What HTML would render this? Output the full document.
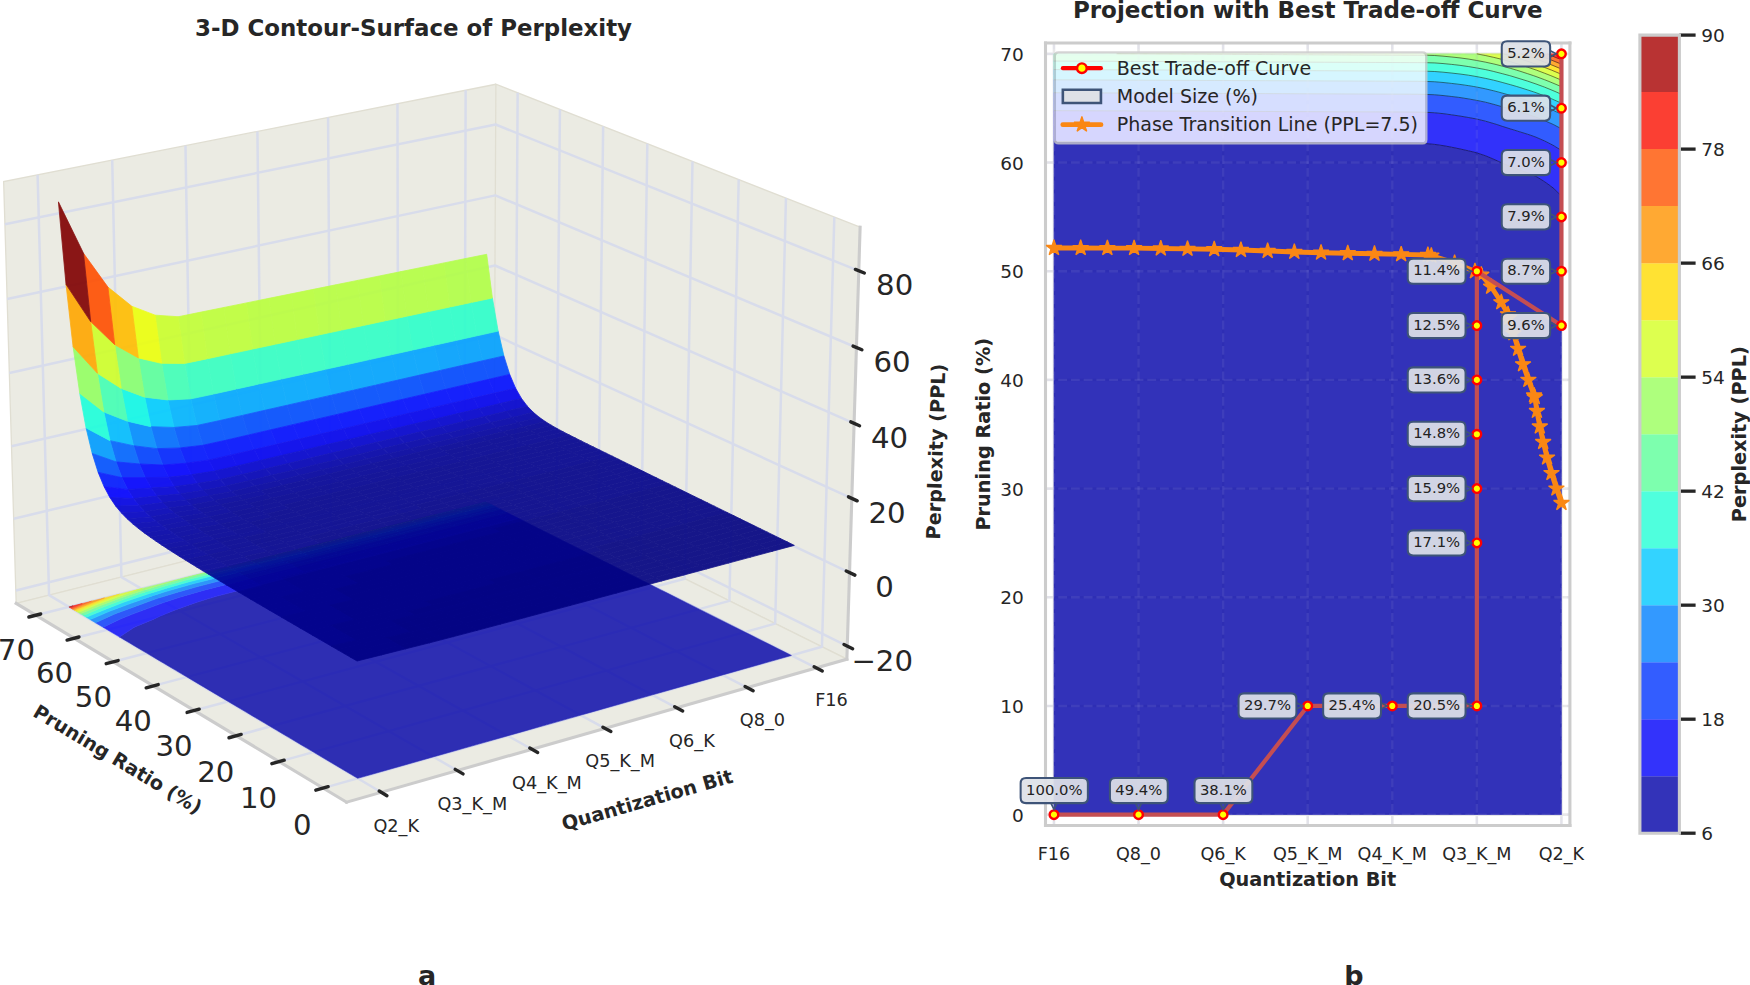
<!DOCTYPE html>
<html lang="en"><head><meta charset="utf-8"><title>Perplexity surface and projection</title>
<style>html,body{margin:0;padding:0;background:#fff}body{width:1750px;height:985px;overflow:hidden}svg{display:block}svg text{font-family:"DejaVu Sans","Liberation Sans",sans-serif}</style></head>
<body>
<svg width="1750" height="985" viewBox="0 0 1750 985"><defs><style type="text/css">*{stroke-linejoin: round; stroke-linecap: butt}</style></defs><g id="figure_1"><g id="patch_1"><path d="M 0 985 L 1750 985 L 1750 0 L 0 0 z" style="fill: #ffffff"/></g><g id="patch_2"><path d="M -1 903.9 L 883.63 903.9 L 883.63 -1" style="fill: none; opacity: 0"/></g><g id="pane3d_1"><g id="patch_3"><path d="M 493.91 484 L 16.17 603.38 L 3.64 181.6 L 495.87 84.26" style="fill: #ebebe3; stroke: #e0ded2; stroke-width: 1.3; stroke-linejoin: miter"/></g></g><g id="pane3d_2"><g id="patch_4"><path d="M 846.88 659.16 L 493.91 484 L 495.87 84.26 L 860.12 227.2" style="fill: #ebebe3; stroke: #e0ded2; stroke-width: 1.3; stroke-linejoin: miter"/></g></g><g id="pane3d_3"><g id="patch_5"><path d="M 846.88 659.16 L 493.91 484 L 16.17 603.38 L 346.59 802.19" style="fill: #ebebe3; stroke: #e0ded2; stroke-width: 1.3; stroke-linejoin: miter"/></g></g><g id="grid3d_1"><g id="Line3DCollection_1"><path d="M 323.13 788.08 L 821.95 646.79 L 834.33 217.09" style="fill: none; stroke: #d8dceb; stroke-width: 2.5"/><path d="M 279.16 761.62 L 775.17 623.58 L 785.96 198.1" style="fill: none; stroke: #d8dceb; stroke-width: 2.5"/><path d="M 236.22 735.78 L 729.43 600.88 L 738.7 179.56" style="fill: none; stroke: #d8dceb; stroke-width: 2.5"/><path d="M 194.29 710.55 L 684.68 578.67 L 692.5 161.43" style="fill: none; stroke: #d8dceb; stroke-width: 2.5"/><path d="M 153.32 685.9 L 640.9 556.95 L 647.33 143.7" style="fill: none; stroke: #d8dceb; stroke-width: 2.5"/><path d="M 113.28 661.81 L 598.06 535.69 L 603.15 126.36" style="fill: none; stroke: #d8dceb; stroke-width: 2.5"/><path d="M 74.14 638.26 L 556.13 514.88 L 559.93 109.41" style="fill: none; stroke: #d8dceb; stroke-width: 2.5"/><path d="M 35.88 615.23 L 515.07 494.51 L 517.65 92.81" style="fill: none; stroke: #d8dceb; stroke-width: 2.5"/></g></g><g id="grid3d_2"><g id="Line3DCollection_2"><path d="M 465.64 90.24 L 464.53 491.35 L 816.27 667.91" style="fill: none; stroke: #d8dceb; stroke-width: 2.5"/><path d="M 397.46 103.72 L 398.27 507.9 L 747.18 687.66" style="fill: none; stroke: #d8dceb; stroke-width: 2.5"/><path d="M 328.07 117.45 L 330.86 524.75 L 676.77 707.79" style="fill: none; stroke: #d8dceb; stroke-width: 2.5"/><path d="M 257.41 131.42 L 262.26 541.88 L 605.01 728.31" style="fill: none; stroke: #d8dceb; stroke-width: 2.5"/><path d="M 185.48 145.64 L 192.46 559.33 L 531.87 749.22" style="fill: none; stroke: #d8dceb; stroke-width: 2.5"/><path d="M 112.21 160.13 L 121.4 577.08 L 457.29 770.55" style="fill: none; stroke: #d8dceb; stroke-width: 2.5"/><path d="M 37.59 174.88 L 49.07 595.15 L 381.23 792.29" style="fill: none; stroke: #d8dceb; stroke-width: 2.5"/></g></g><g id="grid3d_3"><g id="Line3DCollection_3"><path d="M 847.28 646.02 L 493.97 471.82 L 15.79 590.54" style="fill: none; stroke: #d8dceb; stroke-width: 2.5"/><path d="M 849.53 572.59 L 494.3 403.72 L 13.66 518.78" style="fill: none; stroke: #d8dceb; stroke-width: 2.5"/><path d="M 851.81 498.36 L 494.64 334.95 L 11.5 446.28" style="fill: none; stroke: #d8dceb; stroke-width: 2.5"/><path d="M 854.11 423.33 L 494.98 265.5 L 9.33 373.02" style="fill: none; stroke: #d8dceb; stroke-width: 2.5"/><path d="M 856.43 347.49 L 495.32 195.37 L 7.13 298.98" style="fill: none; stroke: #d8dceb; stroke-width: 2.5"/><path d="M 858.78 270.82 L 495.67 124.53 L 4.9 224.15" style="fill: none; stroke: #d8dceb; stroke-width: 2.5"/></g></g><g id="axis3d_1"><g id="line2d_1"><path d="M 16.17 603.38 L 346.59 802.19" style="fill: none; stroke: #cccccc; stroke-width: 3.1; stroke-linecap: square"/></g><g id="xtick_1"><g id="line2d_2"><path d="M 328.16 786.65 L 315.8 790.15" style="fill: none; stroke: #262626; stroke-width: 3.4; stroke-linecap: round"/></g><g id="text_1"><text dx="2.4" dy="-1.5" style="font-size: 29.2px; font-family: 'DejaVu Sans', 'Liberation Sans', sans-serif; text-anchor: middle; fill: #262626" x="299.87" y="836.25" transform="rotate(-0 299.87 836.25)">0</text></g></g><g id="xtick_2"><g id="line2d_3"><path d="M 284.15 760.23 L 271.87 763.65" style="fill: none; stroke: #262626; stroke-width: 3.4; stroke-linecap: round"/></g><g id="text_2"><text dx="2.4" dy="-1.5" style="font-size: 29.2px; font-family: 'DejaVu Sans', 'Liberation Sans', sans-serif; text-anchor: middle; fill: #262626" x="256.11" y="809.44" transform="rotate(-0 256.11 809.44)">10</text></g></g><g id="xtick_3"><g id="line2d_4"><path d="M 241.19 734.42 L 228.98 737.76" style="fill: none; stroke: #262626; stroke-width: 3.4; stroke-linecap: round"/></g><g id="text_3"><text dx="2.4" dy="-1.5" style="font-size: 29.2px; font-family: 'DejaVu Sans', 'Liberation Sans', sans-serif; text-anchor: middle; fill: #262626" x="213.38" y="783.26" transform="rotate(-0 213.38 783.26)">20</text></g></g><g id="xtick_4"><g id="line2d_5"><path d="M 199.22 709.22 L 187.09 712.48" style="fill: none; stroke: #262626; stroke-width: 3.4; stroke-linecap: round"/></g><g id="text_4"><text dx="2.4" dy="-1.5" style="font-size: 29.2px; font-family: 'DejaVu Sans', 'Liberation Sans', sans-serif; text-anchor: middle; fill: #262626" x="171.64" y="757.69" transform="rotate(-0 171.64 757.69)">30</text></g></g><g id="xtick_5"><g id="line2d_6"><path d="M 158.21 684.6 L 146.17 687.79" style="fill: none; stroke: #262626; stroke-width: 3.4; stroke-linecap: round"/></g><g id="text_5"><text dx="2.4" dy="-1.5" style="font-size: 29.2px; font-family: 'DejaVu Sans', 'Liberation Sans', sans-serif; text-anchor: middle; fill: #262626" x="130.87" y="732.72" transform="rotate(-0 130.87 732.72)">40</text></g></g><g id="xtick_6"><g id="line2d_7"><path d="M 118.15 660.54 L 106.17 663.65" style="fill: none; stroke: #262626; stroke-width: 3.4; stroke-linecap: round"/></g><g id="text_6"><text dx="2.4" dy="-1.5" style="font-size: 29.2px; font-family: 'DejaVu Sans', 'Liberation Sans', sans-serif; text-anchor: middle; fill: #262626" x="91.03" y="708.31" transform="rotate(-0 91.03 708.31)">50</text></g></g><g id="xtick_7"><g id="line2d_8"><path d="M 78.98 637.02 L 67.08 640.06" style="fill: none; stroke: #262626; stroke-width: 3.4; stroke-linecap: round"/></g><g id="text_7"><text dx="2.4" dy="-1.5" style="font-size: 29.2px; font-family: 'DejaVu Sans', 'Liberation Sans', sans-serif; text-anchor: middle; fill: #262626" x="52.09" y="684.45" transform="rotate(-0 52.09 684.45)">60</text></g></g><g id="xtick_8"><g id="line2d_9"><path d="M 40.68 614.02 L 28.86 617" style="fill: none; stroke: #262626; stroke-width: 3.4; stroke-linecap: round"/></g><g id="text_8"><text dx="2.4" dy="-1.5" style="font-size: 29.2px; font-family: 'DejaVu Sans', 'Liberation Sans', sans-serif; text-anchor: middle; fill: #262626" x="14.01" y="661.13" transform="rotate(-0 14.01 661.13)">70</text></g></g><g id="text_9"><text style="font-weight: 700; font-size: 19.3px; font-family: 'DejaVu Sans', 'Liberation Sans', sans-serif; text-anchor: middle; fill: #262626" x="114.22" y="765.07" transform="rotate(-328.96 114.22 765.07)">Pruning Ratio (%)</text></g></g><g id="axis3d_2"><g id="line2d_10"><path d="M 846.88 659.16 L 346.59 802.19" style="fill: none; stroke: #cccccc; stroke-width: 3.1; stroke-linecap: square"/></g><g id="xtick_9"><g id="line2d_11"><path d="M 814.12 666.83 L 822.27 670.92" style="fill: none; stroke: #262626; stroke-width: 3.4; stroke-linecap: round"/></g><g id="text_10"><text style="font-size: 17.7px; font-family: 'DejaVu Sans', 'Liberation Sans', sans-serif; text-anchor: middle; fill: #262626" x="831.5" y="706.44" transform="rotate(-0 831.5 706.44)">F16</text></g></g><g id="xtick_10"><g id="line2d_12"><path d="M 745.05 686.56 L 753.14 690.73" style="fill: none; stroke: #262626; stroke-width: 3.4; stroke-linecap: round"/></g><g id="text_11"><text style="font-size: 17.7px; font-family: 'DejaVu Sans', 'Liberation Sans', sans-serif; text-anchor: middle; fill: #262626" x="762.37" y="726.17" transform="rotate(-0 762.37 726.17)">Q8_0</text></g></g><g id="xtick_11"><g id="line2d_13"><path d="M 674.66 706.67 L 682.68 710.92" style="fill: none; stroke: #262626; stroke-width: 3.4; stroke-linecap: round"/></g><g id="text_12"><text style="font-size: 17.7px; font-family: 'DejaVu Sans', 'Liberation Sans', sans-serif; text-anchor: middle; fill: #262626" x="691.93" y="746.59" transform="rotate(-0 691.93 746.59)">Q6_K</text></g></g><g id="xtick_12"><g id="line2d_14"><path d="M 602.91 727.17 L 610.88 731.5" style="fill: none; stroke: #262626; stroke-width: 3.4; stroke-linecap: round"/></g><g id="text_13"><text style="font-size: 17.7px; font-family: 'DejaVu Sans', 'Liberation Sans', sans-serif; text-anchor: middle; fill: #262626" x="620.13" y="767.41" transform="rotate(-0 620.13 767.41)">Q5_K_M</text></g></g><g id="xtick_13"><g id="line2d_15"><path d="M 529.78 748.06 L 537.67 752.47" style="fill: none; stroke: #262626; stroke-width: 3.4; stroke-linecap: round"/></g><g id="text_14"><text style="font-size: 17.7px; font-family: 'DejaVu Sans', 'Liberation Sans', sans-serif; text-anchor: middle; fill: #262626" x="546.94" y="788.63" transform="rotate(-0 546.94 788.63)">Q4_K_M</text></g></g><g id="xtick_14"><g id="line2d_16"><path d="M 455.22 769.36 L 463.04 773.86" style="fill: none; stroke: #262626; stroke-width: 3.4; stroke-linecap: round"/></g><g id="text_15"><text style="font-size: 17.7px; font-family: 'DejaVu Sans', 'Liberation Sans', sans-serif; text-anchor: middle; fill: #262626" x="472.31" y="810.27" transform="rotate(-0 472.31 810.27)">Q3_K_M</text></g></g><g id="xtick_15"><g id="line2d_17"><path d="M 379.19 791.08 L 386.93 795.67" style="fill: none; stroke: #262626; stroke-width: 3.4; stroke-linecap: round"/></g><g id="text_16"><text style="font-size: 17.7px; font-family: 'DejaVu Sans', 'Liberation Sans', sans-serif; text-anchor: middle; fill: #262626" x="396.21" y="832.33" transform="rotate(-0 396.21 832.33)">Q2_K</text></g></g><g id="text_17"><text style="font-weight: 700; font-size: 19.3px; font-family: 'DejaVu Sans', 'Liberation Sans', sans-serif; text-anchor: middle; fill: #262626" x="649.01" y="806.47" transform="rotate(-15.96 649.01 806.47)">Quantization Bit</text></g></g><g id="axis3d_3"><g id="line2d_18"><path d="M 846.88 659.16 L 860.12 227.2" style="fill: none; stroke: #cccccc; stroke-width: 3.1; stroke-linecap: square"/></g><g id="xtick_16"><g id="line2d_19"><path d="M 843.98 644.4 L 852.62 648.66" style="fill: none; stroke: #262626; stroke-width: 3.4; stroke-linecap: round"/></g><g id="text_18"><text style="font-size: 29.2px; font-family: 'DejaVu Sans', 'Liberation Sans', sans-serif; text-anchor: middle; fill: #262626" x="882.19" y="670.54" transform="rotate(-0 882.19 670.54)">−20</text></g></g><g id="xtick_17"><g id="line2d_20"><path d="M 846.21 571.01 L 854.91 575.14" style="fill: none; stroke: #262626; stroke-width: 3.4; stroke-linecap: round"/></g><g id="text_19"><text style="font-size: 29.2px; font-family: 'DejaVu Sans', 'Liberation Sans', sans-serif; text-anchor: middle; fill: #262626" x="884.63" y="597.03" transform="rotate(-0 884.63 597.03)">0</text></g></g><g id="xtick_18"><g id="line2d_21"><path d="M 848.47 496.83 L 857.21 500.83" style="fill: none; stroke: #262626; stroke-width: 3.4; stroke-linecap: round"/></g><g id="text_20"><text style="font-size: 29.2px; font-family: 'DejaVu Sans', 'Liberation Sans', sans-serif; text-anchor: middle; fill: #262626" x="887.09" y="522.73" transform="rotate(-0 887.09 522.73)">20</text></g></g><g id="xtick_19"><g id="line2d_22"><path d="M 850.75 421.86 L 859.55 425.72" style="fill: none; stroke: #262626; stroke-width: 3.4; stroke-linecap: round"/></g><g id="text_21"><text style="font-size: 29.2px; font-family: 'DejaVu Sans', 'Liberation Sans', sans-serif; text-anchor: middle; fill: #262626" x="889.59" y="447.63" transform="rotate(-0 889.59 447.63)">40</text></g></g><g id="xtick_20"><g id="line2d_23"><path d="M 853.05 346.07 L 861.9 349.79" style="fill: none; stroke: #262626; stroke-width: 3.4; stroke-linecap: round"/></g><g id="text_22"><text style="font-size: 29.2px; font-family: 'DejaVu Sans', 'Liberation Sans', sans-serif; text-anchor: middle; fill: #262626" x="892.11" y="371.71" transform="rotate(-0 892.11 371.71)">60</text></g></g><g id="xtick_21"><g id="line2d_24"><path d="M 855.38 269.45 L 864.29 273.04" style="fill: none; stroke: #262626; stroke-width: 3.4; stroke-linecap: round"/></g><g id="text_23"><text style="font-size: 29.2px; font-family: 'DejaVu Sans', 'Liberation Sans', sans-serif; text-anchor: middle; fill: #262626" x="894.65" y="294.97" transform="rotate(-0 894.65 294.97)">80</text></g></g><g id="text_24"><text style="font-weight: 700; font-size: 19.3px; font-family: 'DejaVu Sans', 'Liberation Sans', sans-serif; text-anchor: middle; fill: #262626" x="942.72" y="451.76" transform="rotate(-88.24 942.72 451.76)">Perplexity (PPL)</text></g></g><g id="axes_1"><g id="QuadContourSet3D_1" opacity="0.8" stroke-width="0.6"><path d="M 769.8 661.56 L 748.05 667.72 L 726.17 673.92 L 704.16 680.15 L 682.02 686.42 L 659.75 692.73 L 637.35 699.08 L 614.81 705.46 L 592.13 711.88 L 569.32 718.35 L 546.37 724.85 L 523.29 731.38 L 500.06 737.96 L 476.69 744.58 L 453.17 751.24 L 429.51 757.95 L 405.71 764.69 L 381.76 771.47 L 357.66 778.3 L 351.28 774.51 L 344.92 770.74 L 338.59 766.98 L 332.28 763.23 L 325.98 759.5 L 319.71 755.78 L 313.47 752.07 L 307.24 748.37 L 301.03 744.69 L 294.85 741.02 L 288.68 737.36 L 282.54 733.71 L 276.41 730.08 L 270.31 726.46 L 264.23 722.85 L 258.17 719.25 L 252.12 715.66 L 246.1 712.09 L 240.1 708.53 L 234.12 704.98 L 228.16 701.44 L 222.21 697.91 L 216.29 694.4 L 210.39 690.9 L 204.51 687.4 L 198.64 683.92 L 192.8 680.45 L 186.97 677 L 181.16 673.55 L 175.38 670.11 L 169.61 666.69 L 163.86 663.28 L 158.12 659.88 L 152.41 656.49 L 146.72 653.11 L 141.04 649.74 L 135.38 646.38 L 129.74 643.03 L 124.12 639.7 L 119.52 636.97 L 121.36 635.64 L 133.55 627.77 L 135.45 626.68 L 154.9 618.64 L 159.78 616.34 L 173.84 610.45 L 194.07 603.15 L 197.7 601.97 L 215.36 596.59 L 237.66 590.71 L 260.02 584.97 L 282.26 579.27 L 304.37 573.6 L 326.35 567.95 L 348.2 562.34 L 369.93 556.76 L 391.55 551.21 L 413.05 545.69 L 434.43 540.21 L 455.69 534.76 L 476.84 529.33 L 497.87 523.94 L 518.78 518.58 L 520.62 519.5 L 526.51 522.46 L 532.43 525.43 L 538.36 528.41 L 544.31 531.39 L 550.28 534.39 L 556.27 537.39 L 562.27 540.41 L 568.3 543.43 L 574.34 546.47 L 580.4 549.51 L 586.48 552.56 L 592.58 555.62 L 598.69 558.69 L 604.83 561.77 L 610.98 564.86 L 617.16 567.96 L 623.35 571.07 L 629.56 574.19 L 635.79 577.32 L 642.05 580.45 L 648.32 583.6 L 654.61 586.76 L 660.92 589.93 L 667.25 593.1 L 673.6 596.29 L 679.97 599.49 L 686.36 602.7 L 692.77 605.92 L 699.2 609.14 L 705.65 612.38 L 712.12 615.63 L 718.62 618.89 L 725.13 622.16 L 731.66 625.44 L 738.22 628.73 L 744.8 632.03 L 751.39 635.34 L 758.01 638.66 L 764.65 642 L 771.31 645.34 L 777.99 648.69 L 784.7 652.06 L 791.42 655.44 z" fill="#0000a8" stroke="#0000a8"/><path d="M 119.52 636.97 L 118.52 636.37 L 112.93 633.06 L 107.37 629.75 L 103.21 627.28 L 107.81 624.93 L 121.51 618.49 L 133.79 613.62 L 141.43 610.79 L 161.46 603.31 L 178.9 597.5 L 182.31 596.43 L 204.02 590.17 L 226.38 584.38 L 248.71 578.68 L 270.91 573.01 L 292.98 567.38 L 314.93 561.77 L 336.76 556.2 L 358.46 550.65 L 380.04 545.14 L 401.51 539.66 L 422.85 534.21 L 444.08 528.78 L 465.19 523.39 L 486.19 518.03 L 507.07 512.7 L 508.88 513.61 L 514.74 516.55 L 518.78 518.58 L 497.87 523.94 L 476.84 529.33 L 455.69 534.76 L 434.43 540.21 L 413.05 545.69 L 391.55 551.21 L 369.93 556.76 L 348.2 562.34 L 326.35 567.95 L 304.37 573.6 L 282.26 579.27 L 260.02 584.97 L 237.66 590.71 L 215.36 596.59 L 197.7 601.97 L 194.07 603.15 L 173.84 610.45 L 159.78 616.34 L 154.9 618.64 L 135.45 626.68 L 133.55 627.77 L 121.36 635.64 z" fill="#0000fa" stroke="#0000fa"/><path d="M 103.21 627.28 L 101.82 626.46 L 96.28 623.18 L 95.44 622.67 L 114.19 614.18 L 115.94 613.5 L 134.45 606.73 L 154.57 599.33 L 158.38 598.1 L 175.83 592.73 L 197.6 586.53 L 219.97 580.79 L 242.27 575.1 L 264.45 569.45 L 286.5 563.84 L 308.43 558.25 L 330.23 552.69 L 351.91 547.17 L 373.47 541.67 L 394.91 536.21 L 416.24 530.77 L 437.44 525.37 L 458.53 520 L 479.51 514.65 L 500.37 509.33 L 503.04 510.67 L 507.07 512.7 L 486.19 518.03 L 465.19 523.39 L 444.08 528.78 L 422.85 534.21 L 401.51 539.66 L 380.04 545.14 L 358.46 550.65 L 336.76 556.2 L 314.93 561.77 L 292.98 567.38 L 270.91 573.01 L 248.71 578.68 L 226.38 584.38 L 204.02 590.17 L 182.31 596.43 L 178.9 597.5 L 161.46 603.31 L 141.43 610.79 L 133.79 613.62 L 121.51 618.49 L 107.81 624.93 z" fill="#0034ff" stroke="#0034ff"/><path d="M 114.19 614.18 L 95.44 622.67 L 90.77 619.9 L 90.24 619.59 L 109.38 611.35 L 115.6 608.95 L 129.53 603.86 L 149.9 596.64 L 164.92 591.85 L 171.03 589.99 L 192.89 583.86 L 215.26 578.15 L 237.55 572.48 L 259.71 566.84 L 281.75 561.24 L 303.66 555.67 L 325.45 550.13 L 347.12 544.62 L 368.67 539.14 L 390.1 533.69 L 411.41 528.27 L 432.6 522.88 L 453.68 517.52 L 474.64 512.19 L 495.49 506.88 L 497.21 507.75 L 500.37 509.33 L 479.51 514.65 L 458.53 520 L 437.44 525.37 L 416.24 530.77 L 394.91 536.21 L 373.47 541.67 L 351.91 547.17 L 330.23 552.69 L 308.43 558.25 L 286.5 563.84 L 264.45 569.45 L 242.27 575.1 L 219.97 580.79 L 197.6 586.53 L 175.83 592.73 L 158.38 598.1 L 154.57 599.33 L 134.45 606.73 L 115.94 613.5 z" fill="#0080ff" stroke="#0080ff"/><path d="M 109.38 611.35 L 90.24 619.59 L 86.39 617.3 L 91.46 615.07 L 105.7 609.19 L 123.43 602.34 L 125.57 601.56 L 146.24 594.53 L 167.43 587.93 L 189.16 581.75 L 211.53 576.05 L 233.79 570.39 L 255.93 564.76 L 277.95 559.16 L 299.84 553.6 L 321.61 548.06 L 343.25 542.56 L 364.78 537.09 L 386.19 531.64 L 407.48 526.23 L 428.65 520.85 L 449.71 515.49 L 470.65 510.17 L 491.47 504.87 L 495.49 506.88 L 474.64 512.19 L 453.68 517.52 L 432.6 522.88 L 411.41 528.27 L 390.1 533.69 L 368.67 539.14 L 347.12 544.62 L 325.45 550.13 L 303.66 555.67 L 281.75 561.24 L 259.71 566.84 L 237.55 572.48 L 215.26 578.15 L 192.89 583.86 L 171.03 589.99 L 164.92 591.85 L 149.9 596.64 L 129.53 603.86 L 115.6 608.95 z" fill="#00c8ff" stroke="#00c8ff"/><path d="M 86.39 617.3 L 85.27 616.64 L 83.29 615.46 L 100.06 608.26 L 102.46 607.28 L 122.6 599.83 L 140.95 593.33 L 142.97 592.65 L 164.35 586.17 L 186.2 580.08 L 208.58 574.39 L 230.84 568.74 L 252.97 563.13 L 274.98 557.54 L 296.87 551.99 L 318.63 546.47 L 340.28 540.98 L 361.8 535.51 L 383.21 530.08 L 404.49 524.68 L 425.66 519.31 L 446.71 513.96 L 467.65 508.65 L 488.47 503.36 L 491.4 504.84 L 491.47 504.87 L 470.65 510.17 L 449.71 515.49 L 428.65 520.85 L 407.48 526.23 L 386.19 531.64 L 364.78 537.09 L 343.25 542.56 L 321.61 548.06 L 299.84 553.6 L 277.95 559.16 L 255.93 564.76 L 233.79 570.39 L 211.53 576.05 L 189.16 581.75 L 167.43 587.93 L 146.24 594.53 L 125.57 601.56 L 123.43 602.34 L 105.7 609.19 L 91.46 615.07 z" fill="#23ffd4" stroke="#23ffd4"/><path d="M 83.29 615.46 L 80.5 613.81 L 83.9 612.35 L 99.96 605.82 L 115.89 599.65 L 119.81 598.2 L 140.49 591.21 L 161.68 584.64 L 183.43 578.51 L 205.8 572.84 L 228.05 567.19 L 250.17 561.58 L 272.16 556 L 294.03 550.45 L 315.78 544.94 L 337.41 539.45 L 358.92 533.99 L 380.3 528.56 L 401.57 523.17 L 422.73 517.8 L 436.53 514.29 L 443.78 512.47 L 464.75 507.18 L 485.61 501.93 L 488.47 503.36 L 467.65 508.65 L 446.71 513.96 L 425.66 519.31 L 404.49 524.68 L 383.21 530.08 L 361.8 535.51 L 340.28 540.98 L 318.63 546.47 L 296.87 551.99 L 274.98 557.54 L 252.97 563.13 L 230.84 568.74 L 208.58 574.39 L 186.2 580.08 L 164.35 586.17 L 142.97 592.65 L 140.95 593.33 L 122.6 599.83 L 102.46 607.28 L 100.06 608.26 z" fill="#5dff9a" stroke="#5dff9a"/><path d="M 80.5 613.81 L 79.79 613.39 L 78.26 612.48 L 97.47 604.35 L 97.81 604.22 L 117.58 596.91 L 138 589.78 L 142.43 588.39 L 160.34 583.88 L 182.88 578.2 L 205.29 572.55 L 227.58 566.93 L 249.75 561.35 L 271.79 555.8 L 293.7 550.28 L 315.5 544.79 L 337.18 539.32 L 358.73 533.89 L 380.17 528.49 L 401.49 523.12 L 422.69 517.78 L 436.53 514.29 L 422.73 517.8 L 401.57 523.17 L 380.3 528.56 L 358.92 533.99 L 337.41 539.45 L 315.78 544.94 L 294.03 550.45 L 272.16 556 L 250.17 561.58 L 228.05 567.19 L 205.8 572.84 L 183.43 578.51 L 161.68 584.64 L 140.49 591.21 L 119.81 598.2 L 115.89 599.65 L 99.96 605.82 L 83.9 612.35 z" fill="#9aff5d" stroke="#9aff5d"/><path d="M 97.47 604.35 L 78.26 612.48 L 76.21 611.26 L 85.5 607.33 L 95.59 603.25 L 115.36 595.61 L 119.47 594.17 L 137.67 589.59 L 142.43 588.39 L 138 589.78 L 117.58 596.91 L 97.81 604.22 z" fill="#d4ff23" stroke="#d4ff23"/><path d="M 76.21 611.26 L 74.33 610.15 L 74.2 610.07 L 93.72 602.15 L 104.55 597.93 L 114.87 595.33 L 119.47 594.17 L 115.36 595.61 L 95.59 603.25 L 85.5 607.33 z" fill="#ffdb00" stroke="#ffdb00"/><path d="M 93.72 602.15 L 74.2 610.07 L 72.66 609.15 L 91.5 601.22 L 91.95 601.11 L 104.55 597.93 z" fill="#ff9400" stroke="#ff9400"/><path d="M 72.66 609.15 L 71.12 608.24 L 82.29 603.54 L 91.5 601.22 z" fill="#ff5200" stroke="#ff5200"/><path d="M 71.12 608.24 L 69.58 607.33 L 73.05 605.87 L 82.29 603.54 z" fill="#fa0f00" stroke="#fa0f00"/><path d="M 69.58 607.33 L 68.89 606.92 L 73.05 605.87 z" fill="#a80000" stroke="#a80000"/></g><g id="Poly3DCollection_1" opacity="0.9" stroke-width="0.8"><path d="M 503.9 355.93 L 482.76 360.74 L 476.96 335.78 L 498.12 331.1 z" fill="#00a0ff" stroke="#00a0ff"/><path d="M 509.71 374.41 L 488.58 379.32 L 482.76 360.74 L 503.9 355.93 z" fill="#0048ff" stroke="#0048ff"/><path d="M 498.12 331.1 L 476.96 335.78 L 471.2 302.48 L 492.38 297.97 z" fill="#2cffca" stroke="#2cffca"/><path d="M 515.56 388.14 L 494.43 393.12 L 488.58 379.32 L 509.71 374.41 z" fill="#000cff" stroke="#000cff"/><path d="M 492.38 297.97 L 471.2 302.48 L 465.45 258.59 L 486.68 254.31 z" fill="#b1ff46" stroke="#b1ff46"/><path d="M 521.44 398.41 L 500.31 403.44 L 494.43 393.12 L 515.56 388.14 z" fill="#0000ed" stroke="#0000ed"/><path d="M 527.36 406.23 L 506.21 411.3 L 500.31 403.44 L 521.44 398.41 z" fill="#0000cd" stroke="#0000cd"/><path d="M 482.76 360.74 L 461.5 365.58 L 455.69 340.49 L 476.96 335.78 z" fill="#00a0ff" stroke="#00a0ff"/><path d="M 488.58 379.32 L 467.33 384.25 L 461.5 365.58 L 482.76 360.74 z" fill="#0048ff" stroke="#0048ff"/><path d="M 476.96 335.78 L 455.69 340.49 L 449.89 307.02 L 471.2 302.48 z" fill="#2cffca" stroke="#2cffca"/><path d="M 494.43 393.12 L 473.19 398.12 L 467.33 384.25 L 488.58 379.32 z" fill="#000cff" stroke="#000cff"/><path d="M 533.3 412.34 L 512.14 417.44 L 506.21 411.3 L 527.36 406.23 z" fill="#0000b6" stroke="#0000b6"/><path d="M 471.2 302.48 L 449.89 307.02 L 444.1 262.91 L 465.45 258.59 z" fill="#b1ff46" stroke="#b1ff46"/><path d="M 500.31 403.44 L 479.06 408.5 L 473.19 398.12 L 494.43 393.12 z" fill="#0000ed" stroke="#0000ed"/><path d="M 539.26 417.31 L 518.1 422.43 L 512.14 417.44 L 533.3 412.34 z" fill="#0000a8" stroke="#0000a8"/><path d="M 506.21 411.3 L 484.95 416.39 L 479.06 408.5 L 500.31 403.44 z" fill="#0000cd" stroke="#0000cd"/><path d="M 461.5 365.58 L 440.13 370.44 L 434.3 345.22 L 455.69 340.49 z" fill="#00a0ff" stroke="#00a0ff"/><path d="M 467.33 384.25 L 445.97 389.21 L 440.13 370.44 L 461.5 365.58 z" fill="#0048ff" stroke="#0048ff"/><path d="M 455.69 340.49 L 434.3 345.22 L 428.47 311.58 L 449.89 307.02 z" fill="#2cffca" stroke="#2cffca"/><path d="M 473.19 398.12 L 451.82 403.15 L 445.97 389.21 L 467.33 384.25 z" fill="#000cff" stroke="#000cff"/><path d="M 545.25 421.51 L 524.07 426.66 L 518.1 422.43 L 539.26 417.31 z" fill="#00009f" stroke="#00009f"/><path d="M 512.14 417.44 L 490.87 422.57 L 484.95 416.39 L 506.21 411.3 z" fill="#0000b6" stroke="#0000b6"/><path d="M 449.89 307.02 L 428.47 311.58 L 422.63 267.24 L 444.1 262.91 z" fill="#b4ff43" stroke="#b4ff43"/><path d="M 479.06 408.5 L 457.69 413.58 L 451.82 403.15 L 473.19 398.12 z" fill="#0000ed" stroke="#0000ed"/><path d="M 518.1 422.43 L 496.81 427.59 L 490.87 422.57 L 512.14 417.44 z" fill="#0000a8" stroke="#0000a8"/><path d="M 551.26 425.24 L 530.06 430.4 L 524.07 426.66 L 545.25 421.51 z" fill="#000096" stroke="#000096"/><path d="M 484.95 416.39 L 463.58 421.52 L 457.69 413.58 L 479.06 408.5 z" fill="#0000cd" stroke="#0000cd"/><path d="M 440.13 370.44 L 418.64 375.33 L 412.79 349.98 L 434.3 345.22 z" fill="#00a4ff" stroke="#00a4ff"/><path d="M 445.97 389.21 L 424.48 394.19 L 418.64 375.33 L 440.13 370.44 z" fill="#0048ff" stroke="#0048ff"/><path d="M 434.3 345.22 L 412.79 349.98 L 406.93 316.17 L 428.47 311.58 z" fill="#2cffca" stroke="#2cffca"/><path d="M 451.82 403.15 L 430.34 408.2 L 424.48 394.19 L 445.97 389.21 z" fill="#000cff" stroke="#000cff"/><path d="M 524.07 426.66 L 502.77 431.84 L 496.81 427.59 L 518.1 422.43 z" fill="#00009f" stroke="#00009f"/><path d="M 490.87 422.57 L 469.48 427.73 L 463.58 421.52 L 484.95 416.39 z" fill="#0000b6" stroke="#0000b6"/><path d="M 557.29 428.65 L 536.08 433.84 L 530.06 430.4 L 551.26 425.24 z" fill="#000092" stroke="#000092"/><path d="M 428.47 311.58 L 406.93 316.17 L 401.05 271.61 L 422.63 267.24 z" fill="#b4ff43" stroke="#b4ff43"/><path d="M 457.69 413.58 L 436.2 418.69 L 430.34 408.2 L 451.82 403.15 z" fill="#0000ed" stroke="#0000ed"/><path d="M 496.81 427.59 L 475.41 432.77 L 469.48 427.73 L 490.87 422.57 z" fill="#0000a8" stroke="#0000a8"/><path d="M 530.06 430.4 L 508.75 435.6 L 502.77 431.84 L 524.07 426.66 z" fill="#000096" stroke="#000096"/><path d="M 463.58 421.52 L 442.08 426.66 L 436.2 418.69 L 457.69 413.58 z" fill="#0000cd" stroke="#0000cd"/><path d="M 418.64 375.33 L 397.03 380.24 L 391.16 354.77 L 412.79 349.98 z" fill="#00a4ff" stroke="#00a4ff"/><path d="M 563.34 431.89 L 542.11 437.1 L 536.08 433.84 L 557.29 428.65 z" fill="#000092" stroke="#000092"/><path d="M 424.48 394.19 L 402.88 399.2 L 397.03 380.24 L 418.64 375.33 z" fill="#004cff" stroke="#004cff"/><path d="M 412.79 349.98 L 391.16 354.77 L 385.27 320.79 L 406.93 316.17 z" fill="#30ffc7" stroke="#30ffc7"/><path d="M 430.34 408.2 L 408.73 413.28 L 402.88 399.2 L 424.48 394.19 z" fill="#000cff" stroke="#000cff"/><path d="M 502.77 431.84 L 481.35 437.05 L 475.41 432.77 L 496.81 427.59 z" fill="#00009f" stroke="#00009f"/><path d="M 469.48 427.73 L 447.97 432.91 L 442.08 426.66 L 463.58 421.52 z" fill="#0000b6" stroke="#0000b6"/><path d="M 536.08 433.84 L 514.75 439.06 L 508.75 435.6 L 530.06 430.4 z" fill="#000092" stroke="#000092"/><path d="M 406.93 316.17 L 385.27 320.79 L 379.34 276 L 401.05 271.61 z" fill="#b4ff43" stroke="#b4ff43"/><path d="M 569.41 435.02 L 548.17 440.24 L 542.11 437.1 L 563.34 431.89 z" fill="#000092" stroke="#000092"/><path d="M 436.2 418.69 L 414.59 423.82 L 408.73 413.28 L 430.34 408.2 z" fill="#0000ed" stroke="#0000ed"/><path d="M 475.41 432.77 L 453.88 437.98 L 447.97 432.91 L 469.48 427.73 z" fill="#0000a8" stroke="#0000a8"/><path d="M 508.75 435.6 L 487.32 440.83 L 481.35 437.05 L 502.77 431.84 z" fill="#000096" stroke="#000096"/><path d="M 442.08 426.66 L 420.46 431.84 L 414.59 423.82 L 436.2 418.69 z" fill="#0000cd" stroke="#0000cd"/><path d="M 542.11 437.1 L 520.77 442.33 L 514.75 439.06 L 536.08 433.84 z" fill="#000092" stroke="#000092"/><path d="M 397.03 380.24 L 375.29 385.18 L 369.41 359.58 L 391.16 354.77 z" fill="#00a4ff" stroke="#00a4ff"/><path d="M 402.88 399.2 L 381.15 404.24 L 375.29 385.18 L 397.03 380.24 z" fill="#004cff" stroke="#004cff"/><path d="M 575.5 438.09 L 554.24 443.33 L 548.17 440.24 L 569.41 435.02 z" fill="#00008d" stroke="#00008d"/><path d="M 391.16 354.77 L 369.41 359.58 L 363.49 325.43 L 385.27 320.79 z" fill="#30ffc7" stroke="#30ffc7"/><path d="M 408.73 413.28 L 387.01 418.39 L 381.15 404.24 L 402.88 399.2 z" fill="#000cff" stroke="#000cff"/><path d="M 481.35 437.05 L 459.81 442.28 L 453.88 437.98 L 475.41 432.77 z" fill="#00009f" stroke="#00009f"/><path d="M 447.97 432.91 L 426.34 438.12 L 420.46 431.84 L 442.08 426.66 z" fill="#0000b6" stroke="#0000b6"/><path d="M 514.75 439.06 L 493.3 444.31 L 487.32 440.83 L 508.75 435.6 z" fill="#000092" stroke="#000092"/><path d="M 385.27 320.79 L 363.49 325.43 L 357.5 280.41 L 379.34 276 z" fill="#b7ff40" stroke="#b7ff40"/><path d="M 548.17 440.24 L 526.81 445.5 L 520.77 442.33 L 542.11 437.1 z" fill="#000092" stroke="#000092"/><path d="M 414.59 423.82 L 392.86 428.98 L 387.01 418.39 L 408.73 413.28 z" fill="#0000ed" stroke="#0000ed"/><path d="M 581.61 441.13 L 560.33 446.39 L 554.24 443.33 L 575.5 438.09 z" fill="#00008d" stroke="#00008d"/><path d="M 453.88 437.98 L 432.24 443.21 L 426.34 438.12 L 447.97 432.91 z" fill="#0000a8" stroke="#0000a8"/><path d="M 487.32 440.83 L 465.76 446.08 L 459.81 442.28 L 481.35 437.05 z" fill="#000096" stroke="#000096"/><path d="M 420.46 431.84 L 398.72 437.04 L 392.86 428.98 L 414.59 423.82 z" fill="#0000cd" stroke="#0000cd"/><path d="M 520.77 442.33 L 499.31 447.6 L 493.3 444.31 L 514.75 439.06 z" fill="#000092" stroke="#000092"/><path d="M 375.29 385.18 L 353.43 390.15 L 347.53 364.42 L 369.41 359.58 z" fill="#00a4ff" stroke="#00a4ff"/><path d="M 381.15 404.24 L 359.3 409.29 L 353.43 390.15 L 375.29 385.18 z" fill="#004cff" stroke="#004cff"/><path d="M 554.24 443.33 L 532.87 448.6 L 526.81 445.5 L 548.17 440.24 z" fill="#00008d" stroke="#00008d"/><path d="M 369.41 359.58 L 347.53 364.42 L 341.58 330.1 L 363.49 325.43 z" fill="#30ffc7" stroke="#30ffc7"/><path d="M 587.73 444.16 L 566.45 449.43 L 560.33 446.39 L 581.61 441.13 z" fill="#00008d" stroke="#00008d"/><path d="M 387.01 418.39 L 365.16 423.52 L 359.3 409.29 L 381.15 404.24 z" fill="#000cff" stroke="#000cff"/><path d="M 459.81 442.28 L 438.16 447.53 L 432.24 443.21 L 453.88 437.98 z" fill="#00009f" stroke="#00009f"/><path d="M 426.34 438.12 L 404.59 443.35 L 398.72 437.04 L 420.46 431.84 z" fill="#0000b6" stroke="#0000b6"/><path d="M 493.3 444.31 L 471.73 449.57 L 465.76 446.08 L 487.32 440.83 z" fill="#000092" stroke="#000092"/><path d="M 363.49 325.43 L 341.58 330.1 L 335.55 284.86 L 357.5 280.41 z" fill="#b7ff40" stroke="#b7ff40"/><path d="M 526.81 445.5 L 505.33 450.78 L 499.31 447.6 L 520.77 442.33 z" fill="#000092" stroke="#000092"/><path d="M 392.86 428.98 L 371 434.17 L 365.16 423.52 L 387.01 418.39 z" fill="#0000ed" stroke="#0000ed"/><path d="M 560.33 446.39 L 538.94 451.67 L 532.87 448.6 L 554.24 443.33 z" fill="#00008d" stroke="#00008d"/><path d="M 593.88 447.18 L 572.58 452.47 L 566.45 449.43 L 587.73 444.16 z" fill="#00008d" stroke="#00008d"/><path d="M 432.24 443.21 L 410.47 448.48 L 404.59 443.35 L 426.34 438.12 z" fill="#0000a8" stroke="#0000a8"/><path d="M 465.76 446.08 L 444.09 451.36 L 438.16 447.53 L 459.81 442.28 z" fill="#000096" stroke="#000096"/><path d="M 398.72 437.04 L 376.85 442.27 L 371 434.17 L 392.86 428.98 z" fill="#0000cd" stroke="#0000cd"/><path d="M 499.31 447.6 L 477.72 452.88 L 471.73 449.57 L 493.3 444.31 z" fill="#000092" stroke="#000092"/><path d="M 353.43 390.15 L 331.45 395.14 L 325.53 369.28 L 347.53 364.42 z" fill="#00a4ff" stroke="#00a4ff"/><path d="M 359.3 409.29 L 337.33 414.38 L 331.45 395.14 L 353.43 390.15 z" fill="#004cff" stroke="#004cff"/><path d="M 532.87 448.6 L 511.37 453.9 L 505.33 450.78 L 526.81 445.5 z" fill="#00008d" stroke="#00008d"/><path d="M 347.53 364.42 L 325.53 369.28 L 319.55 334.79 L 341.58 330.1 z" fill="#30ffc7" stroke="#30ffc7"/><path d="M 566.45 449.43 L 545.04 454.73 L 538.94 451.67 L 560.33 446.39 z" fill="#00008d" stroke="#00008d"/><path d="M 365.16 423.52 L 343.18 428.68 L 337.33 414.38 L 359.3 409.29 z" fill="#000cff" stroke="#000cff"/><path d="M 600.05 450.21 L 578.73 455.52 L 572.58 452.47 L 593.88 447.18 z" fill="#00008d" stroke="#00008d"/><path d="M 438.16 447.53 L 416.37 452.82 L 410.47 448.48 L 432.24 443.21 z" fill="#00009f" stroke="#00009f"/><path d="M 404.59 443.35 L 382.71 448.61 L 376.85 442.27 L 398.72 437.04 z" fill="#0000b6" stroke="#0000b6"/><path d="M 471.73 449.57 L 450.04 454.87 L 444.09 451.36 L 465.76 446.08 z" fill="#000092" stroke="#000092"/><path d="M 341.58 330.1 L 319.55 334.79 L 313.46 289.33 L 335.55 284.86 z" fill="#b7ff40" stroke="#b7ff40"/><path d="M 505.33 450.78 L 483.73 456.08 L 477.72 452.88 L 499.31 447.6 z" fill="#000092" stroke="#000092"/><path d="M 371 434.17 L 349.03 439.38 L 343.18 428.68 L 365.16 423.52 z" fill="#0000ed" stroke="#0000ed"/><path d="M 538.94 451.67 L 517.43 456.99 L 511.37 453.9 L 532.87 448.6 z" fill="#00008d" stroke="#00008d"/><path d="M 572.58 452.47 L 551.15 457.79 L 545.04 454.73 L 566.45 449.43 z" fill="#00008d" stroke="#00008d"/><path d="M 606.23 453.24 L 584.9 458.57 L 578.73 455.52 L 600.05 450.21 z" fill="#00008d" stroke="#00008d"/><path d="M 410.47 448.48 L 388.58 453.76 L 382.71 448.61 L 404.59 443.35 z" fill="#0000a8" stroke="#0000a8"/><path d="M 444.09 451.36 L 422.29 456.67 L 416.37 452.82 L 438.16 447.53 z" fill="#000096" stroke="#000096"/><path d="M 376.85 442.27 L 354.87 447.52 L 349.03 439.38 L 371 434.17 z" fill="#0000cd" stroke="#0000cd"/><path d="M 477.72 452.88 L 456.01 458.2 L 450.04 454.87 L 471.73 449.57 z" fill="#000092" stroke="#000092"/><path d="M 331.45 395.14 L 309.35 400.16 L 303.41 374.17 L 325.53 369.28 z" fill="#00a8ff" stroke="#00a8ff"/><path d="M 337.33 414.38 L 315.23 419.49 L 309.35 400.16 L 331.45 395.14 z" fill="#004cff" stroke="#004cff"/><path d="M 511.37 453.9 L 489.75 459.22 L 483.73 456.08 L 505.33 450.78 z" fill="#00008d" stroke="#00008d"/><path d="M 325.53 369.28 L 303.41 374.17 L 297.39 339.51 L 319.55 334.79 z" fill="#33ffc4" stroke="#33ffc4"/><path d="M 545.04 454.73 L 523.51 460.07 L 517.43 456.99 L 538.94 451.67 z" fill="#00008d" stroke="#00008d"/><path d="M 343.18 428.68 L 321.09 433.86 L 315.23 419.49 L 337.33 414.38 z" fill="#000cff" stroke="#000cff"/><path d="M 578.73 455.52 L 557.29 460.85 L 551.15 457.79 L 572.58 452.47 z" fill="#00008d" stroke="#00008d"/><path d="M 612.44 456.28 L 591.09 461.62 L 584.9 458.57 L 606.23 453.24 z" fill="#00008d" stroke="#00008d"/><path d="M 416.37 452.82 L 394.47 458.13 L 388.58 453.76 L 410.47 448.48 z" fill="#00009f" stroke="#00009f"/><path d="M 382.71 448.61 L 360.71 453.89 L 354.87 447.52 L 376.85 442.27 z" fill="#0000b6" stroke="#0000b6"/><path d="M 450.04 454.87 L 428.23 460.2 L 422.29 456.67 L 444.09 451.36 z" fill="#000096" stroke="#000096"/><path d="M 319.55 334.79 L 297.39 339.51 L 291.26 293.83 L 313.46 289.33 z" fill="#baff3c" stroke="#baff3c"/><path d="M 483.73 456.08 L 462 461.41 L 456.01 458.2 L 477.72 452.88 z" fill="#000092" stroke="#000092"/><path d="M 349.03 439.38 L 326.92 444.61 L 321.09 433.86 L 343.18 428.68 z" fill="#0000ed" stroke="#0000ed"/><path d="M 517.43 456.99 L 495.79 462.33 L 489.75 459.22 L 511.37 453.9 z" fill="#00008d" stroke="#00008d"/><path d="M 551.15 457.79 L 529.61 463.14 L 523.51 460.07 L 545.04 454.73 z" fill="#00008d" stroke="#00008d"/><path d="M 584.9 458.57 L 563.44 463.92 L 557.29 460.85 L 578.73 455.52 z" fill="#00008d" stroke="#00008d"/><path d="M 388.58 453.76 L 366.57 459.07 L 360.71 453.89 L 382.71 448.61 z" fill="#0000a8" stroke="#0000a8"/><path d="M 422.29 456.67 L 400.37 462 L 394.47 458.13 L 416.37 452.82 z" fill="#000096" stroke="#000096"/><path d="M 618.66 459.33 L 597.29 464.69 L 591.09 461.62 L 612.44 456.28 z" fill="#000089" stroke="#000089"/><path d="M 354.87 447.52 L 332.76 452.8 L 326.92 444.61 L 349.03 439.38 z" fill="#0000cd" stroke="#0000cd"/><path d="M 456.01 458.2 L 434.18 463.54 L 428.23 460.2 L 450.04 454.87 z" fill="#000092" stroke="#000092"/><path d="M 309.35 400.16 L 287.12 405.21 L 281.16 379.1 L 303.41 374.17 z" fill="#00a8ff" stroke="#00a8ff"/><path d="M 315.23 419.49 L 293.01 424.64 L 287.12 405.21 L 309.35 400.16 z" fill="#004cff" stroke="#004cff"/><path d="M 489.75 459.22 L 468.01 464.57 L 462 461.41 L 483.73 456.08 z" fill="#00008d" stroke="#00008d"/><path d="M 303.41 374.17 L 281.16 379.1 L 275.1 344.27 L 297.39 339.51 z" fill="#33ffc4" stroke="#33ffc4"/><path d="M 523.51 460.07 L 501.86 465.42 L 495.79 462.33 L 517.43 456.99 z" fill="#00008d" stroke="#00008d"/><path d="M 321.09 433.86 L 298.87 439.08 L 293.01 424.64 L 315.23 419.49 z" fill="#000cff" stroke="#000cff"/><path d="M 557.29 460.85 L 535.73 466.22 L 529.61 463.14 L 551.15 457.79 z" fill="#00008d" stroke="#00008d"/><path d="M 591.09 461.62 L 569.61 466.99 L 563.44 463.92 L 584.9 458.57 z" fill="#00008d" stroke="#00008d"/><path d="M 394.47 458.13 L 372.44 463.46 L 366.57 459.07 L 388.58 453.76 z" fill="#00009f" stroke="#00009f"/><path d="M 360.71 453.89 L 338.59 459.21 L 332.76 452.8 L 354.87 447.52 z" fill="#0000b6" stroke="#0000b6"/><path d="M 428.23 460.2 L 406.29 465.55 L 400.37 462 L 422.29 456.67 z" fill="#000096" stroke="#000096"/><path d="M 624.9 462.39 L 603.52 467.76 L 597.29 464.69 L 618.66 459.33 z" fill="#000089" stroke="#000089"/><path d="M 462 461.41 L 440.15 466.78 L 434.18 463.54 L 456.01 458.2 z" fill="#000092" stroke="#000092"/><path d="M 297.39 339.51 L 275.1 344.27 L 268.92 298.35 L 291.26 293.83 z" fill="#baff3c" stroke="#baff3c"/><path d="M 326.92 444.61 L 304.7 449.89 L 298.87 439.08 L 321.09 433.86 z" fill="#0000ed" stroke="#0000ed"/><path d="M 495.79 462.33 L 474.04 467.7 L 468.01 464.57 L 489.75 459.22 z" fill="#00008d" stroke="#00008d"/><path d="M 529.61 463.14 L 507.94 468.52 L 501.86 465.42 L 523.51 460.07 z" fill="#00008d" stroke="#00008d"/><path d="M 563.44 463.92 L 541.86 469.3 L 535.73 466.22 L 557.29 460.85 z" fill="#00008d" stroke="#00008d"/><path d="M 366.57 459.07 L 344.43 464.41 L 338.59 459.21 L 360.71 453.89 z" fill="#0000a8" stroke="#0000a8"/><path d="M 400.37 462 L 378.32 467.35 L 372.44 463.46 L 394.47 458.13 z" fill="#000096" stroke="#000096"/><path d="M 597.29 464.69 L 575.8 470.08 L 569.61 466.99 L 591.09 461.62 z" fill="#000089" stroke="#000089"/><path d="M 332.76 452.8 L 310.52 458.11 L 304.7 449.89 L 326.92 444.61 z" fill="#0000cd" stroke="#0000cd"/><path d="M 434.18 463.54 L 412.23 468.91 L 406.29 465.55 L 428.23 460.2 z" fill="#000092" stroke="#000092"/><path d="M 287.12 405.21 L 264.76 410.29 L 258.78 384.05 L 281.16 379.1 z" fill="#00a8ff" stroke="#00a8ff"/><path d="M 631.17 465.46 L 609.77 470.85 L 603.52 467.76 L 624.9 462.39 z" fill="#000089" stroke="#000089"/><path d="M 293.01 424.64 L 270.66 429.82 L 264.76 410.29 L 287.12 405.21 z" fill="#004cff" stroke="#004cff"/><path d="M 468.01 464.57 L 446.14 469.95 L 440.15 466.78 L 462 461.41 z" fill="#00008d" stroke="#00008d"/><path d="M 281.16 379.1 L 258.78 384.05 L 252.69 349.05 L 275.1 344.27 z" fill="#33ffc4" stroke="#33ffc4"/><path d="M 501.86 465.42 L 480.08 470.81 L 474.04 467.7 L 495.79 462.33 z" fill="#00008d" stroke="#00008d"/><path d="M 298.87 439.08 L 276.52 444.33 L 270.66 429.82 L 293.01 424.64 z" fill="#000cff" stroke="#000cff"/><path d="M 535.73 466.22 L 514.04 471.61 L 507.94 468.52 L 529.61 463.14 z" fill="#00008d" stroke="#00008d"/><path d="M 569.61 466.99 L 548.02 472.4 L 541.86 469.3 L 563.44 463.92 z" fill="#00008d" stroke="#00008d"/><path d="M 372.44 463.46 L 350.28 468.83 L 344.43 464.41 L 366.57 459.07 z" fill="#00009f" stroke="#00009f"/><path d="M 338.59 459.21 L 316.34 464.55 L 310.52 458.11 L 332.76 452.8 z" fill="#0000b6" stroke="#0000b6"/><path d="M 406.29 465.55 L 384.23 470.92 L 378.32 467.35 L 400.37 462 z" fill="#000096" stroke="#000096"/><path d="M 603.52 467.76 L 582.02 473.17 L 575.8 470.08 L 597.29 464.69 z" fill="#000089" stroke="#000089"/><path d="M 440.15 466.78 L 418.18 472.16 L 412.23 468.91 L 434.18 463.54 z" fill="#000092" stroke="#000092"/><path d="M 275.1 344.27 L 252.69 349.05 L 246.46 302.91 L 268.92 298.35 z" fill="#baff3c" stroke="#baff3c"/><path d="M 304.7 449.89 L 282.34 455.19 L 276.52 444.33 L 298.87 439.08 z" fill="#0000ed" stroke="#0000ed"/><path d="M 637.45 468.53 L 616.03 473.94 L 609.77 470.85 L 631.17 465.46 z" fill="#000089" stroke="#000089"/><path d="M 474.04 467.7 L 452.15 473.1 L 446.14 469.95 L 468.01 464.57 z" fill="#00008d" stroke="#00008d"/><path d="M 507.94 468.52 L 486.15 473.92 L 480.08 470.81 L 501.86 465.42 z" fill="#00008d" stroke="#00008d"/><path d="M 541.86 469.3 L 520.16 474.71 L 514.04 471.61 L 535.73 466.22 z" fill="#00008d" stroke="#00008d"/><path d="M 344.43 464.41 L 322.16 469.79 L 316.34 464.55 L 338.59 459.21 z" fill="#0000a8" stroke="#0000a8"/><path d="M 378.32 467.35 L 356.15 472.74 L 350.28 468.83 L 372.44 463.46 z" fill="#000096" stroke="#000096"/><path d="M 575.8 470.08 L 554.19 475.5 L 548.02 472.4 L 569.61 466.99 z" fill="#000089" stroke="#000089"/><path d="M 310.52 458.11 L 288.15 463.46 L 282.34 455.19 L 304.7 449.89 z" fill="#0000cd" stroke="#0000cd"/><path d="M 412.23 468.91 L 390.15 474.3 L 384.23 470.92 L 406.29 465.55 z" fill="#000092" stroke="#000092"/><path d="M 264.76 410.29 L 242.28 415.41 L 236.28 389.03 L 258.78 384.05 z" fill="#00a8ff" stroke="#00a8ff"/><path d="M 609.77 470.85 L 588.25 476.27 L 582.02 473.17 L 603.52 467.76 z" fill="#000089" stroke="#000089"/><path d="M 270.66 429.82 L 248.19 435.03 L 242.28 415.41 L 264.76 410.29 z" fill="#004cff" stroke="#004cff"/><path d="M 446.14 469.95 L 424.16 475.35 L 418.18 472.16 L 440.15 466.78 z" fill="#00008d" stroke="#00008d"/><path d="M 643.75 471.62 L 622.32 477.05 L 616.03 473.94 L 637.45 468.53 z" fill="#000089" stroke="#000089"/><path d="M 258.78 384.05 L 236.28 389.03 L 230.15 353.86 L 252.69 349.05 z" fill="#33ffc4" stroke="#33ffc4"/><path d="M 480.08 470.81 L 458.18 476.22 L 452.15 473.1 L 474.04 467.7 z" fill="#00008d" stroke="#00008d"/><path d="M 276.52 444.33 L 254.04 449.62 L 248.19 435.03 L 270.66 429.82 z" fill="#0010ff" stroke="#0010ff"/><path d="M 514.04 471.61 L 492.23 477.03 L 486.15 473.92 L 507.94 468.52 z" fill="#00008d" stroke="#00008d"/><path d="M 548.02 472.4 L 526.3 477.82 L 520.16 474.71 L 541.86 469.3 z" fill="#00008d" stroke="#00008d"/><path d="M 350.28 468.83 L 328 474.23 L 322.16 469.79 L 344.43 464.41 z" fill="#00009f" stroke="#00009f"/><path d="M 316.34 464.55 L 293.96 469.94 L 288.15 463.46 L 310.52 458.11 z" fill="#0000b6" stroke="#0000b6"/><path d="M 384.23 470.92 L 362.04 476.33 L 356.15 472.74 L 378.32 467.35 z" fill="#000096" stroke="#000096"/><path d="M 582.02 473.17 L 560.39 478.61 L 554.19 475.5 L 575.8 470.08 z" fill="#000089" stroke="#000089"/><path d="M 418.18 472.16 L 396.08 477.57 L 390.15 474.3 L 412.23 468.91 z" fill="#000092" stroke="#000092"/><path d="M 252.69 349.05 L 230.15 353.86 L 223.86 307.49 L 246.46 302.91 z" fill="#beff39" stroke="#beff39"/><path d="M 282.34 455.19 L 259.86 460.53 L 254.04 449.62 L 276.52 444.33 z" fill="#0000f1" stroke="#0000f1"/><path d="M 616.03 473.94 L 594.5 479.38 L 588.25 476.27 L 609.77 470.85 z" fill="#000089" stroke="#000089"/><path d="M 452.15 473.1 L 430.15 478.52 L 424.16 475.35 L 446.14 469.95 z" fill="#00008d" stroke="#00008d"/><path d="M 650.07 474.72 L 628.63 480.16 L 622.32 477.05 L 643.75 471.62 z" fill="#000089" stroke="#000089"/><path d="M 486.15 473.92 L 464.23 479.35 L 458.18 476.22 L 480.08 470.81 z" fill="#00008d" stroke="#00008d"/><path d="M 520.16 474.71 L 498.34 480.15 L 492.23 477.03 L 514.04 471.61 z" fill="#00008d" stroke="#00008d"/><path d="M 322.16 469.79 L 299.77 475.2 L 293.96 469.94 L 316.34 464.55 z" fill="#0000a8" stroke="#0000a8"/><path d="M 356.15 472.74 L 333.85 478.16 L 328 474.23 L 350.28 468.83 z" fill="#000096" stroke="#000096"/><path d="M 554.19 475.5 L 532.46 480.94 L 526.3 477.82 L 548.02 472.4 z" fill="#000089" stroke="#000089"/><path d="M 288.15 463.46 L 265.66 468.84 L 259.86 460.53 L 282.34 455.19 z" fill="#0000cd" stroke="#0000cd"/><path d="M 390.15 474.3 L 367.94 479.73 L 362.04 476.33 L 384.23 470.92 z" fill="#000092" stroke="#000092"/><path d="M 242.28 415.41 L 219.66 420.55 L 213.64 394.04 L 236.28 389.03 z" fill="#00a8ff" stroke="#00a8ff"/><path d="M 588.25 476.27 L 566.6 481.72 L 560.39 478.61 L 582.02 473.17 z" fill="#000089" stroke="#000089"/><path d="M 248.19 435.03 L 225.58 440.27 L 219.66 420.55 L 242.28 415.41 z" fill="#0050ff" stroke="#0050ff"/><path d="M 424.16 475.35 L 402.04 480.78 L 396.08 477.57 L 418.18 472.16 z" fill="#00008d" stroke="#00008d"/><path d="M 622.32 477.05 L 600.77 482.5 L 594.5 479.38 L 616.03 473.94 z" fill="#000089" stroke="#000089"/><path d="M 236.28 389.03 L 213.64 394.04 L 207.48 358.69 L 230.15 353.86 z" fill="#36ffc1" stroke="#36ffc1"/><path d="M 458.18 476.22 L 436.16 481.66 L 430.15 478.52 L 452.15 473.1 z" fill="#00008d" stroke="#00008d"/><path d="M 656.41 477.82 L 634.95 483.28 L 628.63 480.16 L 650.07 474.72 z" fill="#000089" stroke="#000089"/><path d="M 254.04 449.62 L 231.44 454.93 L 225.58 440.27 L 248.19 435.03 z" fill="#0010ff" stroke="#0010ff"/><path d="M 492.23 477.03 L 470.3 482.48 L 464.23 479.35 L 486.15 473.92 z" fill="#00008d" stroke="#00008d"/><path d="M 526.3 477.82 L 504.46 483.28 L 498.34 480.15 L 520.16 474.71 z" fill="#00008d" stroke="#00008d"/><path d="M 328 474.23 L 305.59 479.66 L 299.77 475.2 L 322.16 469.79 z" fill="#00009f" stroke="#00009f"/><path d="M 293.96 469.94 L 271.45 475.35 L 265.66 468.84 L 288.15 463.46 z" fill="#0000b6" stroke="#0000b6"/><path d="M 362.04 476.33 L 339.72 481.77 L 333.85 478.16 L 356.15 472.74 z" fill="#000096" stroke="#000096"/><path d="M 560.39 478.61 L 538.64 484.07 L 532.46 480.94 L 554.19 475.5 z" fill="#000089" stroke="#000089"/><path d="M 396.08 477.57 L 373.86 483.02 L 367.94 479.73 L 390.15 474.3 z" fill="#000092" stroke="#000092"/><path d="M 230.15 353.86 L 207.48 358.69 L 201.14 312.09 L 223.86 307.49 z" fill="#beff39" stroke="#beff39"/><path d="M 259.86 460.53 L 237.25 465.9 L 231.44 454.93 L 254.04 449.62 z" fill="#0000f1" stroke="#0000f1"/><path d="M 594.5 479.38 L 572.84 484.85 L 566.6 481.72 L 588.25 476.27 z" fill="#000089" stroke="#000089"/><path d="M 430.15 478.52 L 408.02 483.96 L 402.04 480.78 L 424.16 475.35 z" fill="#00008d" stroke="#00008d"/><path d="M 628.63 480.16 L 607.06 485.64 L 600.77 482.5 L 622.32 477.05 z" fill="#000089" stroke="#000089"/><path d="M 464.23 479.35 L 442.19 484.81 L 436.16 481.66 L 458.18 476.22 z" fill="#00008d" stroke="#00008d"/><path d="M 662.77 480.94 L 641.3 486.42 L 634.95 483.28 L 656.41 477.82 z" fill="#000089" stroke="#000089"/><path d="M 498.34 480.15 L 476.39 485.62 L 470.3 482.48 L 492.23 477.03 z" fill="#00008d" stroke="#00008d"/><path d="M 299.77 475.2 L 277.25 480.64 L 271.45 475.35 L 293.96 469.94 z" fill="#0000a8" stroke="#0000a8"/><path d="M 333.85 478.16 L 311.43 483.61 L 305.59 479.66 L 328 474.23 z" fill="#000096" stroke="#000096"/><path d="M 532.46 480.94 L 510.6 486.41 L 504.46 483.28 L 526.3 477.82 z" fill="#000089" stroke="#000089"/><path d="M 265.66 468.84 L 243.04 474.26 L 237.25 465.9 L 259.86 460.53 z" fill="#0000cd" stroke="#0000cd"/><path d="M 367.94 479.73 L 345.61 485.19 L 339.72 481.77 L 362.04 476.33 z" fill="#000092" stroke="#000092"/><path d="M 219.66 420.55 L 196.91 425.45 L 190.87 398.87 L 213.64 394.04 z" fill="#00acff" stroke="#00acff"/><path d="M 566.6 481.72 L 544.84 487.2 L 538.64 484.07 L 560.39 478.61 z" fill="#000089" stroke="#000089"/><path d="M 225.58 440.27 L 202.84 445.25 L 196.91 425.45 L 219.66 420.55 z" fill="#0050ff" stroke="#0050ff"/><path d="M 402.04 480.78 L 379.8 486.24 L 373.86 483.02 L 396.08 477.57 z" fill="#00008d" stroke="#00008d"/><path d="M 600.77 482.5 L 579.09 487.99 L 572.84 484.85 L 594.5 479.38 z" fill="#000089" stroke="#000089"/><path d="M 213.64 394.04 L 190.87 398.87 L 184.68 363.43 L 207.48 358.69 z" fill="#36ffc1" stroke="#36ffc1"/><path d="M 436.16 481.66 L 414.01 487.13 L 408.02 483.96 L 430.15 478.52 z" fill="#00008d" stroke="#00008d"/><path d="M 634.95 483.28 L 613.37 488.78 L 607.06 485.64 L 628.63 480.16 z" fill="#000089" stroke="#000089"/><path d="M 231.44 454.93 L 208.7 459.98 L 202.84 445.25 L 225.58 440.27 z" fill="#0010ff" stroke="#0010ff"/><path d="M 470.3 482.48 L 448.24 487.95 L 442.19 484.81 L 464.23 479.35 z" fill="#00008d" stroke="#00008d"/><path d="M 669.16 484.07 L 647.66 489.56 L 641.3 486.42 L 662.77 480.94 z" fill="#000089" stroke="#000089"/><path d="M 504.46 483.28 L 482.49 488.76 L 476.39 485.62 L 498.34 480.15 z" fill="#00008d" stroke="#00008d"/><path d="M 305.59 479.66 L 283.06 485.13 L 277.25 480.64 L 299.77 475.2 z" fill="#00009f" stroke="#00009f"/><path d="M 271.45 475.35 L 248.82 480.8 L 243.04 474.26 L 265.66 468.84 z" fill="#0000b6" stroke="#0000b6"/><path d="M 339.72 481.77 L 317.28 487.24 L 311.43 483.61 L 333.85 478.16 z" fill="#000096" stroke="#000096"/><path d="M 538.64 484.07 L 516.76 489.56 L 510.6 486.41 L 532.46 480.94 z" fill="#000089" stroke="#000089"/><path d="M 373.86 483.02 L 351.51 488.49 L 345.61 485.19 L 367.94 479.73 z" fill="#000092" stroke="#000092"/><path d="M 207.48 358.69 L 184.68 363.43 L 178.28 316.73 L 201.14 312.09 z" fill="#c1ff36" stroke="#c1ff36"/><path d="M 237.25 465.9 L 214.5 471.02 L 208.7 459.98 L 231.44 454.93 z" fill="#0000f1" stroke="#0000f1"/><path d="M 572.84 484.85 L 551.05 490.35 L 544.84 487.2 L 566.6 481.72 z" fill="#000089" stroke="#000089"/><path d="M 408.02 483.96 L 385.75 489.44 L 379.8 486.24 L 402.04 480.78 z" fill="#00008d" stroke="#00008d"/><path d="M 607.06 485.64 L 585.37 491.14 L 579.09 487.99 L 600.77 482.5 z" fill="#000089" stroke="#000089"/><path d="M 442.19 484.81 L 420.02 490.29 L 414.01 487.13 L 436.16 481.66 z" fill="#00008d" stroke="#00008d"/><path d="M 641.3 486.42 L 619.7 491.93 L 613.37 488.78 L 634.95 483.28 z" fill="#000089" stroke="#000089"/><path d="M 476.39 485.62 L 454.31 491.11 L 448.24 487.95 L 470.3 482.48 z" fill="#00008d" stroke="#00008d"/><path d="M 277.25 480.64 L 254.6 486.12 L 248.82 480.8 L 271.45 475.35 z" fill="#0000a8" stroke="#0000a8"/><path d="M 675.56 487.2 L 654.05 492.72 L 647.66 489.56 L 669.16 484.07 z" fill="#000084" stroke="#000084"/><path d="M 311.43 483.61 L 288.87 489.1 L 283.06 485.13 L 305.59 479.66 z" fill="#000096" stroke="#000096"/><path d="M 510.6 486.41 L 488.62 491.92 L 482.49 488.76 L 504.46 483.28 z" fill="#000089" stroke="#000089"/><path d="M 243.04 474.26 L 220.28 479.44 L 214.5 471.02 L 237.25 465.9 z" fill="#0000cd" stroke="#0000cd"/><path d="M 345.61 485.19 L 323.14 490.68 L 317.28 487.24 L 339.72 481.77 z" fill="#000092" stroke="#000092"/><path d="M 544.84 487.2 L 522.94 492.71 L 516.76 489.56 L 538.64 484.07 z" fill="#000089" stroke="#000089"/><path d="M 196.91 425.45 L 173.98 427.45 L 167.9 399.97 L 190.87 398.87 z" fill="#00b4ff" stroke="#00b4ff"/><path d="M 379.8 486.24 L 357.43 491.74 L 351.51 488.49 L 373.86 483.02 z" fill="#00008d" stroke="#00008d"/><path d="M 202.84 445.25 L 179.93 447.95 L 173.98 427.45 L 196.91 425.45 z" fill="#0058ff" stroke="#0058ff"/><path d="M 579.09 487.99 L 557.29 493.51 L 551.05 490.35 L 572.84 484.85 z" fill="#000089" stroke="#000089"/><path d="M 414.01 487.13 L 391.73 492.62 L 385.75 489.44 L 408.02 483.96 z" fill="#00008d" stroke="#00008d"/><path d="M 190.87 398.87 L 167.9 399.97 L 161.65 363.36 L 184.68 363.43 z" fill="#40ffb7" stroke="#40ffb7"/><path d="M 613.37 488.78 L 591.66 494.3 L 585.37 491.14 L 607.06 485.64 z" fill="#000089" stroke="#000089"/><path d="M 448.24 487.95 L 426.05 493.45 L 420.02 490.29 L 442.19 484.81 z" fill="#00008d" stroke="#00008d"/><path d="M 208.7 459.98 L 185.79 463.22 L 179.93 447.95 L 202.84 445.25 z" fill="#0014ff" stroke="#0014ff"/><path d="M 647.66 489.56 L 626.05 495.09 L 619.7 491.93 L 641.3 486.42 z" fill="#000089" stroke="#000089"/><path d="M 482.49 488.76 L 460.4 494.27 L 454.31 491.11 L 476.39 485.62 z" fill="#00008d" stroke="#00008d"/><path d="M 283.06 485.13 L 260.39 490.63 L 254.6 486.12 L 277.25 480.64 z" fill="#00009f" stroke="#00009f"/><path d="M 248.82 480.8 L 226.05 486.04 L 220.28 479.44 L 243.04 474.26 z" fill="#0000b6" stroke="#0000b6"/><path d="M 317.28 487.24 L 294.7 492.75 L 288.87 489.1 L 311.43 483.61 z" fill="#000096" stroke="#000096"/><path d="M 681.98 490.35 L 660.46 495.88 L 654.05 492.72 L 675.56 487.2 z" fill="#000084" stroke="#000084"/><path d="M 516.76 489.56 L 494.76 495.08 L 488.62 491.92 L 510.6 486.41 z" fill="#000089" stroke="#000089"/><path d="M 351.51 488.49 L 329.03 494.01 L 323.14 490.68 L 345.61 485.19 z" fill="#000092" stroke="#000092"/><path d="M 551.05 490.35 L 529.14 495.88 L 522.94 492.71 L 544.84 487.2 z" fill="#000089" stroke="#000089"/><path d="M 214.5 471.02 L 191.6 474.68 L 185.79 463.22 L 208.7 459.98 z" fill="#0000f6" stroke="#0000f6"/><path d="M 385.75 489.44 L 363.37 494.95 L 357.43 491.74 L 379.8 486.24 z" fill="#00008d" stroke="#00008d"/><path d="M 184.68 363.43 L 161.65 363.36 L 155.17 315.16 L 178.28 316.73 z" fill="#caff2c" stroke="#caff2c"/><path d="M 585.37 491.14 L 563.55 496.67 L 557.29 493.51 L 579.09 487.99 z" fill="#000089" stroke="#000089"/><path d="M 420.02 490.29 L 397.73 495.8 L 391.73 492.62 L 414.01 487.13 z" fill="#00008d" stroke="#00008d"/><path d="M 619.7 491.93 L 597.97 497.47 L 591.66 494.3 L 613.37 488.78 z" fill="#000089" stroke="#000089"/><path d="M 454.31 491.11 L 432.1 496.63 L 426.05 493.45 L 448.24 487.95 z" fill="#00008d" stroke="#00008d"/><path d="M 254.6 486.12 L 231.82 491.41 L 226.05 486.04 L 248.82 480.8 z" fill="#0000a8" stroke="#0000a8"/><path d="M 654.05 492.72 L 632.42 498.26 L 626.05 495.09 L 647.66 489.56 z" fill="#000084" stroke="#000084"/><path d="M 288.87 489.1 L 266.19 494.62 L 260.39 490.63 L 283.06 485.13 z" fill="#000096" stroke="#000096"/><path d="M 488.62 491.92 L 466.5 497.44 L 460.4 494.27 L 482.49 488.76 z" fill="#000089" stroke="#000089"/><path d="M 220.28 479.44 L 197.37 483.43 L 191.6 474.68 L 214.5 471.02 z" fill="#0000d1" stroke="#0000d1"/><path d="M 323.14 490.68 L 300.55 496.21 L 294.7 492.75 L 317.28 487.24 z" fill="#000092" stroke="#000092"/><path d="M 688.42 493.5 L 666.88 499.05 L 660.46 495.88 L 681.98 490.35 z" fill="#000084" stroke="#000084"/><path d="M 522.94 492.71 L 500.92 498.25 L 494.76 495.08 L 516.76 489.56 z" fill="#000089" stroke="#000089"/><path d="M 357.43 491.74 L 334.93 497.27 L 329.03 494.01 L 351.51 488.49 z" fill="#00008d" stroke="#00008d"/><path d="M 557.29 493.51 L 535.36 499.05 L 529.14 495.88 L 551.05 490.35 z" fill="#000089" stroke="#000089"/><path d="M 391.73 492.62 L 369.32 498.15 L 363.37 494.95 L 385.75 489.44 z" fill="#00008d" stroke="#00008d"/><path d="M 173.98 427.45 L 150.85 426.65 L 144.71 397.17 L 167.9 399.97 z" fill="#00ccff" stroke="#00ccff"/><path d="M 179.93 447.95 L 156.84 448.63 L 150.85 426.65 L 173.98 427.45 z" fill="#006cff" stroke="#006cff"/><path d="M 591.66 494.3 L 569.82 499.85 L 563.55 496.67 L 585.37 491.14 z" fill="#000089" stroke="#000089"/><path d="M 426.05 493.45 L 403.74 498.98 L 397.73 495.8 L 420.02 490.29 z" fill="#00008d" stroke="#00008d"/><path d="M 626.05 495.09 L 604.31 500.65 L 597.97 497.47 L 619.7 491.93 z" fill="#000089" stroke="#000089"/><path d="M 460.4 494.27 L 438.18 499.81 L 432.1 496.63 L 454.31 491.11 z" fill="#00008d" stroke="#00008d"/><path d="M 185.79 463.22 L 162.72 465.01 L 156.84 448.63 L 179.93 447.95 z" fill="#0024ff" stroke="#0024ff"/><path d="M 260.39 490.63 L 237.59 495.97 L 231.82 491.41 L 254.6 486.12 z" fill="#00009f" stroke="#00009f"/><path d="M 167.9 399.97 L 144.71 397.17 L 138.37 357.91 L 161.65 363.36 z" fill="#5aff9d" stroke="#5aff9d"/><path d="M 226.05 486.04 L 203.13 490.29 L 197.37 483.43 L 220.28 479.44 z" fill="#0000bb" stroke="#0000bb"/><path d="M 294.7 492.75 L 272 498.29 L 266.19 494.62 L 288.87 489.1 z" fill="#000096" stroke="#000096"/><path d="M 660.46 495.88 L 638.81 501.44 L 632.42 498.26 L 654.05 492.72 z" fill="#000084" stroke="#000084"/><path d="M 494.76 495.08 L 472.63 500.62 L 466.5 497.44 L 488.62 491.92 z" fill="#000089" stroke="#000089"/><path d="M 329.03 494.01 L 306.42 499.55 L 300.55 496.21 L 323.14 490.68 z" fill="#000092" stroke="#000092"/><path d="M 694.88 496.67 L 673.33 502.24 L 666.88 499.05 L 688.42 493.5 z" fill="#000084" stroke="#000084"/><path d="M 529.14 495.88 L 507.11 501.43 L 500.92 498.25 L 522.94 492.71 z" fill="#000089" stroke="#000089"/><path d="M 363.37 494.95 L 340.85 500.5 L 334.93 497.27 L 357.43 491.74 z" fill="#00008d" stroke="#00008d"/><path d="M 191.6 474.68 L 168.54 477.28 L 162.72 465.01 L 185.79 463.22 z" fill="#0000ff" stroke="#0000ff"/><path d="M 563.55 496.67 L 541.6 502.24 L 535.36 499.05 L 557.29 493.51 z" fill="#000089" stroke="#000089"/><path d="M 397.73 495.8 L 375.3 501.35 L 369.32 498.15 L 391.73 492.62 z" fill="#00008d" stroke="#00008d"/><path d="M 597.97 497.47 L 576.12 503.04 L 569.82 499.85 L 591.66 494.3 z" fill="#000089" stroke="#000089"/><path d="M 432.1 496.63 L 409.77 502.17 L 403.74 498.98 L 426.05 493.45 z" fill="#00008d" stroke="#00008d"/><path d="M 161.65 363.36 L 138.37 357.91 L 131.76 306.22 L 155.17 315.16 z" fill="#ebff0c" stroke="#ebff0c"/><path d="M 632.42 498.26 L 610.66 503.84 L 604.31 500.65 L 626.05 495.09 z" fill="#000084" stroke="#000084"/><path d="M 231.82 491.41 L 208.89 495.87 L 203.13 490.29 L 226.05 486.04 z" fill="#0000ad" stroke="#0000ad"/><path d="M 266.19 494.62 L 243.37 500.01 L 237.59 495.97 L 260.39 490.63 z" fill="#00009b" stroke="#00009b"/><path d="M 466.5 497.44 L 444.26 502.99 L 438.18 499.81 L 460.4 494.27 z" fill="#000089" stroke="#000089"/><path d="M 300.55 496.21 L 277.83 501.77 L 272 498.29 L 294.7 492.75 z" fill="#000092" stroke="#000092"/><path d="M 666.88 499.05 L 645.22 504.63 L 638.81 501.44 L 660.46 495.88 z" fill="#000084" stroke="#000084"/><path d="M 500.92 498.25 L 478.78 503.81 L 472.63 500.62 L 494.76 495.08 z" fill="#000089" stroke="#000089"/><path d="M 197.37 483.43 L 174.31 486.64 L 168.54 477.28 L 191.6 474.68 z" fill="#0000df" stroke="#0000df"/><path d="M 334.93 497.27 L 312.3 502.84 L 306.42 499.55 L 329.03 494.01 z" fill="#00008d" stroke="#00008d"/><path d="M 701.37 499.84 L 679.8 505.43 L 673.33 502.24 L 694.88 496.67 z" fill="#000084" stroke="#000084"/><path d="M 535.36 499.05 L 513.31 504.63 L 507.11 501.43 L 529.14 495.88 z" fill="#000089" stroke="#000089"/><path d="M 369.32 498.15 L 346.79 503.72 L 340.85 500.5 L 363.37 494.95 z" fill="#00008d" stroke="#00008d"/><path d="M 569.82 499.85 L 547.86 505.43 L 541.6 502.24 L 563.55 496.67 z" fill="#000089" stroke="#000089"/><path d="M 403.74 498.98 L 381.3 504.55 L 375.3 501.35 L 397.73 495.8 z" fill="#00008d" stroke="#00008d"/><path d="M 604.31 500.65 L 582.44 506.23 L 576.12 503.04 L 597.97 497.47 z" fill="#000089" stroke="#000089"/><path d="M 438.18 499.81 L 415.82 505.37 L 409.77 502.17 L 432.1 496.63 z" fill="#00008d" stroke="#00008d"/><path d="M 156.84 448.63 L 133.52 445.72 L 127.46 421.23 L 150.85 426.65 z" fill="#008cff" stroke="#008cff"/><path d="M 237.59 495.97 L 214.64 500.6 L 208.89 495.87 L 231.82 491.41 z" fill="#0000a4" stroke="#0000a4"/><path d="M 638.81 501.44 L 617.03 507.04 L 610.66 503.84 L 632.42 498.26 z" fill="#000084" stroke="#000084"/><path d="M 272 498.29 L 249.16 503.72 L 243.37 500.01 L 266.19 494.62 z" fill="#000096" stroke="#000096"/><path d="M 150.85 426.65 L 127.46 421.23 L 121.22 388.39 L 144.71 397.17 z" fill="#0ff8e7" stroke="#0ff8e7"/><path d="M 203.13 490.29 L 180.07 493.95 L 174.31 486.64 L 197.37 483.43 z" fill="#0000c4" stroke="#0000c4"/><path d="M 472.63 500.62 L 450.37 506.19 L 444.26 502.99 L 466.5 497.44 z" fill="#000089" stroke="#000089"/><path d="M 162.72 465.01 L 139.45 463.95 L 133.52 445.72 L 156.84 448.63 z" fill="#0040ff" stroke="#0040ff"/><path d="M 306.42 499.55 L 283.67 505.13 L 277.83 501.77 L 300.55 496.21 z" fill="#000092" stroke="#000092"/><path d="M 673.33 502.24 L 651.65 507.84 L 645.22 504.63 L 666.88 499.05 z" fill="#000084" stroke="#000084"/><path d="M 507.11 501.43 L 484.94 507.01 L 478.78 503.81 L 500.92 498.25 z" fill="#000089" stroke="#000089"/><path d="M 340.85 500.5 L 318.2 506.09 L 312.3 502.84 L 334.93 497.27 z" fill="#00008d" stroke="#00008d"/><path d="M 707.87 503.03 L 686.29 508.63 L 679.8 505.43 L 701.37 499.84 z" fill="#000084" stroke="#000084"/><path d="M 541.6 502.24 L 519.53 507.83 L 513.31 504.63 L 535.36 499.05 z" fill="#000089" stroke="#000089"/><path d="M 144.71 397.17 L 121.22 388.39 L 114.74 344.68 L 138.37 357.91 z" fill="#87ff70" stroke="#87ff70"/><path d="M 375.3 501.35 L 352.74 506.94 L 346.79 503.72 L 369.32 498.15 z" fill="#00008d" stroke="#00008d"/><path d="M 168.54 477.28 L 145.29 477.61 L 139.45 463.95 L 162.72 465.01 z" fill="#0008ff" stroke="#0008ff"/><path d="M 576.12 503.04 L 554.15 508.64 L 547.86 505.43 L 569.82 499.85 z" fill="#000089" stroke="#000089"/><path d="M 409.77 502.17 L 387.31 507.76 L 381.3 504.55 L 403.74 498.98 z" fill="#00008d" stroke="#00008d"/><path d="M 610.66 503.84 L 588.78 509.44 L 582.44 506.23 L 604.31 500.65 z" fill="#000084" stroke="#000084"/><path d="M 243.37 500.01 L 220.41 504.78 L 214.64 500.6 L 237.59 495.97 z" fill="#00009b" stroke="#00009b"/><path d="M 444.26 502.99 L 421.9 508.58 L 415.82 505.37 L 438.18 499.81 z" fill="#000089" stroke="#000089"/><path d="M 208.89 495.87 L 185.81 499.88 L 180.07 493.95 L 203.13 490.29 z" fill="#0000b6" stroke="#0000b6"/><path d="M 277.83 501.77 L 254.97 507.23 L 249.16 503.72 L 272 498.29 z" fill="#000092" stroke="#000092"/><path d="M 645.22 504.63 L 623.43 510.25 L 617.03 507.04 L 638.81 501.44 z" fill="#000084" stroke="#000084"/><path d="M 478.78 503.81 L 456.5 509.4 L 450.37 506.19 L 472.63 500.62 z" fill="#000089" stroke="#000089"/><path d="M 312.3 502.84 L 289.54 508.43 L 283.67 505.13 L 306.42 499.55 z" fill="#00008d" stroke="#00008d"/><path d="M 679.8 505.43 L 658.1 511.05 L 651.65 507.84 L 673.33 502.24 z" fill="#000084" stroke="#000084"/><path d="M 174.31 486.64 L 151.08 487.99 L 145.29 477.61 L 168.54 477.28 z" fill="#0000f1" stroke="#0000f1"/><path d="M 513.31 504.63 L 491.13 510.22 L 484.94 507.01 L 507.11 501.43 z" fill="#000089" stroke="#000089"/><path d="M 346.79 503.72 L 324.12 509.32 L 318.2 506.09 L 340.85 500.5 z" fill="#00008d" stroke="#00008d"/><path d="M 714.4 506.22 L 692.8 511.85 L 686.29 508.63 L 707.87 503.03 z" fill="#000084" stroke="#000084"/><path d="M 547.86 505.43 L 525.78 511.04 L 519.53 507.83 L 541.6 502.24 z" fill="#000089" stroke="#000089"/><path d="M 138.37 357.91 L 114.74 344.68 L 107.93 287.12 L 131.76 306.22 z" fill="#ffbd00" stroke="#ffbd00"/><path d="M 381.3 504.55 L 358.72 510.16 L 352.74 506.94 L 375.3 501.35 z" fill="#00008d" stroke="#00008d"/><path d="M 582.44 506.23 L 560.45 511.85 L 554.15 508.64 L 576.12 503.04 z" fill="#000089" stroke="#000089"/><path d="M 415.82 505.37 L 393.34 510.98 L 387.31 507.76 L 409.77 502.17 z" fill="#00008d" stroke="#00008d"/><path d="M 214.64 500.6 L 191.55 504.88 L 185.81 499.88 L 208.89 495.87 z" fill="#0000a8" stroke="#0000a8"/><path d="M 617.03 507.04 L 595.13 512.66 L 588.78 509.44 L 610.66 503.84 z" fill="#000084" stroke="#000084"/><path d="M 249.16 503.72 L 226.18 508.62 L 220.41 504.78 L 243.37 500.01 z" fill="#000096" stroke="#000096"/><path d="M 450.37 506.19 L 427.99 511.8 L 421.9 508.58 L 444.26 502.99 z" fill="#000089" stroke="#000089"/><path d="M 283.67 505.13 L 260.8 510.63 L 254.97 507.23 L 277.83 501.77 z" fill="#000092" stroke="#000092"/><path d="M 180.07 493.95 L 156.83 496.09 L 151.08 487.99 L 174.31 486.64 z" fill="#0000d6" stroke="#0000d6"/><path d="M 651.65 507.84 L 629.84 513.47 L 623.43 510.25 L 645.22 504.63 z" fill="#000084" stroke="#000084"/><path d="M 484.94 507.01 L 462.65 512.62 L 456.5 509.4 L 478.78 503.81 z" fill="#000089" stroke="#000089"/><path d="M 318.2 506.09 L 295.42 511.7 L 289.54 508.43 L 312.3 502.84 z" fill="#00008d" stroke="#00008d"/><path d="M 686.29 508.63 L 664.57 514.27 L 658.1 511.05 L 679.8 505.43 z" fill="#000084" stroke="#000084"/><path d="M 133.52 445.72 L 109.99 440.63 L 103.81 411.94 L 127.46 421.23 z" fill="#00bcff" stroke="#00bcff"/><path d="M 519.53 507.83 L 497.34 513.45 L 491.13 510.22 L 513.31 504.63 z" fill="#000089" stroke="#000089"/><path d="M 352.74 506.94 L 330.06 512.56 L 324.12 509.32 L 346.79 503.72 z" fill="#00008d" stroke="#00008d"/><path d="M 139.45 463.95 L 115.99 461.85 L 109.99 440.63 L 133.52 445.72 z" fill="#0064ff" stroke="#0064ff"/><path d="M 720.94 509.43 L 699.33 515.07 L 692.8 511.85 L 714.4 506.22 z" fill="#000084" stroke="#000084"/><path d="M 554.15 508.64 L 532.04 514.27 L 525.78 511.04 L 547.86 505.43 z" fill="#000089" stroke="#000089"/><path d="M 127.46 421.23 L 103.81 411.94 L 97.41 373.29 L 121.22 388.39 z" fill="#43ffb4" stroke="#43ffb4"/><path d="M 387.31 507.76 L 364.72 513.38 L 358.72 510.16 L 381.3 504.55 z" fill="#00008d" stroke="#00008d"/><path d="M 588.78 509.44 L 566.77 515.08 L 560.45 511.85 L 582.44 506.23 z" fill="#000084" stroke="#000084"/><path d="M 421.9 508.58 L 399.4 514.2 L 393.34 510.98 L 415.82 505.37 z" fill="#00008d" stroke="#00008d"/><path d="M 145.29 477.61 L 121.88 477.61 L 115.99 461.85 L 139.45 463.95 z" fill="#0024ff" stroke="#0024ff"/><path d="M 220.41 504.78 L 197.3 509.28 L 191.55 504.88 L 214.64 500.6 z" fill="#00009f" stroke="#00009f"/><path d="M 185.81 499.88 L 162.57 502.61 L 156.83 496.09 L 180.07 493.95 z" fill="#0000bf" stroke="#0000bf"/><path d="M 623.43 510.25 L 601.51 515.89 L 595.13 512.66 L 617.03 507.04 z" fill="#000084" stroke="#000084"/><path d="M 254.97 507.23 L 231.97 512.24 L 226.18 508.62 L 249.16 503.72 z" fill="#000096" stroke="#000096"/><path d="M 456.5 509.4 L 434.1 515.02 L 427.99 511.8 L 450.37 506.19 z" fill="#000089" stroke="#000089"/><path d="M 289.54 508.43 L 266.64 513.97 L 260.8 510.63 L 283.67 505.13 z" fill="#000092" stroke="#000092"/><path d="M 658.1 511.05 L 636.28 516.7 L 629.84 513.47 L 651.65 507.84 z" fill="#000084" stroke="#000084"/><path d="M 491.13 510.22 L 468.82 515.85 L 462.65 512.62 L 484.94 507.01 z" fill="#000089" stroke="#000089"/><path d="M 324.12 509.32 L 301.32 514.96 L 295.42 511.7 L 318.2 506.09 z" fill="#00008d" stroke="#00008d"/><path d="M 692.8 511.85 L 671.07 517.5 L 664.57 514.27 L 686.29 508.63 z" fill="#000084" stroke="#000084"/><path d="M 121.22 388.39 L 97.41 373.29 L 90.68 321.61 L 114.74 344.68 z" fill="#ceff29" stroke="#ceff29"/><path d="M 525.78 511.04 L 503.56 516.68 L 497.34 513.45 L 519.53 507.83 z" fill="#000089" stroke="#000089"/><path d="M 151.08 487.99 L 127.69 489.46 L 121.88 477.61 L 145.29 477.61 z" fill="#0000ff" stroke="#0000ff"/><path d="M 358.72 510.16 L 336.02 515.8 L 330.06 512.56 L 352.74 506.94 z" fill="#00008d" stroke="#00008d"/><path d="M 727.51 512.65 L 705.88 518.31 L 699.33 515.07 L 720.94 509.43 z" fill="#000084" stroke="#000084"/><path d="M 560.45 511.85 L 538.32 517.5 L 532.04 514.27 L 554.15 508.64 z" fill="#000089" stroke="#000089"/><path d="M 393.34 510.98 L 370.73 516.62 L 364.72 513.38 L 387.31 507.76 z" fill="#00008d" stroke="#00008d"/><path d="M 595.13 512.66 L 573.11 518.31 L 566.77 515.08 L 588.78 509.44 z" fill="#000084" stroke="#000084"/><path d="M 226.18 508.62 L 203.06 513.28 L 197.3 509.28 L 220.41 504.78 z" fill="#00009b" stroke="#00009b"/><path d="M 191.55 504.88 L 168.3 508.07 L 162.57 502.61 L 185.81 499.88 z" fill="#0000b2" stroke="#0000b2"/><path d="M 427.99 511.8 L 405.47 517.44 L 399.4 514.2 L 421.9 508.58 z" fill="#000089" stroke="#000089"/><path d="M 260.8 510.63 L 237.78 515.73 L 231.97 512.24 L 254.97 507.23 z" fill="#000092" stroke="#000092"/><path d="M 629.84 513.47 L 607.91 519.13 L 601.51 515.89 L 623.43 510.25 z" fill="#000084" stroke="#000084"/><path d="M 462.65 512.62 L 440.23 518.26 L 434.1 515.02 L 456.5 509.4 z" fill="#000089" stroke="#000089"/><path d="M 295.42 511.7 L 272.51 517.27 L 266.64 513.97 L 289.54 508.43 z" fill="#00008d" stroke="#00008d"/><path d="M 156.83 496.09 L 133.46 498.58 L 127.69 489.46 L 151.08 487.99 z" fill="#0000e8" stroke="#0000e8"/><path d="M 664.57 514.27 L 642.74 519.94 L 636.28 516.7 L 658.1 511.05 z" fill="#000084" stroke="#000084"/><path d="M 497.34 513.45 L 475.01 519.09 L 468.82 515.85 L 491.13 510.22 z" fill="#000089" stroke="#000089"/><path d="M 330.06 512.56 L 307.24 518.21 L 301.32 514.96 L 324.12 509.32 z" fill="#00008d" stroke="#00008d"/><path d="M 699.33 515.07 L 677.58 520.74 L 671.07 517.5 L 692.8 511.85 z" fill="#000084" stroke="#000084"/><path d="M 532.04 514.27 L 509.81 519.92 L 503.56 516.68 L 525.78 511.04 z" fill="#000089" stroke="#000089"/><path d="M 364.72 513.38 L 341.99 519.04 L 336.02 515.8 L 358.72 510.16 z" fill="#00008d" stroke="#00008d"/><path d="M 734.1 515.87 L 712.45 521.55 L 705.88 518.31 L 727.51 512.65 z" fill="#000080" stroke="#000080"/><path d="M 566.77 515.08 L 544.63 520.74 L 538.32 517.5 L 560.45 511.85 z" fill="#000084" stroke="#000084"/><path d="M 399.4 514.2 L 376.77 519.86 L 370.73 516.62 L 393.34 510.98 z" fill="#00008d" stroke="#00008d"/><path d="M 114.74 344.68 L 90.68 321.61 L 83.53 253.34 L 107.93 287.12 z" fill="#ff4e00" stroke="#ff4e00"/><path d="M 197.3 509.28 L 174.04 512.82 L 168.3 508.07 L 191.55 504.88 z" fill="#0000a8" stroke="#0000a8"/><path d="M 601.51 515.89 L 579.47 521.56 L 573.11 518.31 L 595.13 512.66 z" fill="#000084" stroke="#000084"/><path d="M 231.97 512.24 L 208.84 517.05 L 203.06 513.28 L 226.18 508.62 z" fill="#00009b" stroke="#00009b"/><path d="M 434.1 515.02 L 411.56 520.68 L 405.47 517.44 L 427.99 511.8 z" fill="#000089" stroke="#000089"/><path d="M 115.99 461.85 L 92.22 453.48 L 86.1 427.94 L 109.99 440.63 z" fill="#009cff" stroke="#009cff"/><path d="M 162.57 502.61 L 139.19 505.81 L 133.46 498.58 L 156.83 496.09 z" fill="#0000d1" stroke="#0000d1"/><path d="M 266.64 513.97 L 243.61 519.14 L 237.78 515.73 L 260.8 510.63 z" fill="#000092" stroke="#000092"/><path d="M 109.99 440.63 L 86.1 427.94 L 79.75 393.37 L 103.81 411.94 z" fill="#1cffdb" stroke="#1cffdb"/><path d="M 636.28 516.7 L 614.33 522.37 L 607.91 519.13 L 629.84 513.47 z" fill="#000084" stroke="#000084"/><path d="M 468.82 515.85 L 446.38 521.51 L 440.23 518.26 L 462.65 512.62 z" fill="#000089" stroke="#000089"/><path d="M 121.88 477.61 L 98.19 472.4 L 92.22 453.48 L 115.99 461.85 z" fill="#0050ff" stroke="#0050ff"/><path d="M 301.32 514.96 L 278.39 520.55 L 272.51 517.27 L 295.42 511.7 z" fill="#00008d" stroke="#00008d"/><path d="M 671.07 517.5 L 649.21 523.19 L 642.74 519.94 L 664.57 514.27 z" fill="#000084" stroke="#000084"/><path d="M 503.56 516.68 L 481.21 522.34 L 475.01 519.09 L 497.34 513.45 z" fill="#000089" stroke="#000089"/><path d="M 336.02 515.8 L 313.18 521.47 L 307.24 518.21 L 330.06 512.56 z" fill="#00008d" stroke="#00008d"/><path d="M 705.88 518.31 L 684.12 524 L 677.58 520.74 L 699.33 515.07 z" fill="#000084" stroke="#000084"/><path d="M 538.32 517.5 L 516.07 523.17 L 509.81 519.92 L 532.04 514.27 z" fill="#000089" stroke="#000089"/><path d="M 103.81 411.94 L 79.75 393.37 L 73.1 346.74 L 97.41 373.29 z" fill="#94ff63" stroke="#94ff63"/><path d="M 370.73 516.62 L 347.99 522.29 L 341.99 519.04 L 364.72 513.38 z" fill="#00008d" stroke="#00008d"/><path d="M 740.71 519.11 L 719.04 524.81 L 712.45 521.55 L 734.1 515.87 z" fill="#000080" stroke="#000080"/><path d="M 127.69 489.46 L 104.05 486.57 L 98.19 472.4 L 121.88 477.61 z" fill="#0018ff" stroke="#0018ff"/><path d="M 573.11 518.31 L 550.95 524 L 544.63 520.74 L 566.77 515.08 z" fill="#000084" stroke="#000084"/><path d="M 405.47 517.44 L 382.82 523.12 L 376.77 519.86 L 399.4 514.2 z" fill="#000089" stroke="#000089"/><path d="M 203.06 513.28 L 179.79 517.12 L 174.04 512.82 L 197.3 509.28 z" fill="#0000a4" stroke="#0000a4"/><path d="M 168.3 508.07 L 144.92 511.77 L 139.19 505.81 L 162.57 502.61 z" fill="#0000bf" stroke="#0000bf"/><path d="M 607.91 519.13 L 585.85 524.82 L 579.47 521.56 L 601.51 515.89 z" fill="#000084" stroke="#000084"/><path d="M 237.78 515.73 L 214.63 520.66 L 208.84 517.05 L 231.97 512.24 z" fill="#000096" stroke="#000096"/><path d="M 440.23 518.26 L 417.67 523.94 L 411.56 520.68 L 434.1 515.02 z" fill="#000089" stroke="#000089"/><path d="M 272.51 517.27 L 249.45 522.51 L 243.61 519.14 L 266.64 513.97 z" fill="#000092" stroke="#000092"/><path d="M 642.74 519.94 L 620.77 525.63 L 614.33 522.37 L 636.28 516.7 z" fill="#000084" stroke="#000084"/><path d="M 475.01 519.09 L 452.55 524.77 L 446.38 521.51 L 468.82 515.85 z" fill="#000089" stroke="#000089"/><path d="M 307.24 518.21 L 284.29 523.84 L 278.39 520.55 L 301.32 514.96 z" fill="#00008d" stroke="#00008d"/><path d="M 677.58 520.74 L 655.71 526.45 L 649.21 523.19 L 671.07 517.5 z" fill="#000084" stroke="#000084"/><path d="M 133.46 498.58 L 109.85 497.4 L 104.05 486.57 L 127.69 489.46 z" fill="#0000ff" stroke="#0000ff"/><path d="M 509.81 519.92 L 487.44 525.6 L 481.21 522.34 L 503.56 516.68 z" fill="#000089" stroke="#000089"/><path d="M 341.99 519.04 L 319.14 524.73 L 313.18 521.47 L 336.02 515.8 z" fill="#00008d" stroke="#00008d"/><path d="M 712.45 521.55 L 690.67 527.26 L 684.12 524 L 705.88 518.31 z" fill="#000080" stroke="#000080"/><path d="M 544.63 520.74 L 522.36 526.43 L 516.07 523.17 L 538.32 517.5 z" fill="#000084" stroke="#000084"/><path d="M 376.77 519.86 L 354 525.56 L 347.99 522.29 L 370.73 516.62 z" fill="#00008d" stroke="#00008d"/><path d="M 747.34 522.36 L 725.66 528.07 L 719.04 524.81 L 740.71 519.11 z" fill="#000080" stroke="#000080"/><path d="M 97.41 373.29 L 73.1 346.74 L 66.02 284.35 L 90.68 321.61 z" fill="#ffa700" stroke="#ffa700"/><path d="M 579.47 521.56 L 557.29 527.26 L 550.95 524 L 573.11 518.31 z" fill="#000084" stroke="#000084"/><path d="M 411.56 520.68 L 388.89 526.38 L 382.82 523.12 L 405.47 517.44 z" fill="#000089" stroke="#000089"/><path d="M 174.04 512.82 L 150.65 516.89 L 144.92 511.77 L 168.3 508.07 z" fill="#0000b6" stroke="#0000b6"/><path d="M 208.84 517.05 L 185.55 521.12 L 179.79 517.12 L 203.06 513.28 z" fill="#00009f" stroke="#00009f"/><path d="M 614.33 522.37 L 592.25 528.08 L 585.85 524.82 L 607.91 519.13 z" fill="#000084" stroke="#000084"/><path d="M 243.61 519.14 L 220.44 524.17 L 214.63 520.66 L 237.78 515.73 z" fill="#000096" stroke="#000096"/><path d="M 446.38 521.51 L 423.81 527.21 L 417.67 523.94 L 440.23 518.26 z" fill="#000089" stroke="#000089"/><path d="M 139.19 505.81 L 115.6 505.91 L 109.85 497.4 L 133.46 498.58 z" fill="#0000e3" stroke="#0000e3"/><path d="M 278.39 520.55 L 255.31 525.86 L 249.45 522.51 L 272.51 517.27 z" fill="#00008d" stroke="#00008d"/><path d="M 649.21 523.19 L 627.23 528.9 L 620.77 525.63 L 642.74 519.94 z" fill="#000084" stroke="#000084"/><path d="M 481.21 522.34 L 458.74 528.04 L 452.55 524.77 L 475.01 519.09 z" fill="#000089" stroke="#000089"/><path d="M 313.18 521.47 L 290.21 527.12 L 284.29 523.84 L 307.24 518.21 z" fill="#00008d" stroke="#00008d"/><path d="M 684.12 524 L 662.23 529.72 L 655.71 526.45 L 677.58 520.74 z" fill="#000084" stroke="#000084"/><path d="M 516.07 523.17 L 493.69 528.87 L 487.44 525.6 L 509.81 519.92 z" fill="#000089" stroke="#000089"/><path d="M 347.99 522.29 L 325.11 528 L 319.14 524.73 L 341.99 519.04 z" fill="#00008d" stroke="#00008d"/><path d="M 719.04 524.81 L 697.25 530.54 L 690.67 527.26 L 712.45 521.55 z" fill="#000080" stroke="#000080"/><path d="M 550.95 524 L 528.66 529.71 L 522.36 526.43 L 544.63 520.74 z" fill="#000084" stroke="#000084"/><path d="M 382.82 523.12 L 360.04 528.83 L 354 525.56 L 376.77 519.86 z" fill="#000089" stroke="#000089"/><path d="M 753.99 525.62 L 732.29 531.35 L 725.66 528.07 L 747.34 522.36 z" fill="#000080" stroke="#000080"/><path d="M 585.85 524.82 L 563.66 530.54 L 557.29 527.26 L 579.47 521.56 z" fill="#000084" stroke="#000084"/><path d="M 179.79 517.12 L 156.38 521.45 L 150.65 516.89 L 174.04 512.82 z" fill="#0000ad" stroke="#0000ad"/><path d="M 214.63 520.66 L 191.32 524.93 L 185.55 521.12 L 208.84 517.05 z" fill="#00009b" stroke="#00009b"/><path d="M 417.67 523.94 L 394.99 529.66 L 388.89 526.38 L 411.56 520.68 z" fill="#000089" stroke="#000089"/><path d="M 144.92 511.77 L 121.34 512.83 L 115.6 505.91 L 139.19 505.81 z" fill="#0000d1" stroke="#0000d1"/><path d="M 620.77 525.63 L 598.68 531.36 L 592.25 528.08 L 614.33 522.37 z" fill="#000084" stroke="#000084"/><path d="M 249.45 522.51 L 226.26 527.63 L 220.44 524.17 L 243.61 519.14 z" fill="#000092" stroke="#000092"/><path d="M 452.55 524.77 L 429.96 530.48 L 423.81 527.21 L 446.38 521.51 z" fill="#000089" stroke="#000089"/><path d="M 284.29 523.84 L 261.19 529.2 L 255.31 525.86 L 278.39 520.55 z" fill="#00008d" stroke="#00008d"/><path d="M 655.71 526.45 L 633.71 532.18 L 627.23 528.9 L 649.21 523.19 z" fill="#000084" stroke="#000084"/><path d="M 487.44 525.6 L 464.95 531.32 L 458.74 528.04 L 481.21 522.34 z" fill="#000089" stroke="#000089"/><path d="M 319.14 524.73 L 296.14 530.41 L 290.21 527.12 L 313.18 521.47 z" fill="#00008d" stroke="#00008d"/><path d="M 690.67 527.26 L 668.77 533.01 L 662.23 529.72 L 684.12 524 z" fill="#000080" stroke="#000080"/><path d="M 522.36 526.43 L 499.96 532.15 L 493.69 528.87 L 516.07 523.17 z" fill="#000084" stroke="#000084"/><path d="M 354 525.56 L 331.11 531.29 L 325.11 528 L 347.99 522.29 z" fill="#00008d" stroke="#00008d"/><path d="M 90.68 321.61 L 66.02 284.35 L 58.4 201.83 L 83.53 253.34 z" fill="#800000" stroke="#800000"/><path d="M 725.66 528.07 L 703.85 533.82 L 697.25 530.54 L 719.04 524.81 z" fill="#000080" stroke="#000080"/><path d="M 557.29 527.26 L 534.99 532.99 L 528.66 529.71 L 550.95 524 z" fill="#000084" stroke="#000084"/><path d="M 388.89 526.38 L 366.09 532.11 L 360.04 528.83 L 382.82 523.12 z" fill="#000089" stroke="#000089"/><path d="M 760.66 528.88 L 738.95 534.64 L 732.29 531.35 L 753.99 525.62 z" fill="#000080" stroke="#000080"/><path d="M 185.55 521.12 L 162.13 525.65 L 156.38 521.45 L 179.79 517.12 z" fill="#0000a8" stroke="#0000a8"/><path d="M 592.25 528.08 L 570.04 533.83 L 563.66 530.54 L 585.85 524.82 z" fill="#000084" stroke="#000084"/><path d="M 150.65 516.89 L 127.07 518.7 L 121.34 512.83 L 144.92 511.77 z" fill="#0000c4" stroke="#0000c4"/><path d="M 220.44 524.17 L 197.11 528.62 L 191.32 524.93 L 214.63 520.66 z" fill="#00009b" stroke="#00009b"/><path d="M 423.81 527.21 L 401.1 532.94 L 394.99 529.66 L 417.67 523.94 z" fill="#000089" stroke="#000089"/><path d="M 255.31 525.86 L 232.1 531.06 L 226.26 527.63 L 249.45 522.51 z" fill="#000092" stroke="#000092"/><path d="M 627.23 528.9 L 605.12 534.65 L 598.68 531.36 L 620.77 525.63 z" fill="#000084" stroke="#000084"/><path d="M 458.74 528.04 L 436.13 533.77 L 429.96 530.48 L 452.55 524.77 z" fill="#000089" stroke="#000089"/><path d="M 290.21 527.12 L 267.09 532.53 L 261.19 529.2 L 284.29 523.84 z" fill="#00008d" stroke="#00008d"/><path d="M 662.23 529.72 L 640.21 535.48 L 633.71 532.18 L 655.71 526.45 z" fill="#000084" stroke="#000084"/><path d="M 493.69 528.87 L 471.18 534.61 L 464.95 531.32 L 487.44 525.6 z" fill="#000089" stroke="#000089"/><path d="M 325.11 528 L 302.1 533.71 L 296.14 530.41 L 319.14 524.73 z" fill="#00008d" stroke="#00008d"/><path d="M 697.25 530.54 L 675.33 536.3 L 668.77 533.01 L 690.67 527.26 z" fill="#000080" stroke="#000080"/><path d="M 528.66 529.71 L 506.25 535.45 L 499.96 532.15 L 522.36 526.43 z" fill="#000084" stroke="#000084"/><path d="M 360.04 528.83 L 337.12 534.58 L 331.11 531.29 L 354 525.56 z" fill="#000089" stroke="#000089"/><path d="M 732.29 531.35 L 710.47 537.12 L 703.85 533.82 L 725.66 528.07 z" fill="#000080" stroke="#000080"/><path d="M 563.66 530.54 L 541.34 536.29 L 534.99 532.99 L 557.29 527.26 z" fill="#000084" stroke="#000084"/><path d="M 394.99 529.66 L 372.17 535.41 L 366.09 532.11 L 388.89 526.38 z" fill="#000089" stroke="#000089"/><path d="M 767.36 532.16 L 745.63 537.94 L 738.95 534.64 L 760.66 528.88 z" fill="#000080" stroke="#000080"/><path d="M 191.32 524.93 L 167.88 529.62 L 162.13 525.65 L 185.55 521.12 z" fill="#0000a4" stroke="#0000a4"/><path d="M 156.38 521.45 L 132.79 523.85 L 127.07 518.7 L 150.65 516.89 z" fill="#0000bb" stroke="#0000bb"/><path d="M 598.68 531.36 L 576.45 537.12 L 570.04 533.83 L 592.25 528.08 z" fill="#000084" stroke="#000084"/><path d="M 226.26 527.63 L 202.92 532.23 L 197.11 528.62 L 220.44 524.17 z" fill="#000096" stroke="#000096"/><path d="M 429.96 530.48 L 407.23 536.24 L 401.1 532.94 L 423.81 527.21 z" fill="#000089" stroke="#000089"/><path d="M 261.19 529.2 L 237.96 534.47 L 232.1 531.06 L 255.31 525.86 z" fill="#000092" stroke="#000092"/><path d="M 633.71 532.18 L 611.58 537.95 L 605.12 534.65 L 627.23 528.9 z" fill="#000084" stroke="#000084"/><path d="M 464.95 531.32 L 442.32 537.07 L 436.13 533.77 L 458.74 528.04 z" fill="#000089" stroke="#000089"/><path d="M 296.14 530.41 L 273.01 535.87 L 267.09 532.53 L 290.21 527.12 z" fill="#00008d" stroke="#00008d"/><path d="M 668.77 533.01 L 646.74 538.78 L 640.21 535.48 L 662.23 529.72 z" fill="#000080" stroke="#000080"/><path d="M 499.96 532.15 L 477.43 537.91 L 471.18 534.61 L 493.69 528.87 z" fill="#000089" stroke="#000089"/><path d="M 331.11 531.29 L 308.08 537.01 L 302.1 533.71 L 325.11 528 z" fill="#00008d" stroke="#00008d"/><path d="M 703.85 533.82 L 681.91 539.6 L 675.33 536.3 L 697.25 530.54 z" fill="#000080" stroke="#000080"/><path d="M 534.99 532.99 L 512.56 538.75 L 506.25 535.45 L 528.66 529.71 z" fill="#000084" stroke="#000084"/><path d="M 366.09 532.11 L 343.16 537.88 L 337.12 534.58 L 360.04 528.83 z" fill="#000089" stroke="#000089"/><path d="M 738.95 534.64 L 717.11 540.42 L 710.47 537.12 L 732.29 531.35 z" fill="#000080" stroke="#000080"/><path d="M 570.04 533.83 L 547.71 539.59 L 541.34 536.29 L 563.66 530.54 z" fill="#000084" stroke="#000084"/><path d="M 401.1 532.94 L 378.26 538.71 L 372.17 535.41 L 394.99 529.66 z" fill="#000089" stroke="#000089"/><path d="M 162.13 525.65 L 138.53 528.53 L 132.79 523.85 L 156.38 521.45 z" fill="#0000b2" stroke="#0000b2"/><path d="M 197.11 528.62 L 173.66 533.43 L 167.88 529.62 L 191.32 524.93 z" fill="#00009f" stroke="#00009f"/><path d="M 774.07 535.45 L 752.33 541.24 L 745.63 537.94 L 767.36 532.16 z" fill="#000080" stroke="#000080"/><path d="M 605.12 534.65 L 582.88 540.43 L 576.45 537.12 L 598.68 531.36 z" fill="#000084" stroke="#000084"/><path d="M 232.1 531.06 L 208.75 535.78 L 202.92 532.23 L 226.26 527.63 z" fill="#000096" stroke="#000096"/><path d="M 436.13 533.77 L 413.39 539.55 L 407.23 536.24 L 429.96 530.48 z" fill="#000089" stroke="#000089"/><path d="M 267.09 532.53 L 243.84 537.87 L 237.96 534.47 L 261.19 529.2 z" fill="#000092" stroke="#000092"/><path d="M 640.21 535.48 L 618.07 541.26 L 611.58 537.95 L 633.71 532.18 z" fill="#000084" stroke="#000084"/><path d="M 471.18 534.61 L 448.53 540.38 L 442.32 537.07 L 464.95 531.32 z" fill="#000089" stroke="#000089"/><path d="M 302.1 533.71 L 278.95 539.21 L 273.01 535.87 L 296.14 530.41 z" fill="#00008d" stroke="#00008d"/><path d="M 675.33 536.3 L 653.28 542.09 L 646.74 538.78 L 668.77 533.01 z" fill="#000080" stroke="#000080"/><path d="M 506.25 535.45 L 483.7 541.22 L 477.43 537.91 L 499.96 532.15 z" fill="#000084" stroke="#000084"/><path d="M 337.12 534.58 L 314.07 540.33 L 308.08 537.01 L 331.11 531.29 z" fill="#000089" stroke="#000089"/><path d="M 710.47 537.12 L 688.52 542.92 L 681.91 539.6 L 703.85 533.82 z" fill="#000080" stroke="#000080"/><path d="M 541.34 536.29 L 518.89 542.06 L 512.56 538.75 L 534.99 532.99 z" fill="#000084" stroke="#000084"/><path d="M 372.17 535.41 L 349.21 541.19 L 343.16 537.88 L 366.09 532.11 z" fill="#000089" stroke="#000089"/><path d="M 745.63 537.94 L 723.77 543.74 L 717.11 540.42 L 738.95 534.64 z" fill="#000080" stroke="#000080"/><path d="M 576.45 537.12 L 554.09 542.91 L 547.71 539.59 L 570.04 533.83 z" fill="#000084" stroke="#000084"/><path d="M 167.88 529.62 L 144.27 532.89 L 138.53 528.53 L 162.13 525.65 z" fill="#0000ad" stroke="#0000ad"/><path d="M 407.23 536.24 L 384.38 542.03 L 378.26 538.71 L 401.1 532.94 z" fill="#000089" stroke="#000089"/><path d="M 202.92 532.23 L 179.45 537.15 L 173.66 533.43 L 197.11 528.62 z" fill="#00009f" stroke="#00009f"/><path d="M 780.81 538.75 L 759.05 544.56 L 752.33 541.24 L 774.07 535.45 z" fill="#000080" stroke="#000080"/><path d="M 611.58 537.95 L 589.32 543.75 L 582.88 540.43 L 605.12 534.65 z" fill="#000084" stroke="#000084"/><path d="M 237.96 534.47 L 214.59 539.3 L 208.75 535.78 L 232.1 531.06 z" fill="#000096" stroke="#000096"/><path d="M 442.32 537.07 L 419.56 542.86 L 413.39 539.55 L 436.13 533.77 z" fill="#000089" stroke="#000089"/><path d="M 273.01 535.87 L 249.74 541.26 L 243.84 537.87 L 267.09 532.53 z" fill="#00008d" stroke="#00008d"/><path d="M 646.74 538.78 L 624.58 544.58 L 618.07 541.26 L 640.21 535.48 z" fill="#000080" stroke="#000080"/><path d="M 477.43 537.91 L 454.76 543.7 L 448.53 540.38 L 471.18 534.61 z" fill="#000089" stroke="#000089"/><path d="M 308.08 537.01 L 284.91 542.56 L 278.95 539.21 L 302.1 533.71 z" fill="#00008d" stroke="#00008d"/><path d="M 681.91 539.6 L 659.85 545.41 L 653.28 542.09 L 675.33 536.3 z" fill="#000080" stroke="#000080"/><path d="M 512.56 538.75 L 489.99 544.54 L 483.7 541.22 L 506.25 535.45 z" fill="#000084" stroke="#000084"/><path d="M 343.16 537.88 L 320.09 543.65 L 314.07 540.33 L 337.12 534.58 z" fill="#000089" stroke="#000089"/><path d="M 717.11 540.42 L 695.14 546.24 L 688.52 542.92 L 710.47 537.12 z" fill="#000080" stroke="#000080"/><path d="M 547.71 539.59 L 525.24 545.39 L 518.89 542.06 L 541.34 536.29 z" fill="#000084" stroke="#000084"/><path d="M 378.26 538.71 L 355.29 544.52 L 349.21 541.19 L 372.17 535.41 z" fill="#000089" stroke="#000089"/><path d="M 752.33 541.24 L 730.46 547.07 L 723.77 543.74 L 745.63 537.94 z" fill="#000080" stroke="#000080"/><path d="M 173.66 533.43 L 150.03 537.03 L 144.27 532.89 L 167.88 529.62 z" fill="#0000a8" stroke="#0000a8"/><path d="M 582.88 540.43 L 560.5 546.24 L 554.09 542.91 L 576.45 537.12 z" fill="#000084" stroke="#000084"/><path d="M 413.39 539.55 L 390.51 545.35 L 384.38 542.03 L 407.23 536.24 z" fill="#000089" stroke="#000089"/><path d="M 208.75 535.78 L 185.25 540.79 L 179.45 537.15 L 202.92 532.23 z" fill="#00009b" stroke="#00009b"/><path d="M 787.57 542.06 L 765.8 547.89 L 759.05 544.56 L 780.81 538.75 z" fill="#000080" stroke="#000080"/><path d="M 618.07 541.26 L 595.79 547.08 L 589.32 543.75 L 611.58 537.95 z" fill="#000084" stroke="#000084"/><path d="M 243.84 537.87 L 220.45 542.8 L 214.59 539.3 L 237.96 534.47 z" fill="#000092" stroke="#000092"/><path d="M 448.53 540.38 L 425.75 546.19 L 419.56 542.86 L 442.32 537.07 z" fill="#000089" stroke="#000089"/><path d="M 278.95 539.21 L 255.66 544.66 L 249.74 541.26 L 273.01 535.87 z" fill="#00008d" stroke="#00008d"/><path d="M 653.28 542.09 L 631.1 547.91 L 624.58 544.58 L 646.74 538.78 z" fill="#000080" stroke="#000080"/><path d="M 483.7 541.22 L 461.02 547.03 L 454.76 543.7 L 477.43 537.91 z" fill="#000084" stroke="#000084"/><path d="M 314.07 540.33 L 290.88 545.91 L 284.91 542.56 L 308.08 537.01 z" fill="#00008d" stroke="#00008d"/><path d="M 688.52 542.92 L 666.44 548.75 L 659.85 545.41 L 681.91 539.6 z" fill="#000080" stroke="#000080"/><path d="M 518.89 542.06 L 496.3 547.87 L 489.99 544.54 L 512.56 538.75 z" fill="#000084" stroke="#000084"/><path d="M 349.21 541.19 L 326.12 546.99 L 320.09 543.65 L 343.16 537.88 z" fill="#000089" stroke="#000089"/><path d="M 723.77 543.74 L 701.79 549.58 L 695.14 546.24 L 717.11 540.42 z" fill="#000080" stroke="#000080"/><path d="M 554.09 542.91 L 531.61 548.72 L 525.24 545.39 L 547.71 539.59 z" fill="#000084" stroke="#000084"/><path d="M 384.38 542.03 L 361.38 547.85 L 355.29 544.52 L 378.26 538.71 z" fill="#000089" stroke="#000089"/><path d="M 759.05 544.56 L 737.17 550.41 L 730.46 547.07 L 752.33 541.24 z" fill="#000080" stroke="#000080"/><path d="M 179.45 537.15 L 155.81 541.03 L 150.03 537.03 L 173.66 533.43 z" fill="#0000a4" stroke="#0000a4"/><path d="M 589.32 543.75 L 566.93 549.57 L 560.5 546.24 L 582.88 540.43 z" fill="#000084" stroke="#000084"/><path d="M 214.59 539.3 L 191.07 544.39 L 185.25 540.79 L 208.75 535.78 z" fill="#00009b" stroke="#00009b"/><path d="M 419.56 542.86 L 396.66 548.69 L 390.51 545.35 L 413.39 539.55 z" fill="#000089" stroke="#000089"/><path d="M 794.35 545.39 L 772.56 551.23 L 765.8 547.89 L 787.57 542.06 z" fill="#000080" stroke="#000080"/><path d="M 624.58 544.58 L 602.28 550.42 L 595.79 547.08 L 618.07 541.26 z" fill="#000080" stroke="#000080"/><path d="M 249.74 541.26 L 226.33 546.28 L 220.45 542.8 L 243.84 537.87 z" fill="#000092" stroke="#000092"/><path d="M 454.76 543.7 L 431.96 549.53 L 425.75 546.19 L 448.53 540.38 z" fill="#000089" stroke="#000089"/><path d="M 284.91 542.56 L 261.6 548.05 L 255.66 544.66 L 278.95 539.21 z" fill="#00008d" stroke="#00008d"/><path d="M 659.85 545.41 L 637.65 551.26 L 631.1 547.91 L 653.28 542.09 z" fill="#000080" stroke="#000080"/><path d="M 489.99 544.54 L 467.29 550.37 L 461.02 547.03 L 483.7 541.22 z" fill="#000084" stroke="#000084"/><path d="M 320.09 543.65 L 296.88 549.27 L 290.88 545.91 L 314.07 540.33 z" fill="#00008d" stroke="#00008d"/><path d="M 695.14 546.24 L 673.05 552.09 L 666.44 548.75 L 688.52 542.92 z" fill="#000080" stroke="#000080"/><path d="M 525.24 545.39 L 502.63 551.22 L 496.3 547.87 L 518.89 542.06 z" fill="#000084" stroke="#000084"/><path d="M 355.29 544.52 L 332.18 550.33 L 326.12 546.99 L 349.21 541.19 z" fill="#000089" stroke="#000089"/><path d="M 730.46 547.07 L 708.46 552.93 L 701.79 549.58 L 723.77 543.74 z" fill="#000080" stroke="#000080"/><path d="M 560.5 546.24 L 538 552.07 L 531.61 548.72 L 554.09 542.91 z" fill="#000084" stroke="#000084"/><path d="M 390.51 545.35 L 367.5 551.2 L 361.38 547.85 L 384.38 542.03 z" fill="#000089" stroke="#000089"/><path d="M 765.8 547.89 L 743.9 553.76 L 737.17 550.41 L 759.05 544.56 z" fill="#000080" stroke="#000080"/><path d="M 185.25 540.79 L 161.6 544.91 L 155.81 541.03 L 179.45 537.15 z" fill="#0000a4" stroke="#0000a4"/><path d="M 595.79 547.08 L 573.39 552.92 L 566.93 549.57 L 589.32 543.75 z" fill="#000084" stroke="#000084"/><path d="M 220.45 542.8 L 196.92 547.95 L 191.07 544.39 L 214.59 539.3 z" fill="#000096" stroke="#000096"/><path d="M 425.75 546.19 L 402.84 552.04 L 396.66 548.69 L 419.56 542.86 z" fill="#000089" stroke="#000089"/><path d="M 631.1 547.91 L 608.79 553.77 L 602.28 550.42 L 624.58 544.58 z" fill="#000080" stroke="#000080"/><path d="M 255.66 544.66 L 232.23 549.75 L 226.33 546.28 L 249.74 541.26 z" fill="#000092" stroke="#000092"/><path d="M 461.02 547.03 L 438.2 552.88 L 431.96 549.53 L 454.76 543.7 z" fill="#000084" stroke="#000084"/><path d="M 290.88 545.91 L 267.55 551.44 L 261.6 548.05 L 284.91 542.56 z" fill="#00008d" stroke="#00008d"/><path d="M 666.44 548.75 L 644.22 554.61 L 637.65 551.26 L 659.85 545.41 z" fill="#000080" stroke="#000080"/><path d="M 496.3 547.87 L 473.58 553.72 L 467.29 550.37 L 489.99 544.54 z" fill="#000084" stroke="#000084"/><path d="M 326.12 546.99 L 302.89 552.64 L 296.88 549.27 L 320.09 543.65 z" fill="#000089" stroke="#000089"/><path d="M 701.79 549.58 L 679.68 555.45 L 673.05 552.09 L 695.14 546.24 z" fill="#000080" stroke="#000080"/><path d="M 531.61 548.72 L 508.98 554.57 L 502.63 551.22 L 525.24 545.39 z" fill="#000084" stroke="#000084"/><path d="M 361.38 547.85 L 338.25 553.69 L 332.18 550.33 L 355.29 544.52 z" fill="#000089" stroke="#000089"/><path d="M 737.17 550.41 L 715.15 556.29 L 708.46 552.93 L 730.46 547.07 z" fill="#000080" stroke="#000080"/><path d="M 566.93 549.57 L 544.41 555.43 L 538 552.07 L 560.5 546.24 z" fill="#000084" stroke="#000084"/><path d="M 396.66 548.69 L 373.63 554.55 L 367.5 551.2 L 390.51 545.35 z" fill="#000089" stroke="#000089"/><path d="M 191.07 544.39 L 167.4 548.71 L 161.6 544.91 L 185.25 540.79 z" fill="#00009f" stroke="#00009f"/><path d="M 772.56 551.23 L 750.65 557.12 L 743.9 553.76 L 765.8 547.89 z" fill="#000080" stroke="#000080"/><path d="M 602.28 550.42 L 579.86 556.28 L 573.39 552.92 L 595.79 547.08 z" fill="#000084" stroke="#000084"/><path d="M 226.33 546.28 L 202.78 551.5 L 196.92 547.95 L 220.45 542.8 z" fill="#000096" stroke="#000096"/><path d="M 431.96 549.53 L 409.03 555.4 L 402.84 552.04 L 425.75 546.19 z" fill="#000089" stroke="#000089"/><path d="M 637.65 551.26 L 615.33 557.13 L 608.79 553.77 L 631.1 547.91 z" fill="#000080" stroke="#000080"/><path d="M 261.6 548.05 L 238.14 553.21 L 232.23 549.75 L 255.66 544.66 z" fill="#000092" stroke="#000092"/><path d="M 467.29 550.37 L 444.45 556.24 L 438.2 552.88 L 461.02 547.03 z" fill="#000084" stroke="#000084"/><path d="M 296.88 549.27 L 273.53 554.84 L 267.55 551.44 L 290.88 545.91 z" fill="#00008d" stroke="#00008d"/><path d="M 673.05 552.09 L 650.82 557.97 L 644.22 554.61 L 666.44 548.75 z" fill="#000080" stroke="#000080"/><path d="M 502.63 551.22 L 479.89 557.09 L 473.58 553.72 L 496.3 547.87 z" fill="#000084" stroke="#000084"/><path d="M 332.18 550.33 L 308.93 556.01 L 302.89 552.64 L 326.12 546.99 z" fill="#000089" stroke="#000089"/><path d="M 708.46 552.93 L 686.33 558.81 L 679.68 555.45 L 701.79 549.58 z" fill="#000080" stroke="#000080"/><path d="M 538 552.07 L 515.36 557.94 L 508.98 554.57 L 531.61 548.72 z" fill="#000084" stroke="#000084"/><path d="M 367.5 551.2 L 344.35 557.06 L 338.25 553.69 L 361.38 547.85 z" fill="#000089" stroke="#000089"/><path d="M 743.9 553.76 L 721.86 559.66 L 715.15 556.29 L 737.17 550.41 z" fill="#000080" stroke="#000080"/><path d="M 573.39 552.92 L 550.84 558.79 L 544.41 555.43 L 566.93 549.57 z" fill="#000084" stroke="#000084"/><path d="M 402.84 552.04 L 379.79 557.92 L 373.63 554.55 L 396.66 548.69 z" fill="#000089" stroke="#000089"/><path d="M 196.92 547.95 L 173.23 552.46 L 167.4 548.71 L 191.07 544.39 z" fill="#00009b" stroke="#00009b"/><path d="M 608.79 553.77 L 586.35 559.65 L 579.86 556.28 L 602.28 550.42 z" fill="#000080" stroke="#000080"/><path d="M 232.23 549.75 L 208.65 555.02 L 202.78 551.5 L 226.33 546.28 z" fill="#000096" stroke="#000096"/><path d="M 438.2 552.88 L 415.24 558.77 L 409.03 555.4 L 431.96 549.53 z" fill="#000084" stroke="#000084"/><path d="M 267.55 551.44 L 244.08 556.67 L 238.14 553.21 L 261.6 548.05 z" fill="#000092" stroke="#000092"/><path d="M 644.22 554.61 L 621.88 560.51 L 615.33 557.13 L 637.65 551.26 z" fill="#000080" stroke="#000080"/><path d="M 473.58 553.72 L 450.73 559.61 L 444.45 556.24 L 467.29 550.37 z" fill="#000084" stroke="#000084"/><path d="M 302.89 552.64 L 279.53 558.25 L 273.53 554.84 L 296.88 549.27 z" fill="#00008d" stroke="#00008d"/><path d="M 679.68 555.45 L 657.43 561.35 L 650.82 557.97 L 673.05 552.09 z" fill="#000080" stroke="#000080"/><path d="M 508.98 554.57 L 486.23 560.46 L 479.89 557.09 L 502.63 551.22 z" fill="#000084" stroke="#000084"/><path d="M 338.25 553.69 L 314.98 559.4 L 308.93 556.01 L 332.18 550.33 z" fill="#000089" stroke="#000089"/><path d="M 715.15 556.29 L 693 562.19 L 686.33 558.81 L 708.46 552.93 z" fill="#000080" stroke="#000080"/><path d="M 544.41 555.43 L 521.75 561.31 L 515.36 557.94 L 538 552.07 z" fill="#000084" stroke="#000084"/><path d="M 373.63 554.55 L 350.46 560.43 L 344.35 557.06 L 367.5 551.2 z" fill="#000089" stroke="#000089"/><path d="M 750.65 557.12 L 728.6 563.04 L 721.86 559.66 L 743.9 553.76 z" fill="#000080" stroke="#000080"/><path d="M 579.86 556.28 L 557.3 562.17 L 550.84 558.79 L 573.39 552.92 z" fill="#000084" stroke="#000084"/><path d="M 409.03 555.4 L 385.96 561.3 L 379.79 557.92 L 402.84 552.04 z" fill="#000089" stroke="#000089"/><path d="M 202.78 551.5 L 179.07 556.15 L 173.23 552.46 L 196.92 547.95 z" fill="#00009b" stroke="#00009b"/><path d="M 615.33 557.13 L 592.87 563.03 L 586.35 559.65 L 608.79 553.77 z" fill="#000080" stroke="#000080"/><path d="M 238.14 553.21 L 214.55 558.53 L 208.65 555.02 L 232.23 549.75 z" fill="#000092" stroke="#000092"/><path d="M 444.45 556.24 L 421.48 562.15 L 415.24 558.77 L 438.2 552.88 z" fill="#000084" stroke="#000084"/><path d="M 273.53 554.84 L 250.04 560.13 L 244.08 556.67 L 267.55 551.44 z" fill="#00008d" stroke="#00008d"/><path d="M 650.82 557.97 L 628.46 563.89 L 621.88 560.51 L 644.22 554.61 z" fill="#000080" stroke="#000080"/><path d="M 479.89 557.09 L 457.02 563 L 450.73 559.61 L 473.58 553.72 z" fill="#000084" stroke="#000084"/><path d="M 308.93 556.01 L 285.54 561.66 L 279.53 558.25 L 302.89 552.64 z" fill="#00008d" stroke="#00008d"/><path d="M 686.33 558.81 L 664.07 564.74 L 657.43 561.35 L 679.68 555.45 z" fill="#000080" stroke="#000080"/><path d="M 515.36 557.94 L 492.58 563.85 L 486.23 560.46 L 508.98 554.57 z" fill="#000084" stroke="#000084"/><path d="M 344.35 557.06 L 321.06 562.8 L 314.98 559.4 L 338.25 553.69 z" fill="#000089" stroke="#000089"/><path d="M 721.86 559.66 L 699.7 565.58 L 693 562.19 L 715.15 556.29 z" fill="#000080" stroke="#000080"/><path d="M 550.84 558.79 L 528.17 564.7 L 521.75 561.31 L 544.41 555.43 z" fill="#000084" stroke="#000084"/><path d="M 379.79 557.92 L 356.6 563.82 L 350.46 560.43 L 373.63 554.55 z" fill="#000089" stroke="#000089"/><path d="M 586.35 559.65 L 563.77 565.56 L 557.3 562.17 L 579.86 556.28 z" fill="#000080" stroke="#000080"/><path d="M 415.24 558.77 L 392.15 564.69 L 385.96 561.3 L 409.03 555.4 z" fill="#000084" stroke="#000084"/><path d="M 208.65 555.02 L 184.93 559.81 L 179.07 556.15 L 202.78 551.5 z" fill="#00009b" stroke="#00009b"/><path d="M 621.88 560.51 L 599.4 566.43 L 592.87 563.03 L 615.33 557.13 z" fill="#000080" stroke="#000080"/><path d="M 244.08 556.67 L 220.47 562.04 L 214.55 558.53 L 238.14 553.21 z" fill="#000092" stroke="#000092"/><path d="M 450.73 559.61 L 427.73 565.54 L 421.48 562.15 L 444.45 556.24 z" fill="#000084" stroke="#000084"/><path d="M 279.53 558.25 L 256.01 563.59 L 250.04 560.13 L 273.53 554.84 z" fill="#00008d" stroke="#00008d"/><path d="M 657.43 561.35 L 635.05 567.28 L 628.46 563.89 L 650.82 557.97 z" fill="#000080" stroke="#000080"/><path d="M 486.23 560.46 L 463.34 566.39 L 457.02 563 L 479.89 557.09 z" fill="#000084" stroke="#000084"/><path d="M 314.98 559.4 L 291.57 565.08 L 285.54 561.66 L 308.93 556.01 z" fill="#000089" stroke="#000089"/><path d="M 693 562.19 L 670.72 568.13 L 664.07 564.74 L 686.33 558.81 z" fill="#000080" stroke="#000080"/><path d="M 521.75 561.31 L 498.96 567.24 L 492.58 563.85 L 515.36 557.94 z" fill="#000084" stroke="#000084"/><path d="M 350.46 560.43 L 327.15 566.2 L 321.06 562.8 L 344.35 557.06 z" fill="#000089" stroke="#000089"/><path d="M 728.6 563.04 L 706.42 568.98 L 699.7 565.58 L 721.86 559.66 z" fill="#000080" stroke="#000080"/><path d="M 557.3 562.17 L 534.61 568.1 L 528.17 564.7 L 550.84 558.79 z" fill="#000084" stroke="#000084"/><path d="M 385.96 561.3 L 362.75 567.22 L 356.6 563.82 L 379.79 557.92 z" fill="#000089" stroke="#000089"/><path d="M 592.87 563.03 L 570.27 568.97 L 563.77 565.56 L 586.35 559.65 z" fill="#000080" stroke="#000080"/><path d="M 214.55 558.53 L 190.81 563.45 L 184.93 559.81 L 208.65 555.02 z" fill="#000096" stroke="#000096"/><path d="M 421.48 562.15 L 398.37 568.09 L 392.15 564.69 L 415.24 558.77 z" fill="#000084" stroke="#000084"/><path d="M 628.46 563.89 L 605.96 569.83 L 599.4 566.43 L 621.88 560.51 z" fill="#000080" stroke="#000080"/><path d="M 250.04 560.13 L 226.4 565.54 L 220.47 562.04 L 244.08 556.67 z" fill="#000092" stroke="#000092"/><path d="M 457.02 563 L 434.01 568.94 L 427.73 565.54 L 450.73 559.61 z" fill="#000084" stroke="#000084"/><path d="M 285.54 561.66 L 262.01 567.05 L 256.01 563.59 L 279.53 558.25 z" fill="#00008d" stroke="#00008d"/><path d="M 664.07 564.74 L 641.67 570.69 L 635.05 567.28 L 657.43 561.35 z" fill="#000080" stroke="#000080"/><path d="M 492.58 563.85 L 469.67 569.8 L 463.34 566.39 L 486.23 560.46 z" fill="#000084" stroke="#000084"/><path d="M 321.06 562.8 L 297.63 568.51 L 291.57 565.08 L 314.98 559.4 z" fill="#000089" stroke="#000089"/><path d="M 699.7 565.58 L 677.4 571.54 L 670.72 568.13 L 693 562.19 z" fill="#000080" stroke="#000080"/><path d="M 528.17 564.7 L 505.36 570.65 L 498.96 567.24 L 521.75 561.31 z" fill="#000084" stroke="#000084"/><path d="M 356.6 563.82 L 333.27 569.62 L 327.15 566.2 L 350.46 560.43 z" fill="#000089" stroke="#000089"/><path d="M 563.77 565.56 L 541.06 571.51 L 534.61 568.1 L 557.3 562.17 z" fill="#000080" stroke="#000080"/><path d="M 392.15 564.69 L 368.93 570.63 L 362.75 567.22 L 385.96 561.3 z" fill="#000089" stroke="#000089"/><path d="M 599.4 566.43 L 576.79 572.38 L 570.27 568.97 L 592.87 563.03 z" fill="#000080" stroke="#000080"/><path d="M 220.47 562.04 L 196.7 567.06 L 190.81 563.45 L 214.55 558.53 z" fill="#000096" stroke="#000096"/><path d="M 427.73 565.54 L 404.61 571.5 L 398.37 568.09 L 421.48 562.15 z" fill="#000084" stroke="#000084"/><path d="M 635.05 567.28 L 612.54 573.25 L 605.96 569.83 L 628.46 563.89 z" fill="#000080" stroke="#000080"/><path d="M 256.01 563.59 L 232.36 569.03 L 226.4 565.54 L 250.04 560.13 z" fill="#000092" stroke="#000092"/><path d="M 463.34 566.39 L 440.31 572.36 L 434.01 568.94 L 457.02 563 z" fill="#000084" stroke="#000084"/><path d="M 291.57 565.08 L 268.02 570.51 L 262.01 567.05 L 285.54 561.66 z" fill="#00008d" stroke="#00008d"/><path d="M 670.72 568.13 L 648.31 574.11 L 641.67 570.69 L 664.07 564.74 z" fill="#000080" stroke="#000080"/><path d="M 498.96 567.24 L 476.03 573.21 L 469.67 569.8 L 492.58 563.85 z" fill="#000084" stroke="#000084"/><path d="M 327.15 566.2 L 303.7 571.94 L 297.63 568.51 L 321.06 562.8 z" fill="#000089" stroke="#000089"/><path d="M 706.42 568.98 L 684.11 574.96 L 677.4 571.54 L 699.7 565.58 z" fill="#000080" stroke="#000080"/><path d="M 534.61 568.1 L 511.78 574.07 L 505.36 570.65 L 528.17 564.7 z" fill="#000084" stroke="#000084"/><path d="M 362.75 567.22 L 339.4 573.04 L 333.27 569.62 L 356.6 563.82 z" fill="#000089" stroke="#000089"/><path d="M 570.27 568.97 L 547.54 574.93 L 541.06 571.51 L 563.77 565.56 z" fill="#000080" stroke="#000080"/><path d="M 398.37 568.09 L 375.12 574.06 L 368.93 570.63 L 392.15 564.69 z" fill="#000084" stroke="#000084"/><path d="M 605.96 569.83 L 583.33 575.8 L 576.79 572.38 L 599.4 566.43 z" fill="#000080" stroke="#000080"/><path d="M 226.4 565.54 L 202.62 570.65 L 196.7 567.06 L 220.47 562.04 z" fill="#000096" stroke="#000096"/><path d="M 434.01 568.94 L 410.86 574.92 L 404.61 571.5 L 427.73 565.54 z" fill="#000084" stroke="#000084"/><path d="M 641.67 570.69 L 619.14 576.67 L 612.54 573.25 L 635.05 567.28 z" fill="#000080" stroke="#000080"/><path d="M 262.01 567.05 L 238.33 572.53 L 232.36 569.03 L 256.01 563.59 z" fill="#000092" stroke="#000092"/><path d="M 469.67 569.8 L 446.62 575.78 L 440.31 572.36 L 463.34 566.39 z" fill="#000084" stroke="#000084"/><path d="M 297.63 568.51 L 274.06 573.97 L 268.02 570.51 L 291.57 565.08 z" fill="#00008d" stroke="#00008d"/><path d="M 677.4 571.54 L 654.97 577.54 L 648.31 574.11 L 670.72 568.13 z" fill="#000080" stroke="#000080"/><path d="M 505.36 570.65 L 482.41 576.64 L 476.03 573.21 L 498.96 567.24 z" fill="#000084" stroke="#000084"/><path d="M 333.27 569.62 L 309.8 575.39 L 303.7 571.94 L 327.15 566.2 z" fill="#000089" stroke="#000089"/><path d="M 541.06 571.51 L 518.21 577.5 L 511.78 574.07 L 534.61 568.1 z" fill="#000080" stroke="#000080"/><path d="M 368.93 570.63 L 345.56 576.48 L 339.4 573.04 L 362.75 567.22 z" fill="#000089" stroke="#000089"/><path d="M 576.79 572.38 L 554.04 578.37 L 547.54 574.93 L 570.27 568.97 z" fill="#000080" stroke="#000080"/><path d="M 404.61 571.5 L 381.34 577.49 L 375.12 574.06 L 398.37 568.09 z" fill="#000084" stroke="#000084"/><path d="M 612.54 573.25 L 589.89 579.24 L 583.33 575.8 L 605.96 569.83 z" fill="#000080" stroke="#000080"/><path d="M 232.36 569.03 L 208.55 574.24 L 202.62 570.65 L 226.4 565.54 z" fill="#000096" stroke="#000096"/><path d="M 440.31 572.36 L 417.14 578.36 L 410.86 574.92 L 434.01 568.94 z" fill="#000084" stroke="#000084"/><path d="M 648.31 574.11 L 625.76 580.11 L 619.14 576.67 L 641.67 570.69 z" fill="#000080" stroke="#000080"/><path d="M 268.02 570.51 L 244.33 576.03 L 238.33 572.53 L 262.01 567.05 z" fill="#00008d" stroke="#00008d"/><path d="M 476.03 573.21 L 452.96 579.22 L 446.62 575.78 L 469.67 569.8 z" fill="#000084" stroke="#000084"/><path d="M 303.7 571.94 L 280.11 577.45 L 274.06 573.97 L 297.63 568.51 z" fill="#00008d" stroke="#00008d"/><path d="M 684.11 574.96 L 661.66 580.98 L 654.97 577.54 L 677.4 571.54 z" fill="#000080" stroke="#000080"/><path d="M 511.78 574.07 L 488.81 580.08 L 482.41 576.64 L 505.36 570.65 z" fill="#000084" stroke="#000084"/><path d="M 339.4 573.04 L 315.91 578.84 L 309.8 575.39 L 333.27 569.62 z" fill="#000089" stroke="#000089"/><path d="M 547.54 574.93 L 524.68 580.94 L 518.21 577.5 L 541.06 571.51 z" fill="#000080" stroke="#000080"/><path d="M 375.12 574.06 L 351.73 579.92 L 345.56 576.48 L 368.93 570.63 z" fill="#000084" stroke="#000084"/><path d="M 583.33 575.8 L 560.56 581.81 L 554.04 578.37 L 576.79 572.38 z" fill="#000080" stroke="#000080"/><path d="M 410.86 574.92 L 387.57 580.93 L 381.34 577.49 L 404.61 571.5 z" fill="#000084" stroke="#000084"/><path d="M 619.14 576.67 L 596.48 582.69 L 589.89 579.24 L 612.54 573.25 z" fill="#000080" stroke="#000080"/><path d="M 238.33 572.53 L 214.51 577.81 L 208.55 574.24 L 232.36 569.03 z" fill="#000092" stroke="#000092"/><path d="M 446.62 575.78 L 423.44 581.8 L 417.14 578.36 L 440.31 572.36 z" fill="#000084" stroke="#000084"/><path d="M 654.97 577.54 L 632.41 583.56 L 625.76 580.11 L 648.31 574.11 z" fill="#000080" stroke="#000080"/><path d="M 274.06 573.97 L 250.34 579.53 L 244.33 576.03 L 268.02 570.51 z" fill="#00008d" stroke="#00008d"/><path d="M 482.41 576.64 L 459.32 582.67 L 452.96 579.22 L 476.03 573.21 z" fill="#000084" stroke="#000084"/><path d="M 309.8 575.39 L 286.18 580.93 L 280.11 577.45 L 303.7 571.94 z" fill="#000089" stroke="#000089"/><path d="M 518.21 577.5 L 495.23 583.53 L 488.81 580.08 L 511.78 574.07 z" fill="#000080" stroke="#000080"/><path d="M 345.56 576.48 L 322.05 582.3 L 315.91 578.84 L 339.4 573.04 z" fill="#000089" stroke="#000089"/><path d="M 554.04 578.37 L 531.16 584.4 L 524.68 580.94 L 547.54 574.93 z" fill="#000080" stroke="#000080"/><path d="M 381.34 577.49 L 357.93 583.38 L 351.73 579.92 L 375.12 574.06 z" fill="#000084" stroke="#000084"/><path d="M 589.89 579.24 L 567.11 585.27 L 560.56 581.81 L 583.33 575.8 z" fill="#000080" stroke="#000080"/><path d="M 417.14 578.36 L 393.83 584.39 L 387.57 580.93 L 410.86 574.92 z" fill="#000084" stroke="#000084"/><path d="M 625.76 580.11 L 603.08 586.14 L 596.48 582.69 L 619.14 576.67 z" fill="#000080" stroke="#000080"/><path d="M 244.33 576.03 L 220.48 581.37 L 214.51 577.81 L 238.33 572.53 z" fill="#000092" stroke="#000092"/><path d="M 452.96 579.22 L 429.76 585.26 L 423.44 581.8 L 446.62 575.78 z" fill="#000084" stroke="#000084"/><path d="M 661.66 580.98 L 639.08 587.02 L 632.41 583.56 L 654.97 577.54 z" fill="#000080" stroke="#000080"/><path d="M 280.11 577.45 L 256.37 583.03 L 250.34 579.53 L 274.06 573.97 z" fill="#00008d" stroke="#00008d"/><path d="M 488.81 580.08 L 465.7 586.13 L 459.32 582.67 L 482.41 576.64 z" fill="#000084" stroke="#000084"/><path d="M 315.91 578.84 L 292.28 584.41 L 286.18 580.93 L 309.8 575.39 z" fill="#000089" stroke="#000089"/><path d="M 524.68 580.94 L 501.67 586.99 L 495.23 583.53 L 518.21 577.5 z" fill="#000080" stroke="#000080"/><path d="M 351.73 579.92 L 328.2 585.77 L 322.05 582.3 L 345.56 576.48 z" fill="#000089" stroke="#000089"/><path d="M 560.56 581.81 L 537.66 587.86 L 531.16 584.4 L 554.04 578.37 z" fill="#000080" stroke="#000080"/><path d="M 387.57 580.93 L 364.15 586.85 L 357.93 583.38 L 381.34 577.49 z" fill="#000084" stroke="#000084"/><path d="M 596.48 582.69 L 573.67 588.73 L 567.11 585.27 L 589.89 579.24 z" fill="#000080" stroke="#000080"/><path d="M 423.44 581.8 L 400.11 587.85 L 393.83 584.39 L 417.14 578.36 z" fill="#000084" stroke="#000084"/><path d="M 632.41 583.56 L 609.71 589.61 L 603.08 586.14 L 625.76 580.11 z" fill="#000080" stroke="#000080"/><path d="M 250.34 579.53 L 226.47 584.93 L 220.48 581.37 L 244.33 576.03 z" fill="#000092" stroke="#000092"/><path d="M 459.32 582.67 L 436.1 588.73 L 429.76 585.26 L 452.96 579.22 z" fill="#000084" stroke="#000084"/><path d="M 286.18 580.93 L 262.42 586.54 L 256.37 583.03 L 280.11 577.45 z" fill="#00008d" stroke="#00008d"/><path d="M 495.23 583.53 L 472.1 589.6 L 465.7 586.13 L 488.81 580.08 z" fill="#000084" stroke="#000084"/><path d="M 322.05 582.3 L 298.39 587.9 L 292.28 584.41 L 315.91 578.84 z" fill="#000089" stroke="#000089"/><path d="M 531.16 584.4 L 508.13 590.47 L 501.67 586.99 L 524.68 580.94 z" fill="#000080" stroke="#000080"/><path d="M 357.93 583.38 L 334.38 589.25 L 328.2 585.77 L 351.73 579.92 z" fill="#000089" stroke="#000089"/><path d="M 567.11 585.27 L 544.19 591.34 L 537.66 587.86 L 560.56 581.81 z" fill="#000080" stroke="#000080"/><path d="M 393.83 584.39 L 370.38 590.32 L 364.15 586.85 L 387.57 580.93 z" fill="#000084" stroke="#000084"/><path d="M 603.08 586.14 L 580.26 592.21 L 573.67 588.73 L 596.48 582.69 z" fill="#000080" stroke="#000080"/><path d="M 429.76 585.26 L 406.41 591.33 L 400.11 587.85 L 423.44 581.8 z" fill="#000084" stroke="#000084"/><path d="M 639.08 587.02 L 616.36 593.09 L 609.71 589.61 L 632.41 583.56 z" fill="#000080" stroke="#000080"/><path d="M 256.37 583.03 L 232.49 588.49 L 226.47 584.93 L 250.34 579.53 z" fill="#000092" stroke="#000092"/><path d="M 465.7 586.13 L 442.46 592.21 L 436.1 588.73 L 459.32 582.67 z" fill="#000084" stroke="#000084"/><path d="M 292.28 584.41 L 268.5 590.05 L 262.42 586.54 L 286.18 580.93 z" fill="#00008d" stroke="#00008d"/><path d="M 501.67 586.99 L 478.53 593.08 L 472.1 589.6 L 495.23 583.53 z" fill="#000080" stroke="#000080"/><path d="M 328.2 585.77 L 304.53 591.41 L 298.39 587.9 L 322.05 582.3 z" fill="#000089" stroke="#000089"/><path d="M 537.66 587.86 L 514.62 593.95 L 508.13 590.47 L 531.16 584.4 z" fill="#000080" stroke="#000080"/><path d="M 364.15 586.85 L 340.57 592.74 L 334.38 589.25 L 357.93 583.38 z" fill="#000084" stroke="#000084"/><path d="M 573.67 588.73 L 550.73 594.82 L 544.19 591.34 L 567.11 585.27 z" fill="#000080" stroke="#000080"/><path d="M 400.11 587.85 L 376.64 593.81 L 370.38 590.32 L 393.83 584.39 z" fill="#000084" stroke="#000084"/><path d="M 609.71 589.61 L 586.87 595.7 L 580.26 592.21 L 603.08 586.14 z" fill="#000080" stroke="#000080"/><path d="M 436.1 588.73 L 412.73 594.82 L 406.41 591.33 L 429.76 585.26 z" fill="#000084" stroke="#000084"/><path d="M 262.42 586.54 L 238.52 592.05 L 232.49 588.49 L 256.37 583.03 z" fill="#000092" stroke="#000092"/><path d="M 472.1 589.6 L 448.84 595.7 L 442.46 592.21 L 465.7 586.13 z" fill="#000084" stroke="#000084"/><path d="M 298.39 587.9 L 274.59 593.57 L 268.5 590.05 L 292.28 584.41 z" fill="#00008d" stroke="#00008d"/><path d="M 508.13 590.47 L 484.97 596.57 L 478.53 593.08 L 501.67 586.99 z" fill="#000080" stroke="#000080"/><path d="M 334.38 589.25 L 310.68 594.92 L 304.53 591.41 L 328.2 585.77 z" fill="#000089" stroke="#000089"/><path d="M 544.19 591.34 L 521.13 597.45 L 514.62 593.95 L 537.66 587.86 z" fill="#000080" stroke="#000080"/><path d="M 370.38 590.32 L 346.79 596.25 L 340.57 592.74 L 364.15 586.85 z" fill="#000084" stroke="#000084"/><path d="M 580.26 592.21 L 557.3 598.32 L 550.73 594.82 L 573.67 588.73 z" fill="#000080" stroke="#000080"/><path d="M 406.41 591.33 L 382.92 597.31 L 376.64 593.81 L 400.11 587.85 z" fill="#000084" stroke="#000084"/><path d="M 616.36 593.09 L 593.5 599.21 L 586.87 595.7 L 609.71 589.61 z" fill="#000080" stroke="#000080"/><path d="M 442.46 592.21 L 419.07 598.32 L 412.73 594.82 L 436.1 588.73 z" fill="#000084" stroke="#000084"/><path d="M 268.5 590.05 L 244.57 595.61 L 238.52 592.05 L 262.42 586.54 z" fill="#00008d" stroke="#00008d"/><path d="M 478.53 593.08 L 455.24 599.2 L 448.84 595.7 L 472.1 589.6 z" fill="#000080" stroke="#000080"/><path d="M 304.53 591.41 L 280.71 597.1 L 274.59 593.57 L 298.39 587.9 z" fill="#00008d" stroke="#00008d"/><path d="M 514.62 593.95 L 491.44 600.08 L 484.97 596.57 L 508.13 590.47 z" fill="#000080" stroke="#000080"/><path d="M 340.57 592.74 L 316.86 598.44 L 310.68 594.92 L 334.38 589.25 z" fill="#000089" stroke="#000089"/><path d="M 550.73 594.82 L 527.65 600.96 L 521.13 597.45 L 544.19 591.34 z" fill="#000080" stroke="#000080"/><path d="M 376.64 593.81 L 353.03 599.76 L 346.79 596.25 L 370.38 590.32 z" fill="#000084" stroke="#000084"/><path d="M 586.87 595.7 L 563.89 601.84 L 557.3 598.32 L 580.26 592.21 z" fill="#000080" stroke="#000080"/><path d="M 412.73 594.82 L 389.22 600.83 L 382.92 597.31 L 406.41 591.33 z" fill="#000084" stroke="#000084"/><path d="M 448.84 595.7 L 425.43 601.84 L 419.07 598.32 L 442.46 592.21 z" fill="#000084" stroke="#000084"/><path d="M 274.59 593.57 L 250.64 599.17 L 244.57 595.61 L 268.5 590.05 z" fill="#00008d" stroke="#00008d"/><path d="M 484.97 596.57 L 461.67 602.72 L 455.24 599.2 L 478.53 593.08 z" fill="#000080" stroke="#000080"/><path d="M 310.68 594.92 L 286.84 600.63 L 280.71 597.1 L 304.53 591.41 z" fill="#000089" stroke="#000089"/><path d="M 521.13 597.45 L 497.93 603.6 L 491.44 600.08 L 514.62 593.95 z" fill="#000080" stroke="#000080"/><path d="M 346.79 596.25 L 323.05 601.96 L 316.86 598.44 L 340.57 592.74 z" fill="#000089" stroke="#000089"/><path d="M 557.3 598.32 L 534.21 604.48 L 527.65 600.96 L 550.73 594.82 z" fill="#000080" stroke="#000080"/><path d="M 382.92 597.31 L 359.29 603.28 L 353.03 599.76 L 376.64 593.81 z" fill="#000084" stroke="#000084"/><path d="M 593.5 599.21 L 570.51 605.36 L 563.89 601.84 L 586.87 595.7 z" fill="#000080" stroke="#000080"/><path d="M 419.07 598.32 L 395.54 604.35 L 389.22 600.83 L 412.73 594.82 z" fill="#000084" stroke="#000084"/><path d="M 455.24 599.2 L 431.82 605.36 L 425.43 601.84 L 448.84 595.7 z" fill="#000080" stroke="#000080"/><path d="M 280.71 597.1 L 256.74 602.74 L 250.64 599.17 L 274.59 593.57 z" fill="#00008d" stroke="#00008d"/><path d="M 491.44 600.08 L 468.11 606.25 L 461.67 602.72 L 484.97 596.57 z" fill="#000080" stroke="#000080"/><path d="M 316.86 598.44 L 292.99 604.18 L 286.84 600.63 L 310.68 594.92 z" fill="#000089" stroke="#000089"/><path d="M 527.65 600.96 L 504.43 607.13 L 497.93 603.6 L 521.13 597.45 z" fill="#000080" stroke="#000080"/><path d="M 353.03 599.76 L 329.27 605.5 L 323.05 601.96 L 346.79 596.25 z" fill="#000089" stroke="#000089"/><path d="M 563.89 601.84 L 540.78 608.01 L 534.21 604.48 L 557.3 598.32 z" fill="#000080" stroke="#000080"/><path d="M 389.22 600.83 L 365.57 606.82 L 359.29 603.28 L 382.92 597.31 z" fill="#000084" stroke="#000084"/><path d="M 425.43 601.84 L 401.88 607.89 L 395.54 604.35 L 419.07 598.32 z" fill="#000084" stroke="#000084"/><path d="M 461.67 602.72 L 438.22 608.9 L 431.82 605.36 L 455.24 599.2 z" fill="#000080" stroke="#000080"/><path d="M 286.84 600.63 L 262.85 606.31 L 256.74 602.74 L 280.71 597.1 z" fill="#00008d" stroke="#00008d"/><path d="M 497.93 603.6 L 474.58 609.79 L 468.11 606.25 L 491.44 600.08 z" fill="#000080" stroke="#000080"/><path d="M 323.05 601.96 L 299.17 607.73 L 292.99 604.18 L 316.86 598.44 z" fill="#000089" stroke="#000089"/><path d="M 534.21 604.48 L 510.97 610.67 L 504.43 607.13 L 527.65 600.96 z" fill="#000080" stroke="#000080"/><path d="M 359.29 603.28 L 335.51 609.05 L 329.27 605.5 L 353.03 599.76 z" fill="#000084" stroke="#000084"/><path d="M 570.51 605.36 L 547.37 611.56 L 540.78 608.01 L 563.89 601.84 z" fill="#000080" stroke="#000080"/><path d="M 395.54 604.35 L 371.87 610.37 L 365.57 606.82 L 389.22 600.83 z" fill="#000084" stroke="#000084"/><path d="M 431.82 605.36 L 408.25 611.43 L 401.88 607.89 L 425.43 601.84 z" fill="#000084" stroke="#000084"/><path d="M 468.11 606.25 L 444.65 612.45 L 438.22 608.9 L 461.67 602.72 z" fill="#000080" stroke="#000080"/><path d="M 292.99 604.18 L 268.98 609.89 L 262.85 606.31 L 286.84 600.63 z" fill="#00008d" stroke="#00008d"/><path d="M 504.43 607.13 L 481.07 613.34 L 474.58 609.79 L 497.93 603.6 z" fill="#000080" stroke="#000080"/><path d="M 329.27 605.5 L 305.37 611.3 L 299.17 607.73 L 323.05 601.96 z" fill="#000089" stroke="#000089"/><path d="M 540.78 608.01 L 517.52 614.22 L 510.97 610.67 L 534.21 604.48 z" fill="#000080" stroke="#000080"/><path d="M 365.57 606.82 L 341.77 612.61 L 335.51 609.05 L 359.29 603.28 z" fill="#000084" stroke="#000084"/><path d="M 401.88 607.89 L 378.19 613.92 L 371.87 610.37 L 395.54 604.35 z" fill="#000084" stroke="#000084"/><path d="M 438.22 608.9 L 414.63 614.99 L 408.25 611.43 L 431.82 605.36 z" fill="#000080" stroke="#000080"/><path d="M 474.58 609.79 L 451.1 616.01 L 444.65 612.45 L 468.11 606.25 z" fill="#000080" stroke="#000080"/><path d="M 299.17 607.73 L 275.14 613.48 L 268.98 609.89 L 292.99 604.18 z" fill="#00008d" stroke="#00008d"/><path d="M 510.97 610.67 L 487.58 616.9 L 481.07 613.34 L 504.43 607.13 z" fill="#000080" stroke="#000080"/><path d="M 335.51 609.05 L 311.58 614.87 L 305.37 611.3 L 329.27 605.5 z" fill="#000089" stroke="#000089"/><path d="M 547.37 611.56 L 524.09 617.79 L 517.52 614.22 L 540.78 608.01 z" fill="#000080" stroke="#000080"/><path d="M 371.87 610.37 L 348.05 616.18 L 341.77 612.61 L 365.57 606.82 z" fill="#000084" stroke="#000084"/><path d="M 408.25 611.43 L 384.53 617.49 L 378.19 613.92 L 401.88 607.89 z" fill="#000084" stroke="#000084"/><path d="M 444.65 612.45 L 421.04 618.56 L 414.63 614.99 L 438.22 608.9 z" fill="#000080" stroke="#000080"/><path d="M 481.07 613.34 L 457.57 619.58 L 451.1 616.01 L 474.58 609.79 z" fill="#000080" stroke="#000080"/><path d="M 305.37 611.3 L 281.31 617.08 L 275.14 613.48 L 299.17 607.73 z" fill="#00008d" stroke="#00008d"/><path d="M 517.52 614.22 L 494.12 620.47 L 487.58 616.9 L 510.97 610.67 z" fill="#000080" stroke="#000080"/><path d="M 341.77 612.61 L 317.82 618.45 L 311.58 614.87 L 335.51 609.05 z" fill="#000089" stroke="#000089"/><path d="M 378.19 613.92 L 354.35 619.77 L 348.05 616.18 L 371.87 610.37 z" fill="#000084" stroke="#000084"/><path d="M 414.63 614.99 L 390.9 621.07 L 384.53 617.49 L 408.25 611.43 z" fill="#000084" stroke="#000084"/><path d="M 451.1 616.01 L 427.47 622.14 L 421.04 618.56 L 444.65 612.45 z" fill="#000080" stroke="#000080"/><path d="M 487.58 616.9 L 464.06 623.16 L 457.57 619.58 L 481.07 613.34 z" fill="#000080" stroke="#000080"/><path d="M 311.58 614.87 L 287.51 620.68 L 281.31 617.08 L 305.37 611.3 z" fill="#000089" stroke="#000089"/><path d="M 524.09 617.79 L 500.67 624.06 L 494.12 620.47 L 517.52 614.22 z" fill="#000080" stroke="#000080"/><path d="M 348.05 616.18 L 324.08 622.05 L 317.82 618.45 L 341.77 612.61 z" fill="#000089" stroke="#000089"/><path d="M 384.53 617.49 L 360.67 623.36 L 354.35 619.77 L 378.19 613.92 z" fill="#000084" stroke="#000084"/><path d="M 421.04 618.56 L 397.28 624.67 L 390.9 621.07 L 414.63 614.99 z" fill="#000080" stroke="#000080"/><path d="M 457.57 619.58 L 433.92 625.74 L 427.47 622.14 L 451.1 616.01 z" fill="#000080" stroke="#000080"/><path d="M 494.12 620.47 L 470.57 626.76 L 464.06 623.16 L 487.58 616.9 z" fill="#000080" stroke="#000080"/><path d="M 317.82 618.45 L 293.73 624.29 L 287.51 620.68 L 311.58 614.87 z" fill="#000089" stroke="#000089"/><path d="M 354.35 619.77 L 330.36 625.65 L 324.08 622.05 L 348.05 616.18 z" fill="#000089" stroke="#000089"/><path d="M 390.9 621.07 L 367.02 626.96 L 360.67 623.36 L 384.53 617.49 z" fill="#000084" stroke="#000084"/><path d="M 427.47 622.14 L 403.69 628.27 L 397.28 624.67 L 421.04 618.56 z" fill="#000080" stroke="#000080"/><path d="M 464.06 623.16 L 440.39 629.35 L 433.92 625.74 L 457.57 619.58 z" fill="#000080" stroke="#000080"/><path d="M 500.67 624.06 L 477.11 630.37 L 470.57 626.76 L 494.12 620.47 z" fill="#000080" stroke="#000080"/><path d="M 324.08 622.05 L 299.96 627.91 L 293.73 624.29 L 317.82 618.45 z" fill="#000089" stroke="#000089"/><path d="M 360.67 623.36 L 336.66 629.27 L 330.36 625.65 L 354.35 619.77 z" fill="#000084" stroke="#000084"/><path d="M 397.28 624.67 L 373.38 630.58 L 367.02 626.96 L 390.9 621.07 z" fill="#000084" stroke="#000084"/><path d="M 433.92 625.74 L 410.12 631.89 L 403.69 628.27 L 427.47 622.14 z" fill="#000080" stroke="#000080"/><path d="M 470.57 626.76 L 446.88 632.96 L 440.39 629.35 L 464.06 623.16 z" fill="#000080" stroke="#000080"/><path d="M 330.36 625.65 L 306.22 631.55 L 299.96 627.91 L 324.08 622.05 z" fill="#000089" stroke="#000089"/><path d="M 367.02 626.96 L 342.98 632.89 L 336.66 629.27 L 360.67 623.36 z" fill="#000084" stroke="#000084"/><path d="M 403.69 628.27 L 379.77 634.21 L 373.38 630.58 L 397.28 624.67 z" fill="#000084" stroke="#000084"/><path d="M 440.39 629.35 L 416.57 635.52 L 410.12 631.89 L 433.92 625.74 z" fill="#000080" stroke="#000080"/><path d="M 477.11 630.37 L 453.4 636.6 L 446.88 632.96 L 470.57 626.76 z" fill="#000080" stroke="#000080"/><path d="M 336.66 629.27 L 312.5 635.19 L 306.22 631.55 L 330.36 625.65 z" fill="#000089" stroke="#000089"/><path d="M 373.38 630.58 L 349.33 636.53 L 342.98 632.89 L 367.02 626.96 z" fill="#000084" stroke="#000084"/><path d="M 410.12 631.89 L 386.18 637.85 L 379.77 634.21 L 403.69 628.27 z" fill="#000084" stroke="#000084"/><path d="M 446.88 632.96 L 423.05 639.16 L 416.57 635.52 L 440.39 629.35 z" fill="#000080" stroke="#000080"/><path d="M 342.98 632.89 L 318.8 638.84 L 312.5 635.19 L 336.66 629.27 z" fill="#000089" stroke="#000089"/><path d="M 379.77 634.21 L 355.7 640.18 L 349.33 636.53 L 373.38 630.58 z" fill="#000084" stroke="#000084"/><path d="M 416.57 635.52 L 392.61 641.5 L 386.18 637.85 L 410.12 631.89 z" fill="#000080" stroke="#000080"/><path d="M 453.4 636.6 L 429.54 642.81 L 423.05 639.16 L 446.88 632.96 z" fill="#000080" stroke="#000080"/><path d="M 349.33 636.53 L 325.13 642.51 L 318.8 638.84 L 342.98 632.89 z" fill="#000089" stroke="#000089"/><path d="M 386.18 637.85 L 362.08 643.85 L 355.7 640.18 L 379.77 634.21 z" fill="#000084" stroke="#000084"/><path d="M 423.05 639.16 L 399.06 645.16 L 392.61 641.5 L 416.57 635.52 z" fill="#000080" stroke="#000080"/><path d="M 355.7 640.18 L 331.47 646.18 L 325.13 642.51 L 349.33 636.53 z" fill="#000089" stroke="#000089"/><path d="M 392.61 641.5 L 368.49 647.52 L 362.08 643.85 L 386.18 637.85 z" fill="#000084" stroke="#000084"/><path d="M 429.54 642.81 L 405.54 648.84 L 399.06 645.16 L 423.05 639.16 z" fill="#000080" stroke="#000080"/><path d="M 362.08 643.85 L 337.84 649.87 L 331.47 646.18 L 355.7 640.18 z" fill="#000084" stroke="#000084"/><path d="M 399.06 645.16 L 374.93 651.21 L 368.49 647.52 L 392.61 641.5 z" fill="#000084" stroke="#000084"/><path d="M 368.49 647.52 L 344.23 653.57 L 337.84 649.87 L 362.08 643.85 z" fill="#000084" stroke="#000084"/><path d="M 405.54 648.84 L 381.38 654.9 L 374.93 651.21 L 399.06 645.16 z" fill="#000084" stroke="#000084"/><path d="M 374.93 651.21 L 350.64 657.28 L 344.23 653.57 L 368.49 647.52 z" fill="#000084" stroke="#000084"/><path d="M 381.38 654.9 L 357.07 661 L 350.64 657.28 L 374.93 651.21 z" fill="#000084" stroke="#000084"/></g></g><g id="axes_2"><g id="patch_6"><path d="M 1045.5 825.5 L 1569.9 825.5 L 1569.9 43 L 1045.5 43 z" style="fill: #ffffff"/></g><g id="matplotlib.axis_1"><g id="xtick_22"><g id="line2d_25"><path d="M 1053.96 825.5 L 1053.96 43" clip-path="url(#p7850dd5fec)" style="fill: none; stroke: #e9e9e9; stroke-width: 2.6; stroke-linecap: square"/></g><g id="line2d_26"/><g id="text_25"><text style="font-size: 17.6px; font-family: 'DejaVu Sans', 'Liberation Sans', sans-serif; text-anchor: middle; fill: #262626" x="1053.96" y="859.87" transform="rotate(-0 1053.96 859.87)">F16</text></g></g><g id="xtick_23"><g id="line2d_27"><path d="M 1138.54 825.5 L 1138.54 43" clip-path="url(#p7850dd5fec)" style="fill: none; stroke: #e9e9e9; stroke-width: 2.6; stroke-linecap: square"/></g><g id="line2d_28"/><g id="text_26"><text style="font-size: 17.6px; font-family: 'DejaVu Sans', 'Liberation Sans', sans-serif; text-anchor: middle; fill: #262626" x="1138.54" y="859.56" transform="rotate(-0 1138.54 859.56)">Q8_0</text></g></g><g id="xtick_24"><g id="line2d_29"><path d="M 1223.12 825.5 L 1223.12 43" clip-path="url(#p7850dd5fec)" style="fill: none; stroke: #e9e9e9; stroke-width: 2.6; stroke-linecap: square"/></g><g id="line2d_30"/><g id="text_27"><text style="font-size: 17.6px; font-family: 'DejaVu Sans', 'Liberation Sans', sans-serif; text-anchor: middle; fill: #262626" x="1223.12" y="859.56" transform="rotate(-0 1223.12 859.56)">Q6_K</text></g></g><g id="xtick_25"><g id="line2d_31"><path d="M 1307.7 825.5 L 1307.7 43" clip-path="url(#p7850dd5fec)" style="fill: none; stroke: #e9e9e9; stroke-width: 2.6; stroke-linecap: square"/></g><g id="line2d_32"/><g id="text_28"><text style="font-size: 17.6px; font-family: 'DejaVu Sans', 'Liberation Sans', sans-serif; text-anchor: middle; fill: #262626" x="1307.7" y="859.56" transform="rotate(-0 1307.7 859.56)">Q5_K_M</text></g></g><g id="xtick_26"><g id="line2d_33"><path d="M 1392.28 825.5 L 1392.28 43" clip-path="url(#p7850dd5fec)" style="fill: none; stroke: #e9e9e9; stroke-width: 2.6; stroke-linecap: square"/></g><g id="line2d_34"/><g id="text_29"><text style="font-size: 17.6px; font-family: 'DejaVu Sans', 'Liberation Sans', sans-serif; text-anchor: middle; fill: #262626" x="1392.28" y="859.56" transform="rotate(-0 1392.28 859.56)">Q4_K_M</text></g></g><g id="xtick_27"><g id="line2d_35"><path d="M 1476.86 825.5 L 1476.86 43" clip-path="url(#p7850dd5fec)" style="fill: none; stroke: #e9e9e9; stroke-width: 2.6; stroke-linecap: square"/></g><g id="line2d_36"/><g id="text_30"><text style="font-size: 17.6px; font-family: 'DejaVu Sans', 'Liberation Sans', sans-serif; text-anchor: middle; fill: #262626" x="1476.86" y="859.56" transform="rotate(-0 1476.86 859.56)">Q3_K_M</text></g></g><g id="xtick_28"><g id="line2d_37"><path d="M 1561.44 825.5 L 1561.44 43" clip-path="url(#p7850dd5fec)" style="fill: none; stroke: #e9e9e9; stroke-width: 2.6; stroke-linecap: square"/></g><g id="line2d_38"/><g id="text_31"><text style="font-size: 17.6px; font-family: 'DejaVu Sans', 'Liberation Sans', sans-serif; text-anchor: middle; fill: #262626" x="1561.44" y="859.56" transform="rotate(-0 1561.44 859.56)">Q2_K</text></g></g><g id="text_32"><text style="font-weight: 700; font-size: 19.3px; font-family: 'DejaVu Sans', 'Liberation Sans', sans-serif; text-anchor: middle; fill: #262626" x="1307.7" y="886.08" transform="rotate(-0 1307.7 886.08)">Quantization Bit</text></g></g><g id="matplotlib.axis_2"><g id="ytick_1"><g id="line2d_39"><path d="M 1045.5 814.63 L 1569.9 814.63" clip-path="url(#p7850dd5fec)" style="fill: none; stroke: #e9e9e9; stroke-width: 2.6; stroke-linecap: square"/></g><g id="line2d_40"/><g id="text_33"><text style="font-size: 18.5px; font-family: 'DejaVu Sans', 'Liberation Sans', sans-serif; text-anchor: end; fill: #262626" x="1023.9" y="821.66" transform="rotate(-0 1023.9 821.66)">0</text></g></g><g id="ytick_2"><g id="line2d_41"><path d="M 1045.5 705.95 L 1569.9 705.95" clip-path="url(#p7850dd5fec)" style="fill: none; stroke: #e9e9e9; stroke-width: 2.6; stroke-linecap: square"/></g><g id="line2d_42"/><g id="text_34"><text style="font-size: 18.5px; font-family: 'DejaVu Sans', 'Liberation Sans', sans-serif; text-anchor: end; fill: #262626" x="1023.9" y="712.98" transform="rotate(-0 1023.9 712.98)">10</text></g></g><g id="ytick_3"><g id="line2d_43"><path d="M 1045.5 597.27 L 1569.9 597.27" clip-path="url(#p7850dd5fec)" style="fill: none; stroke: #e9e9e9; stroke-width: 2.6; stroke-linecap: square"/></g><g id="line2d_44"/><g id="text_35"><text style="font-size: 18.5px; font-family: 'DejaVu Sans', 'Liberation Sans', sans-serif; text-anchor: end; fill: #262626" x="1023.9" y="604.3" transform="rotate(-0 1023.9 604.3)">20</text></g></g><g id="ytick_4"><g id="line2d_45"><path d="M 1045.5 488.59 L 1569.9 488.59" clip-path="url(#p7850dd5fec)" style="fill: none; stroke: #e9e9e9; stroke-width: 2.6; stroke-linecap: square"/></g><g id="line2d_46"/><g id="text_36"><text style="font-size: 18.5px; font-family: 'DejaVu Sans', 'Liberation Sans', sans-serif; text-anchor: end; fill: #262626" x="1023.9" y="495.62" transform="rotate(-0 1023.9 495.62)">30</text></g></g><g id="ytick_5"><g id="line2d_47"><path d="M 1045.5 379.91 L 1569.9 379.91" clip-path="url(#p7850dd5fec)" style="fill: none; stroke: #e9e9e9; stroke-width: 2.6; stroke-linecap: square"/></g><g id="line2d_48"/><g id="text_37"><text style="font-size: 18.5px; font-family: 'DejaVu Sans', 'Liberation Sans', sans-serif; text-anchor: end; fill: #262626" x="1023.9" y="386.94" transform="rotate(-0 1023.9 386.94)">40</text></g></g><g id="ytick_6"><g id="line2d_49"><path d="M 1045.5 271.23 L 1569.9 271.23" clip-path="url(#p7850dd5fec)" style="fill: none; stroke: #e9e9e9; stroke-width: 2.6; stroke-linecap: square"/></g><g id="line2d_50"/><g id="text_38"><text style="font-size: 18.5px; font-family: 'DejaVu Sans', 'Liberation Sans', sans-serif; text-anchor: end; fill: #262626" x="1023.9" y="278.26" transform="rotate(-0 1023.9 278.26)">50</text></g></g><g id="ytick_7"><g id="line2d_51"><path d="M 1045.5 162.55 L 1569.9 162.55" clip-path="url(#p7850dd5fec)" style="fill: none; stroke: #e9e9e9; stroke-width: 2.6; stroke-linecap: square"/></g><g id="line2d_52"/><g id="text_39"><text style="font-size: 18.5px; font-family: 'DejaVu Sans', 'Liberation Sans', sans-serif; text-anchor: end; fill: #262626" x="1023.9" y="169.58" transform="rotate(-0 1023.9 169.58)">60</text></g></g><g id="ytick_8"><g id="line2d_53"><path d="M 1045.5 53.87 L 1569.9 53.87" clip-path="url(#p7850dd5fec)" style="fill: none; stroke: #e9e9e9; stroke-width: 2.6; stroke-linecap: square"/></g><g id="line2d_54"/><g id="text_40"><text style="font-size: 18.5px; font-family: 'DejaVu Sans', 'Liberation Sans', sans-serif; text-anchor: end; fill: #262626" x="1023.9" y="60.9" transform="rotate(-0 1023.9 60.9)">70</text></g></g><g id="text_41"><text style="font-weight: 700; font-size: 19.3px; font-family: 'DejaVu Sans', 'Liberation Sans', sans-serif; text-anchor: middle; fill: #262626" x="989.69" y="434.25" transform="rotate(-90 989.69 434.25)">Pruning Ratio (%)</text></g></g><g id="QuadContourSet_1" opacity="0.8" stroke-width="0.6"><path d="M 1062.42 814.63 L 1070.87 814.63 L 1079.33 814.63 L 1087.79 814.63 L 1096.25 814.63 L 1104.71 814.63 L 1113.16 814.63 L 1121.62 814.63 L 1130.08 814.63 L 1138.54 814.63 L 1147 814.63 L 1155.45 814.63 L 1163.91 814.63 L 1172.37 814.63 L 1180.83 814.63 L 1189.29 814.63 L 1197.75 814.63 L 1206.2 814.63 L 1214.66 814.63 L 1223.12 814.63 L 1231.58 814.63 L 1240.04 814.63 L 1248.49 814.63 L 1256.95 814.63 L 1265.41 814.63 L 1273.87 814.63 L 1282.33 814.63 L 1290.78 814.63 L 1299.24 814.63 L 1307.7 814.63 L 1316.16 814.63 L 1324.62 814.63 L 1333.07 814.63 L 1341.53 814.63 L 1349.99 814.63 L 1358.45 814.63 L 1366.91 814.63 L 1375.36 814.63 L 1383.82 814.63 L 1392.28 814.63 L 1400.74 814.63 L 1409.2 814.63 L 1417.65 814.63 L 1426.11 814.63 L 1434.57 814.63 L 1443.03 814.63 L 1451.49 814.63 L 1459.95 814.63 L 1468.4 814.63 L 1476.86 814.63 L 1485.32 814.63 L 1493.78 814.63 L 1502.24 814.63 L 1510.69 814.63 L 1519.15 814.63 L 1527.61 814.63 L 1536.07 814.63 L 1544.53 814.63 L 1552.98 814.63 L 1561.44 814.63 L 1561.44 809.2 L 1561.44 803.76 L 1561.44 798.33 L 1561.44 792.9 L 1561.44 787.46 L 1561.44 782.03 L 1561.44 776.59 L 1561.44 771.16 L 1561.44 765.73 L 1561.44 760.29 L 1561.44 754.86 L 1561.44 749.42 L 1561.44 743.99 L 1561.44 738.56 L 1561.44 733.12 L 1561.44 727.69 L 1561.44 722.25 L 1561.44 716.82 L 1561.44 711.39 L 1561.44 705.95 L 1561.44 700.52 L 1561.44 695.08 L 1561.44 689.65 L 1561.44 684.22 L 1561.44 678.78 L 1561.44 673.35 L 1561.44 667.91 L 1561.44 662.48 L 1561.44 657.05 L 1561.44 651.61 L 1561.44 646.18 L 1561.44 640.74 L 1561.44 635.31 L 1561.44 629.88 L 1561.44 624.44 L 1561.44 619.01 L 1561.44 613.57 L 1561.44 608.14 L 1561.44 602.7 L 1561.44 597.27 L 1561.44 591.84 L 1561.44 586.4 L 1561.44 580.97 L 1561.44 575.53 L 1561.44 570.1 L 1561.44 564.67 L 1561.44 559.23 L 1561.44 553.8 L 1561.44 548.36 L 1561.44 542.93 L 1561.44 537.5 L 1561.44 532.06 L 1561.44 526.63 L 1561.44 521.19 L 1561.44 515.76 L 1561.44 510.33 L 1561.44 504.89 L 1561.44 499.46 L 1561.44 494.02 L 1561.44 488.59 L 1561.44 483.16 L 1561.44 477.72 L 1561.44 472.29 L 1561.44 466.85 L 1561.44 461.42 L 1561.44 455.99 L 1561.44 450.55 L 1561.44 445.12 L 1561.44 439.68 L 1561.44 434.25 L 1561.44 428.82 L 1561.44 423.38 L 1561.44 417.95 L 1561.44 412.51 L 1561.44 407.08 L 1561.44 401.65 L 1561.44 396.21 L 1561.44 390.78 L 1561.44 385.34 L 1561.44 379.91 L 1561.44 374.48 L 1561.44 369.04 L 1561.44 363.61 L 1561.44 358.17 L 1561.44 352.74 L 1561.44 347.31 L 1561.44 341.87 L 1561.44 336.44 L 1561.44 331 L 1561.44 325.57 L 1561.44 320.14 L 1561.44 314.7 L 1561.44 309.27 L 1561.44 303.83 L 1561.44 298.4 L 1561.44 292.97 L 1561.44 287.53 L 1561.44 282.1 L 1561.44 276.66 L 1561.44 271.23 L 1561.44 265.8 L 1561.44 260.36 L 1561.44 254.93 L 1561.44 249.49 L 1561.44 244.06 L 1561.44 238.62 L 1561.44 233.19 L 1561.44 227.76 L 1561.44 222.32 L 1561.44 216.89 L 1561.44 211.45 L 1561.44 206.02 L 1561.44 200.59 L 1561.44 196.06 L 1560.55 195.15 L 1554.98 189.72 L 1552.98 187.85 L 1548.19 184.28 L 1544.53 181.68 L 1540.05 178.85 L 1536.07 176.47 L 1529.11 173.42 L 1527.61 172.8 L 1519.15 169.9 L 1514.21 167.98 L 1510.69 166.72 L 1502.24 163.06 L 1501.18 162.55 L 1493.78 159.29 L 1488.8 157.11 L 1485.32 155.73 L 1476.86 152.92 L 1472.07 151.68 L 1468.4 150.82 L 1459.95 148.93 L 1451.49 147.19 L 1446.63 146.25 L 1443.03 145.63 L 1434.57 144.39 L 1426.11 143.6 L 1417.65 143.19 L 1409.2 143.02 L 1400.74 142.99 L 1392.28 142.96 L 1383.82 142.92 L 1375.36 142.89 L 1366.91 142.85 L 1358.45 142.82 L 1349.99 142.78 L 1341.53 142.75 L 1333.07 142.71 L 1324.62 142.68 L 1316.16 142.64 L 1307.7 142.61 L 1299.24 142.57 L 1290.78 142.52 L 1282.33 142.48 L 1273.87 142.44 L 1265.41 142.4 L 1256.95 142.35 L 1248.49 142.31 L 1240.04 142.27 L 1231.58 142.23 L 1223.12 142.18 L 1214.66 142.15 L 1206.2 142.12 L 1197.75 142.08 L 1189.29 142.05 L 1180.83 142.01 L 1172.37 141.98 L 1163.91 141.95 L 1155.45 141.91 L 1147 141.88 L 1138.54 141.84 L 1130.08 141.81 L 1121.62 141.78 L 1113.16 141.75 L 1104.71 141.72 L 1096.25 141.69 L 1087.79 141.66 L 1079.33 141.63 L 1070.87 141.6 L 1062.42 141.57 L 1053.96 141.54 L 1053.96 146.25 L 1053.96 151.68 L 1053.96 157.11 L 1053.96 162.55 L 1053.96 167.98 L 1053.96 173.42 L 1053.96 178.85 L 1053.96 184.28 L 1053.96 189.72 L 1053.96 195.15 L 1053.96 200.59 L 1053.96 206.02 L 1053.96 211.45 L 1053.96 216.89 L 1053.96 222.32 L 1053.96 227.76 L 1053.96 233.19 L 1053.96 238.62 L 1053.96 244.06 L 1053.96 249.49 L 1053.96 254.93 L 1053.96 260.36 L 1053.96 265.8 L 1053.96 271.23 L 1053.96 276.66 L 1053.96 282.1 L 1053.96 287.53 L 1053.96 292.97 L 1053.96 298.4 L 1053.96 303.83 L 1053.96 309.27 L 1053.96 314.7 L 1053.96 320.14 L 1053.96 325.57 L 1053.96 331 L 1053.96 336.44 L 1053.96 341.87 L 1053.96 347.31 L 1053.96 352.74 L 1053.96 358.17 L 1053.96 363.61 L 1053.96 369.04 L 1053.96 374.48 L 1053.96 379.91 L 1053.96 385.34 L 1053.96 390.78 L 1053.96 396.21 L 1053.96 401.65 L 1053.96 407.08 L 1053.96 412.51 L 1053.96 417.95 L 1053.96 423.38 L 1053.96 428.82 L 1053.96 434.25 L 1053.96 439.68 L 1053.96 445.12 L 1053.96 450.55 L 1053.96 455.99 L 1053.96 461.42 L 1053.96 466.85 L 1053.96 472.29 L 1053.96 477.72 L 1053.96 483.16 L 1053.96 488.59 L 1053.96 494.02 L 1053.96 499.46 L 1053.96 504.89 L 1053.96 510.33 L 1053.96 515.76 L 1053.96 521.19 L 1053.96 526.63 L 1053.96 532.06 L 1053.96 537.5 L 1053.96 542.93 L 1053.96 548.36 L 1053.96 553.8 L 1053.96 559.23 L 1053.96 564.67 L 1053.96 570.1 L 1053.96 575.53 L 1053.96 580.97 L 1053.96 586.4 L 1053.96 591.84 L 1053.96 597.27 L 1053.96 602.7 L 1053.96 608.14 L 1053.96 613.57 L 1053.96 619.01 L 1053.96 624.44 L 1053.96 629.88 L 1053.96 635.31 L 1053.96 640.74 L 1053.96 646.18 L 1053.96 651.61 L 1053.96 657.05 L 1053.96 662.48 L 1053.96 667.91 L 1053.96 673.35 L 1053.96 678.78 L 1053.96 684.22 L 1053.96 689.65 L 1053.96 695.08 L 1053.96 700.52 L 1053.96 705.95 L 1053.96 711.39 L 1053.96 716.82 L 1053.96 722.25 L 1053.96 727.69 L 1053.96 733.12 L 1053.96 738.56 L 1053.96 743.99 L 1053.96 749.42 L 1053.96 754.86 L 1053.96 760.29 L 1053.96 765.73 L 1053.96 771.16 L 1053.96 776.59 L 1053.96 782.03 L 1053.96 787.46 L 1053.96 792.9 L 1053.96 798.33 L 1053.96 803.76 L 1053.96 809.2 L 1053.96 814.63 z" fill="#0000a8" stroke="#0000a8"/><path d="M 1561.44 196.06 L 1561.44 195.15 L 1561.44 189.72 L 1561.44 184.28 L 1561.44 178.85 L 1561.44 173.42 L 1561.44 167.98 L 1561.44 162.55 L 1561.44 157.11 L 1561.44 151.68 L 1561.44 150.48 L 1554.67 146.25 L 1552.98 145.24 L 1544.53 140.92 L 1544.28 140.81 L 1536.07 137.22 L 1530.97 135.38 L 1527.61 134.24 L 1519.15 131.65 L 1513.83 129.94 L 1510.69 129.01 L 1502.24 126.34 L 1496.77 124.51 L 1493.78 123.59 L 1485.32 121.14 L 1476.99 119.08 L 1476.86 119.05 L 1468.4 117.49 L 1459.95 116.05 L 1451.49 114.8 L 1443.09 113.64 L 1443.03 113.63 L 1434.57 112.79 L 1426.11 112.32 L 1417.65 112.11 L 1409.2 112.03 L 1400.74 112 L 1392.28 111.97 L 1383.82 111.94 L 1375.36 111.9 L 1366.91 111.87 L 1358.45 111.84 L 1349.99 111.81 L 1341.53 111.78 L 1333.07 111.74 L 1324.62 111.71 L 1316.16 111.68 L 1307.7 111.65 L 1299.24 111.61 L 1290.78 111.58 L 1282.33 111.54 L 1273.87 111.51 L 1265.41 111.47 L 1256.95 111.44 L 1248.49 111.4 L 1240.04 111.37 L 1231.58 111.33 L 1223.12 111.29 L 1214.66 111.26 L 1206.2 111.23 L 1197.75 111.2 L 1189.29 111.16 L 1180.83 111.13 L 1172.37 111.1 L 1163.91 111.07 L 1155.45 111.03 L 1147 111 L 1138.54 110.97 L 1130.08 110.93 L 1121.62 110.9 L 1113.16 110.87 L 1104.71 110.84 L 1096.25 110.81 L 1087.79 110.78 L 1079.33 110.74 L 1070.87 110.71 L 1062.42 110.68 L 1053.96 110.65 L 1053.96 113.64 L 1053.96 119.08 L 1053.96 124.51 L 1053.96 129.94 L 1053.96 135.38 L 1053.96 140.81 L 1053.96 141.54 L 1062.42 141.57 L 1070.87 141.6 L 1079.33 141.63 L 1087.79 141.66 L 1096.25 141.69 L 1104.71 141.72 L 1113.16 141.75 L 1121.62 141.78 L 1130.08 141.81 L 1138.54 141.84 L 1147 141.88 L 1155.45 141.91 L 1163.91 141.95 L 1172.37 141.98 L 1180.83 142.01 L 1189.29 142.05 L 1197.75 142.08 L 1206.2 142.12 L 1214.66 142.15 L 1223.12 142.18 L 1231.58 142.23 L 1240.04 142.27 L 1248.49 142.31 L 1256.95 142.35 L 1265.41 142.4 L 1273.87 142.44 L 1282.33 142.48 L 1290.78 142.52 L 1299.24 142.57 L 1307.7 142.61 L 1316.16 142.64 L 1324.62 142.68 L 1333.07 142.71 L 1341.53 142.75 L 1349.99 142.78 L 1358.45 142.82 L 1366.91 142.85 L 1375.36 142.89 L 1383.82 142.92 L 1392.28 142.96 L 1400.74 142.99 L 1409.2 143.02 L 1417.65 143.19 L 1426.11 143.6 L 1434.57 144.39 L 1443.03 145.63 L 1446.63 146.25 L 1451.49 147.19 L 1459.95 148.93 L 1468.4 150.82 L 1472.07 151.68 L 1476.86 152.92 L 1485.32 155.73 L 1488.8 157.11 L 1493.78 159.29 L 1501.18 162.55 L 1502.24 163.06 L 1510.69 166.72 L 1514.21 167.98 L 1519.15 169.9 L 1527.61 172.8 L 1529.11 173.42 L 1536.07 176.47 L 1540.05 178.85 L 1544.53 181.68 L 1548.19 184.28 L 1552.98 187.85 L 1554.98 189.72 L 1560.55 195.15 z" fill="#0000fa" stroke="#0000fa"/><path d="M 1561.44 150.48 L 1561.44 146.25 L 1561.44 140.81 L 1561.44 135.38 L 1561.44 129.94 L 1561.44 128.81 L 1553.34 124.51 L 1552.98 124.33 L 1544.53 120.6 L 1540.87 119.08 L 1536.07 117.19 L 1527.61 114.31 L 1525.49 113.64 L 1519.15 111.77 L 1510.69 109.23 L 1507.32 108.21 L 1502.24 106.78 L 1493.78 104.37 L 1487.82 102.77 L 1485.32 102.16 L 1476.86 100.42 L 1468.4 98.9 L 1459.95 97.53 L 1458.52 97.34 L 1451.49 96.49 L 1443.03 95.54 L 1434.57 94.78 L 1426.11 94.41 L 1417.65 94.26 L 1409.2 94.2 L 1400.74 94.17 L 1392.28 94.14 L 1383.82 94.1 L 1375.36 94.07 L 1366.91 94.04 L 1358.45 94 L 1349.99 93.97 L 1341.53 93.94 L 1333.07 93.9 L 1324.62 93.87 L 1316.16 93.83 L 1307.7 93.8 L 1299.24 93.77 L 1290.78 93.73 L 1282.33 93.69 L 1273.87 93.66 L 1265.41 93.62 L 1256.95 93.59 L 1248.49 93.55 L 1240.04 93.51 L 1231.58 93.48 L 1223.12 93.44 L 1214.66 93.41 L 1206.2 93.37 L 1197.75 93.34 L 1189.29 93.3 L 1180.83 93.27 L 1172.37 93.23 L 1163.91 93.2 L 1155.45 93.16 L 1147 93.13 L 1138.54 93.09 L 1130.08 93.06 L 1121.62 93.02 L 1113.16 92.99 L 1104.71 92.95 L 1096.25 92.92 L 1087.79 92.88 L 1079.33 92.85 L 1070.87 92.81 L 1062.42 92.78 L 1053.96 92.74 L 1053.96 97.34 L 1053.96 102.77 L 1053.96 108.21 L 1053.96 110.65 L 1062.42 110.68 L 1070.87 110.71 L 1079.33 110.74 L 1087.79 110.78 L 1096.25 110.81 L 1104.71 110.84 L 1113.16 110.87 L 1121.62 110.9 L 1130.08 110.93 L 1138.54 110.97 L 1147 111 L 1155.45 111.03 L 1163.91 111.07 L 1172.37 111.1 L 1180.83 111.13 L 1189.29 111.16 L 1197.75 111.2 L 1206.2 111.23 L 1214.66 111.26 L 1223.12 111.29 L 1231.58 111.33 L 1240.04 111.37 L 1248.49 111.4 L 1256.95 111.44 L 1265.41 111.47 L 1273.87 111.51 L 1282.33 111.54 L 1290.78 111.58 L 1299.24 111.61 L 1307.7 111.65 L 1316.16 111.68 L 1324.62 111.71 L 1333.07 111.74 L 1341.53 111.78 L 1349.99 111.81 L 1358.45 111.84 L 1366.91 111.87 L 1375.36 111.9 L 1383.82 111.94 L 1392.28 111.97 L 1400.74 112 L 1409.2 112.03 L 1417.65 112.11 L 1426.11 112.32 L 1434.57 112.79 L 1443.03 113.63 L 1443.09 113.64 L 1451.49 114.8 L 1459.95 116.05 L 1468.4 117.49 L 1476.86 119.05 L 1476.99 119.08 L 1485.32 121.14 L 1493.78 123.59 L 1496.77 124.51 L 1502.24 126.34 L 1510.69 129.01 L 1513.83 129.94 L 1519.15 131.65 L 1527.61 134.24 L 1530.97 135.38 L 1536.07 137.22 L 1544.28 140.81 L 1544.53 140.92 L 1552.98 145.24 L 1554.67 146.25 z" fill="#0034ff" stroke="#0034ff"/><path d="M 1561.44 128.81 L 1561.44 124.51 L 1561.44 119.08 L 1561.44 114.27 L 1560.18 113.64 L 1552.98 110.25 L 1548.28 108.21 L 1544.53 106.66 L 1536.07 103.36 L 1534.37 102.77 L 1527.61 100.59 L 1519.15 97.93 L 1517.2 97.34 L 1510.69 95.48 L 1502.24 93.09 L 1497.97 91.91 L 1493.78 90.82 L 1485.32 88.81 L 1476.86 87.07 L 1473.48 86.47 L 1468.4 85.64 L 1459.95 84.41 L 1451.49 83.42 L 1443.03 82.49 L 1434.57 81.76 L 1426.11 81.43 L 1417.65 81.31 L 1409.2 81.26 L 1400.74 81.23 L 1392.28 81.2 L 1383.82 81.16 L 1375.36 81.13 L 1366.91 81.09 L 1358.45 81.06 L 1354.08 81.04 L 1349.99 81.02 L 1341.53 80.99 L 1333.07 80.96 L 1324.62 80.93 L 1316.16 80.89 L 1307.7 80.86 L 1299.24 80.83 L 1290.78 80.79 L 1282.33 80.76 L 1273.87 80.73 L 1265.41 80.69 L 1256.95 80.66 L 1248.49 80.63 L 1240.04 80.59 L 1231.58 80.56 L 1223.12 80.52 L 1214.66 80.49 L 1206.2 80.46 L 1197.75 80.42 L 1189.29 80.39 L 1180.83 80.36 L 1172.37 80.32 L 1163.91 80.29 L 1155.45 80.26 L 1147 80.22 L 1138.54 80.19 L 1130.08 80.15 L 1121.62 80.12 L 1113.16 80.09 L 1104.71 80.05 L 1096.25 80.02 L 1087.79 79.98 L 1079.33 79.95 L 1070.87 79.91 L 1062.42 79.88 L 1053.96 79.85 L 1053.96 81.04 L 1053.96 86.47 L 1053.96 91.91 L 1053.96 92.74 L 1062.42 92.78 L 1070.87 92.81 L 1079.33 92.85 L 1087.79 92.88 L 1096.25 92.92 L 1104.71 92.95 L 1113.16 92.99 L 1121.62 93.02 L 1130.08 93.06 L 1138.54 93.09 L 1147 93.13 L 1155.45 93.16 L 1163.91 93.2 L 1172.37 93.23 L 1180.83 93.27 L 1189.29 93.3 L 1197.75 93.34 L 1206.2 93.37 L 1214.66 93.41 L 1223.12 93.44 L 1231.58 93.48 L 1240.04 93.51 L 1248.49 93.55 L 1256.95 93.59 L 1265.41 93.62 L 1273.87 93.66 L 1282.33 93.69 L 1290.78 93.73 L 1299.24 93.77 L 1307.7 93.8 L 1316.16 93.83 L 1324.62 93.87 L 1333.07 93.9 L 1341.53 93.94 L 1349.99 93.97 L 1358.45 94 L 1366.91 94.04 L 1375.36 94.07 L 1383.82 94.1 L 1392.28 94.14 L 1400.74 94.17 L 1409.2 94.2 L 1417.65 94.26 L 1426.11 94.41 L 1434.57 94.78 L 1443.03 95.54 L 1451.49 96.49 L 1458.52 97.34 L 1459.95 97.53 L 1468.4 98.9 L 1476.86 100.42 L 1485.32 102.16 L 1487.82 102.77 L 1493.78 104.37 L 1502.24 106.78 L 1507.32 108.21 L 1510.69 109.23 L 1519.15 111.77 L 1525.49 113.64 L 1527.61 114.31 L 1536.07 117.19 L 1540.87 119.08 L 1544.53 120.6 L 1552.98 124.33 L 1553.34 124.51 z" fill="#0080ff" stroke="#0080ff"/><path d="M 1561.44 114.27 L 1561.44 113.64 L 1561.44 108.21 L 1561.44 103.23 L 1560.48 102.77 L 1552.98 99.42 L 1548.03 97.34 L 1544.53 95.94 L 1536.07 92.72 L 1533.69 91.91 L 1527.61 89.93 L 1519.15 87.25 L 1516.58 86.47 L 1510.69 84.78 L 1502.24 82.45 L 1496.99 81.04 L 1493.78 80.23 L 1485.32 78.31 L 1476.86 76.65 L 1470.91 75.6 L 1468.4 75.2 L 1459.95 74.02 L 1451.49 73.06 L 1443.03 72.19 L 1434.57 71.5 L 1426.11 71.21 L 1417.65 71.13 L 1409.2 71.09 L 1400.74 71.06 L 1392.28 71.02 L 1383.82 70.99 L 1375.36 70.95 L 1366.91 70.91 L 1358.45 70.88 L 1349.99 70.84 L 1341.53 70.81 L 1333.07 70.77 L 1324.62 70.73 L 1316.16 70.7 L 1307.7 70.66 L 1299.24 70.62 L 1290.78 70.59 L 1282.33 70.55 L 1273.87 70.51 L 1265.41 70.47 L 1256.95 70.44 L 1248.49 70.4 L 1240.04 70.36 L 1231.58 70.32 L 1223.12 70.28 L 1214.66 70.25 L 1206.2 70.21 L 1197.75 70.17 L 1197.47 70.17 L 1189.29 70.14 L 1180.83 70.1 L 1172.37 70.07 L 1163.91 70.03 L 1155.45 70 L 1147 69.96 L 1138.54 69.93 L 1130.08 69.9 L 1121.62 69.86 L 1113.16 69.83 L 1104.71 69.79 L 1096.25 69.76 L 1087.79 69.72 L 1079.33 69.69 L 1070.87 69.65 L 1062.42 69.61 L 1053.96 69.58 L 1053.96 70.17 L 1053.96 75.6 L 1053.96 79.85 L 1062.42 79.88 L 1070.87 79.91 L 1079.33 79.95 L 1087.79 79.98 L 1096.25 80.02 L 1104.71 80.05 L 1113.16 80.09 L 1121.62 80.12 L 1130.08 80.15 L 1138.54 80.19 L 1147 80.22 L 1155.45 80.26 L 1163.91 80.29 L 1172.37 80.32 L 1180.83 80.36 L 1189.29 80.39 L 1197.75 80.42 L 1206.2 80.46 L 1214.66 80.49 L 1223.12 80.52 L 1231.58 80.56 L 1240.04 80.59 L 1248.49 80.63 L 1256.95 80.66 L 1265.41 80.69 L 1273.87 80.73 L 1282.33 80.76 L 1290.78 80.79 L 1299.24 80.83 L 1307.7 80.86 L 1316.16 80.89 L 1324.62 80.93 L 1333.07 80.96 L 1341.53 80.99 L 1349.99 81.02 L 1354.08 81.04 L 1358.45 81.06 L 1366.91 81.09 L 1375.36 81.13 L 1383.82 81.16 L 1392.28 81.2 L 1400.74 81.23 L 1409.2 81.26 L 1417.65 81.31 L 1426.11 81.43 L 1434.57 81.76 L 1443.03 82.49 L 1451.49 83.42 L 1459.95 84.41 L 1468.4 85.64 L 1473.48 86.47 L 1476.86 87.07 L 1485.32 88.81 L 1493.78 90.82 L 1497.97 91.91 L 1502.24 93.09 L 1510.69 95.48 L 1517.2 97.34 L 1519.15 97.93 L 1527.61 100.59 L 1534.37 102.77 L 1536.07 103.36 L 1544.53 106.66 L 1548.28 108.21 L 1552.98 110.25 L 1560.18 113.64 z" fill="#00c8ff" stroke="#00c8ff"/><path d="M 1561.44 103.23 L 1561.44 102.77 L 1561.44 97.34 L 1561.44 94.32 L 1556.07 91.91 L 1552.98 90.58 L 1544.53 87.14 L 1542.77 86.47 L 1536.07 84.02 L 1527.61 81.11 L 1527.37 81.04 L 1519.15 78.5 L 1510.69 75.92 L 1509.57 75.6 L 1502.24 73.66 L 1493.78 71.49 L 1488.13 70.17 L 1485.32 69.56 L 1476.86 67.99 L 1468.4 66.57 L 1459.95 65.33 L 1454.79 64.74 L 1451.49 64.39 L 1443.03 63.56 L 1434.57 62.93 L 1426.11 62.68 L 1417.65 62.62 L 1409.2 62.58 L 1400.74 62.56 L 1392.28 62.52 L 1383.82 62.49 L 1375.36 62.45 L 1366.91 62.41 L 1358.45 62.38 L 1349.99 62.34 L 1341.53 62.31 L 1333.07 62.27 L 1324.62 62.24 L 1316.16 62.2 L 1307.7 62.17 L 1299.24 62.13 L 1290.78 62.09 L 1282.33 62.06 L 1273.87 62.02 L 1265.41 61.99 L 1256.95 61.95 L 1248.49 61.91 L 1240.04 61.88 L 1231.58 61.84 L 1223.12 61.8 L 1214.66 61.76 L 1206.2 61.73 L 1197.75 61.69 L 1189.29 61.65 L 1180.83 61.62 L 1172.37 61.58 L 1163.91 61.54 L 1155.45 61.5 L 1147 61.47 L 1138.54 61.43 L 1130.08 61.39 L 1121.62 61.35 L 1113.16 61.31 L 1104.71 61.28 L 1096.25 61.24 L 1087.79 61.2 L 1079.33 61.16 L 1070.87 61.12 L 1062.42 61.08 L 1053.96 61.04 L 1053.96 64.74 L 1053.96 69.58 L 1062.42 69.61 L 1070.87 69.65 L 1079.33 69.69 L 1087.79 69.72 L 1096.25 69.76 L 1104.71 69.79 L 1113.16 69.83 L 1121.62 69.86 L 1130.08 69.9 L 1138.54 69.93 L 1147 69.96 L 1155.45 70 L 1163.91 70.03 L 1172.37 70.07 L 1180.83 70.1 L 1189.29 70.14 L 1197.47 70.17 L 1197.75 70.17 L 1206.2 70.21 L 1214.66 70.25 L 1223.12 70.28 L 1231.58 70.32 L 1240.04 70.36 L 1248.49 70.4 L 1256.95 70.44 L 1265.41 70.47 L 1273.87 70.51 L 1282.33 70.55 L 1290.78 70.59 L 1299.24 70.62 L 1307.7 70.66 L 1316.16 70.7 L 1324.62 70.73 L 1333.07 70.77 L 1341.53 70.81 L 1349.99 70.84 L 1358.45 70.88 L 1366.91 70.91 L 1375.36 70.95 L 1383.82 70.99 L 1392.28 71.02 L 1400.74 71.06 L 1409.2 71.09 L 1417.65 71.13 L 1426.11 71.21 L 1434.57 71.5 L 1443.03 72.19 L 1451.49 73.06 L 1459.95 74.02 L 1468.4 75.2 L 1470.91 75.6 L 1476.86 76.65 L 1485.32 78.31 L 1493.78 80.23 L 1496.99 81.04 L 1502.24 82.45 L 1510.69 84.78 L 1516.58 86.47 L 1519.15 87.25 L 1527.61 89.93 L 1533.69 91.91 L 1536.07 92.72 L 1544.53 95.94 L 1548.03 97.34 L 1552.98 99.42 L 1560.48 102.77 z" fill="#23ffd4" stroke="#23ffd4"/><path d="M 1561.44 94.32 L 1561.44 91.91 L 1561.44 86.68 L 1560.96 86.47 L 1552.98 83.1 L 1547.93 81.04 L 1544.53 79.71 L 1536.07 76.55 L 1533.34 75.6 L 1527.61 73.7 L 1519.15 70.95 L 1516.64 70.17 L 1510.69 68.43 L 1502.24 66.12 L 1496.93 64.74 L 1493.78 63.97 L 1485.32 62.11 L 1476.86 60.51 L 1469.89 59.3 L 1468.4 59.06 L 1459.95 57.9 L 1451.49 56.99 L 1443.03 56.16 L 1434.57 55.51 L 1426.11 55.27 L 1417.65 55.22 L 1409.2 55.2 L 1400.74 55.17 L 1392.28 55.13 L 1383.82 55.09 L 1375.36 55.05 L 1366.91 55.02 L 1358.45 54.98 L 1349.99 54.94 L 1341.53 54.9 L 1333.07 54.87 L 1324.62 54.83 L 1316.16 54.79 L 1307.7 54.75 L 1299.24 54.72 L 1290.78 54.68 L 1282.33 54.64 L 1273.87 54.6 L 1265.41 54.56 L 1256.95 54.52 L 1248.49 54.49 L 1240.04 54.45 L 1231.58 54.41 L 1223.12 54.37 L 1214.66 54.33 L 1206.2 54.29 L 1197.75 54.25 L 1189.29 54.21 L 1180.83 54.17 L 1172.37 54.13 L 1163.91 54.09 L 1155.45 54.05 L 1147 54.01 L 1138.54 53.97 L 1130.08 53.93 L 1121.62 53.89 L 1116.56 53.87 L 1113.16 53.87 L 1104.71 53.87 L 1096.25 53.87 L 1087.79 53.87 L 1079.33 53.87 L 1070.87 53.87 L 1062.42 53.87 L 1053.96 53.87 L 1053.96 59.3 L 1053.96 61.04 L 1062.42 61.08 L 1070.87 61.12 L 1079.33 61.16 L 1087.79 61.2 L 1096.25 61.24 L 1104.71 61.28 L 1113.16 61.31 L 1121.62 61.35 L 1130.08 61.39 L 1138.54 61.43 L 1147 61.47 L 1155.45 61.5 L 1163.91 61.54 L 1172.37 61.58 L 1180.83 61.62 L 1189.29 61.65 L 1197.75 61.69 L 1206.2 61.73 L 1214.66 61.76 L 1223.12 61.8 L 1231.58 61.84 L 1240.04 61.88 L 1248.49 61.91 L 1256.95 61.95 L 1265.41 61.99 L 1273.87 62.02 L 1282.33 62.06 L 1290.78 62.09 L 1299.24 62.13 L 1307.7 62.17 L 1316.16 62.2 L 1324.62 62.24 L 1333.07 62.27 L 1341.53 62.31 L 1349.99 62.34 L 1358.45 62.38 L 1366.91 62.41 L 1375.36 62.45 L 1383.82 62.49 L 1392.28 62.52 L 1400.74 62.56 L 1409.2 62.58 L 1417.65 62.62 L 1426.11 62.68 L 1434.57 62.93 L 1443.03 63.56 L 1451.49 64.39 L 1454.79 64.74 L 1459.95 65.33 L 1468.4 66.57 L 1476.86 67.99 L 1485.32 69.56 L 1488.13 70.17 L 1493.78 71.49 L 1502.24 73.66 L 1509.57 75.6 L 1510.69 75.92 L 1519.15 78.5 L 1527.37 81.04 L 1527.61 81.11 L 1536.07 84.02 L 1542.77 86.47 L 1544.53 87.14 L 1552.98 90.58 L 1556.07 91.91 z" fill="#5dff9a" stroke="#5dff9a"/><path d="M 1561.44 86.68 L 1561.44 86.47 L 1561.44 81.04 L 1561.44 80.12 L 1552.98 76.54 L 1550.68 75.6 L 1544.53 73.21 L 1536.53 70.17 L 1536.07 70 L 1527.61 67.16 L 1520.37 64.74 L 1519.15 64.34 L 1510.69 61.82 L 1502.24 59.45 L 1501.65 59.3 L 1493.78 57.39 L 1485.32 55.51 L 1476.86 53.88 L 1476.77 53.87 L 1468.4 53.87 L 1459.95 53.87 L 1451.49 53.87 L 1443.03 53.87 L 1434.57 53.87 L 1426.11 53.87 L 1417.65 53.87 L 1409.2 53.87 L 1400.74 53.87 L 1392.28 53.87 L 1383.82 53.87 L 1375.36 53.87 L 1366.91 53.87 L 1358.45 53.87 L 1349.99 53.87 L 1341.53 53.87 L 1333.07 53.87 L 1324.62 53.87 L 1316.16 53.87 L 1307.7 53.87 L 1299.24 53.87 L 1290.78 53.87 L 1282.33 53.87 L 1273.87 53.87 L 1265.41 53.87 L 1256.95 53.87 L 1248.49 53.87 L 1240.04 53.87 L 1231.58 53.87 L 1223.12 53.87 L 1214.66 53.87 L 1206.2 53.87 L 1197.75 53.87 L 1189.29 53.87 L 1180.83 53.87 L 1172.37 53.87 L 1163.91 53.87 L 1155.45 53.87 L 1147 53.87 L 1138.54 53.87 L 1130.08 53.87 L 1121.62 53.87 L 1116.56 53.87 L 1121.62 53.89 L 1130.08 53.93 L 1138.54 53.97 L 1147 54.01 L 1155.45 54.05 L 1163.91 54.09 L 1172.37 54.13 L 1180.83 54.17 L 1189.29 54.21 L 1197.75 54.25 L 1206.2 54.29 L 1214.66 54.33 L 1223.12 54.37 L 1231.58 54.41 L 1240.04 54.45 L 1248.49 54.49 L 1256.95 54.52 L 1265.41 54.56 L 1273.87 54.6 L 1282.33 54.64 L 1290.78 54.68 L 1299.24 54.72 L 1307.7 54.75 L 1316.16 54.79 L 1324.62 54.83 L 1333.07 54.87 L 1341.53 54.9 L 1349.99 54.94 L 1358.45 54.98 L 1366.91 55.02 L 1375.36 55.05 L 1383.82 55.09 L 1392.28 55.13 L 1400.74 55.17 L 1409.2 55.2 L 1417.65 55.22 L 1426.11 55.27 L 1434.57 55.51 L 1443.03 56.16 L 1451.49 56.99 L 1459.95 57.9 L 1468.4 59.06 L 1469.89 59.3 L 1476.86 60.51 L 1485.32 62.11 L 1493.78 63.97 L 1496.93 64.74 L 1502.24 66.12 L 1510.69 68.43 L 1516.64 70.17 L 1519.15 70.95 L 1527.61 73.7 L 1533.34 75.6 L 1536.07 76.55 L 1544.53 79.71 L 1547.93 81.04 L 1552.98 83.1 L 1560.96 86.47 z" fill="#9aff5d" stroke="#9aff5d"/><path d="M 1552.98 76.54 L 1561.44 80.12 L 1561.44 75.6 L 1561.44 74.29 L 1552.98 70.72 L 1551.63 70.17 L 1544.53 67.4 L 1537.51 64.74 L 1536.07 64.21 L 1527.61 61.32 L 1521.68 59.3 L 1519.15 58.48 L 1510.69 55.9 L 1503.46 53.87 L 1502.24 53.87 L 1493.78 53.87 L 1485.32 53.87 L 1476.86 53.87 L 1476.77 53.87 L 1476.86 53.88 L 1485.32 55.51 L 1493.78 57.39 L 1501.65 59.3 L 1502.24 59.45 L 1510.69 61.82 L 1519.15 64.34 L 1520.37 64.74 L 1527.61 67.16 L 1536.07 70 L 1536.53 70.17 L 1544.53 73.21 L 1550.68 75.6 z" fill="#d4ff23" stroke="#d4ff23"/><path d="M 1552.98 70.72 L 1561.44 74.29 L 1561.44 70.17 L 1561.44 69.01 L 1552.98 65.48 L 1551.14 64.74 L 1544.53 62.16 L 1537.03 59.3 L 1536.07 58.95 L 1527.61 56.03 L 1521.34 53.87 L 1519.15 53.87 L 1510.69 53.87 L 1503.46 53.87 L 1510.69 55.9 L 1519.15 58.48 L 1521.68 59.3 L 1527.61 61.32 L 1536.07 64.21 L 1537.51 64.74 L 1544.53 67.4 L 1551.63 70.17 z" fill="#ffdb00" stroke="#ffdb00"/><path d="M 1552.98 65.48 L 1561.44 69.01 L 1561.44 64.74 L 1561.44 64.18 L 1552.98 60.71 L 1549.5 59.3 L 1544.53 57.36 L 1536.07 54.13 L 1535.33 53.87 L 1527.61 53.87 L 1521.34 53.87 L 1527.61 56.03 L 1536.07 58.95 L 1537.03 59.3 L 1544.53 62.16 L 1551.14 64.74 z" fill="#ff9400" stroke="#ff9400"/><path d="M 1552.98 60.71 L 1561.44 64.18 L 1561.44 59.75 L 1560.37 59.3 L 1552.98 56.31 L 1546.97 53.87 L 1544.53 53.87 L 1536.07 53.87 L 1535.33 53.87 L 1536.07 54.13 L 1544.53 57.36 L 1549.5 59.3 z" fill="#ff5200" stroke="#ff5200"/><path d="M 1561.44 59.75 L 1561.44 59.3 L 1561.44 55.68 L 1557.11 53.87 L 1552.98 53.87 L 1546.97 53.87 L 1552.98 56.31 L 1560.37 59.3 z" fill="#fa0f00" stroke="#fa0f00"/><path d="M 1561.44 55.68 L 1561.44 53.87 L 1557.11 53.87 z" fill="#a80000" stroke="#a80000"/></g><g id="QuadContourSet_2"><path clip-path="url(#p7850dd5fec)" style="fill: none; stroke: #000000; stroke-opacity: 0.5"/><path d="M 1053.96 141.54 L 1062.42 141.57 L 1070.87 141.6 L 1079.33 141.63 L 1087.79 141.66 L 1096.25 141.69 L 1104.71 141.72 L 1113.16 141.75 L 1121.62 141.78 L 1130.08 141.81 L 1138.54 141.84 L 1147 141.88 L 1155.45 141.91 L 1163.91 141.95 L 1172.37 141.98 L 1180.83 142.01 L 1189.29 142.05 L 1197.75 142.08 L 1206.2 142.12 L 1214.66 142.15 L 1223.12 142.18 L 1231.58 142.23 L 1240.04 142.27 L 1248.49 142.31 L 1256.95 142.35 L 1265.41 142.4 L 1273.87 142.44 L 1282.33 142.48 L 1290.78 142.52 L 1299.24 142.57 L 1307.7 142.61 L 1316.16 142.64 L 1324.62 142.68 L 1333.07 142.71 L 1341.53 142.75 L 1349.99 142.78 L 1358.45 142.82 L 1366.91 142.85 L 1375.36 142.89 L 1383.82 142.92 L 1392.28 142.96 L 1400.74 142.99 L 1409.2 143.02 L 1417.65 143.19 L 1426.11 143.6 L 1434.57 144.39 L 1443.03 145.63 L 1446.63 146.25 L 1451.49 147.19 L 1459.95 148.93 L 1468.4 150.82 L 1472.07 151.68 L 1476.86 152.92 L 1485.32 155.73 L 1488.8 157.11 L 1493.78 159.29 L 1501.18 162.55 L 1502.24 163.06 L 1510.69 166.72 L 1514.21 167.98 L 1519.15 169.9 L 1527.61 172.8 L 1529.11 173.42 L 1536.07 176.47 L 1540.05 178.85 L 1544.53 181.68 L 1548.19 184.28 L 1552.98 187.85 L 1554.98 189.72 L 1560.55 195.15 L 1561.44 196.06" clip-path="url(#p7850dd5fec)" style="fill: none; stroke: #000000; stroke-opacity: 0.5"/><path d="M 1053.96 110.65 L 1062.42 110.68 L 1070.87 110.71 L 1079.33 110.74 L 1087.79 110.78 L 1096.25 110.81 L 1104.71 110.84 L 1113.16 110.87 L 1121.62 110.9 L 1130.08 110.93 L 1138.54 110.97 L 1147 111 L 1155.45 111.03 L 1163.91 111.07 L 1172.37 111.1 L 1180.83 111.13 L 1189.29 111.16 L 1197.75 111.2 L 1206.2 111.23 L 1214.66 111.26 L 1223.12 111.29 L 1231.58 111.33 L 1240.04 111.37 L 1248.49 111.4 L 1256.95 111.44 L 1265.41 111.47 L 1273.87 111.51 L 1282.33 111.54 L 1290.78 111.58 L 1299.24 111.61 L 1307.7 111.65 L 1316.16 111.68 L 1324.62 111.71 L 1333.07 111.74 L 1341.53 111.78 L 1349.99 111.81 L 1358.45 111.84 L 1366.91 111.87 L 1375.36 111.9 L 1383.82 111.94 L 1392.28 111.97 L 1400.74 112 L 1409.2 112.03 L 1417.65 112.11 L 1426.11 112.32 L 1434.57 112.79 L 1443.03 113.63 L 1443.09 113.64 L 1451.49 114.8 L 1459.95 116.05 L 1468.4 117.49 L 1476.86 119.05 L 1476.99 119.08 L 1485.32 121.14 L 1493.78 123.59 L 1496.77 124.51 L 1502.24 126.34 L 1510.69 129.01 L 1513.83 129.94 L 1519.15 131.65 L 1527.61 134.24 L 1530.97 135.38 L 1536.07 137.22 L 1544.28 140.81 L 1544.53 140.92 L 1552.98 145.24 L 1554.67 146.25 L 1561.44 150.48" clip-path="url(#p7850dd5fec)" style="fill: none; stroke: #000000; stroke-opacity: 0.5"/><path d="M 1053.96 92.74 L 1062.42 92.78 L 1070.87 92.81 L 1079.33 92.85 L 1087.79 92.88 L 1096.25 92.92 L 1104.71 92.95 L 1113.16 92.99 L 1121.62 93.02 L 1130.08 93.06 L 1138.54 93.09 L 1147 93.13 L 1155.45 93.16 L 1163.91 93.2 L 1172.37 93.23 L 1180.83 93.27 L 1189.29 93.3 L 1197.75 93.34 L 1206.2 93.37 L 1214.66 93.41 L 1223.12 93.44 L 1231.58 93.48 L 1240.04 93.51 L 1248.49 93.55 L 1256.95 93.59 L 1265.41 93.62 L 1273.87 93.66 L 1282.33 93.69 L 1290.78 93.73 L 1299.24 93.77 L 1307.7 93.8 L 1316.16 93.83 L 1324.62 93.87 L 1333.07 93.9 L 1341.53 93.94 L 1349.99 93.97 L 1358.45 94 L 1366.91 94.04 L 1375.36 94.07 L 1383.82 94.1 L 1392.28 94.14 L 1400.74 94.17 L 1409.2 94.2 L 1417.65 94.26 L 1426.11 94.41 L 1434.57 94.78 L 1443.03 95.54 L 1451.49 96.49 L 1458.52 97.34 L 1459.95 97.53 L 1468.4 98.9 L 1476.86 100.42 L 1485.32 102.16 L 1487.82 102.77 L 1493.78 104.37 L 1502.24 106.78 L 1507.32 108.21 L 1510.69 109.23 L 1519.15 111.77 L 1525.49 113.64 L 1527.61 114.31 L 1536.07 117.19 L 1540.87 119.08 L 1544.53 120.6 L 1552.98 124.33 L 1553.34 124.51 L 1561.44 128.81" clip-path="url(#p7850dd5fec)" style="fill: none; stroke: #000000; stroke-opacity: 0.5"/><path d="M 1053.96 79.85 L 1062.42 79.88 L 1070.87 79.91 L 1079.33 79.95 L 1087.79 79.98 L 1096.25 80.02 L 1104.71 80.05 L 1113.16 80.09 L 1121.62 80.12 L 1130.08 80.15 L 1138.54 80.19 L 1147 80.22 L 1155.45 80.26 L 1163.91 80.29 L 1172.37 80.32 L 1180.83 80.36 L 1189.29 80.39 L 1197.75 80.42 L 1206.2 80.46 L 1214.66 80.49 L 1223.12 80.52 L 1231.58 80.56 L 1240.04 80.59 L 1248.49 80.63 L 1256.95 80.66 L 1265.41 80.69 L 1273.87 80.73 L 1282.33 80.76 L 1290.78 80.79 L 1299.24 80.83 L 1307.7 80.86 L 1316.16 80.89 L 1324.62 80.93 L 1333.07 80.96 L 1341.53 80.99 L 1349.99 81.02 L 1354.08 81.04 L 1358.45 81.06 L 1366.91 81.09 L 1375.36 81.13 L 1383.82 81.16 L 1392.28 81.2 L 1400.74 81.23 L 1409.2 81.26 L 1417.65 81.31 L 1426.11 81.43 L 1434.57 81.76 L 1443.03 82.49 L 1451.49 83.42 L 1459.95 84.41 L 1468.4 85.64 L 1473.48 86.47 L 1476.86 87.07 L 1485.32 88.81 L 1493.78 90.82 L 1497.97 91.91 L 1502.24 93.09 L 1510.69 95.48 L 1517.2 97.34 L 1519.15 97.93 L 1527.61 100.59 L 1534.37 102.77 L 1536.07 103.36 L 1544.53 106.66 L 1548.28 108.21 L 1552.98 110.25 L 1560.18 113.64 L 1561.44 114.27" clip-path="url(#p7850dd5fec)" style="fill: none; stroke: #000000; stroke-opacity: 0.5"/><path d="M 1053.96 69.58 L 1062.42 69.61 L 1070.87 69.65 L 1079.33 69.69 L 1087.79 69.72 L 1096.25 69.76 L 1104.71 69.79 L 1113.16 69.83 L 1121.62 69.86 L 1130.08 69.9 L 1138.54 69.93 L 1147 69.96 L 1155.45 70 L 1163.91 70.03 L 1172.37 70.07 L 1180.83 70.1 L 1189.29 70.14 L 1197.47 70.17 L 1197.75 70.17 L 1206.2 70.21 L 1214.66 70.25 L 1223.12 70.28 L 1231.58 70.32 L 1240.04 70.36 L 1248.49 70.4 L 1256.95 70.44 L 1265.41 70.47 L 1273.87 70.51 L 1282.33 70.55 L 1290.78 70.59 L 1299.24 70.62 L 1307.7 70.66 L 1316.16 70.7 L 1324.62 70.73 L 1333.07 70.77 L 1341.53 70.81 L 1349.99 70.84 L 1358.45 70.88 L 1366.91 70.91 L 1375.36 70.95 L 1383.82 70.99 L 1392.28 71.02 L 1400.74 71.06 L 1409.2 71.09 L 1417.65 71.13 L 1426.11 71.21 L 1434.57 71.5 L 1443.03 72.19 L 1451.49 73.06 L 1459.95 74.02 L 1468.4 75.2 L 1470.91 75.6 L 1476.86 76.65 L 1485.32 78.31 L 1493.78 80.23 L 1496.99 81.04 L 1502.24 82.45 L 1510.69 84.78 L 1516.58 86.47 L 1519.15 87.25 L 1527.61 89.93 L 1533.69 91.91 L 1536.07 92.72 L 1544.53 95.94 L 1548.03 97.34 L 1552.98 99.42 L 1560.48 102.77 L 1561.44 103.23" clip-path="url(#p7850dd5fec)" style="fill: none; stroke: #000000; stroke-opacity: 0.5"/><path d="M 1053.96 61.04 L 1062.42 61.08 L 1070.87 61.12 L 1079.33 61.16 L 1087.79 61.2 L 1096.25 61.24 L 1104.71 61.28 L 1113.16 61.31 L 1121.62 61.35 L 1130.08 61.39 L 1138.54 61.43 L 1147 61.47 L 1155.45 61.5 L 1163.91 61.54 L 1172.37 61.58 L 1180.83 61.62 L 1189.29 61.65 L 1197.75 61.69 L 1206.2 61.73 L 1214.66 61.76 L 1223.12 61.8 L 1231.58 61.84 L 1240.04 61.88 L 1248.49 61.91 L 1256.95 61.95 L 1265.41 61.99 L 1273.87 62.02 L 1282.33 62.06 L 1290.78 62.09 L 1299.24 62.13 L 1307.7 62.17 L 1316.16 62.2 L 1324.62 62.24 L 1333.07 62.27 L 1341.53 62.31 L 1349.99 62.34 L 1358.45 62.38 L 1366.91 62.41 L 1375.36 62.45 L 1383.82 62.49 L 1392.28 62.52 L 1400.74 62.56 L 1409.2 62.58 L 1417.65 62.62 L 1426.11 62.68 L 1434.57 62.93 L 1443.03 63.56 L 1451.49 64.39 L 1454.79 64.74 L 1459.95 65.33 L 1468.4 66.57 L 1476.86 67.99 L 1485.32 69.56 L 1488.13 70.17 L 1493.78 71.49 L 1502.24 73.66 L 1509.57 75.6 L 1510.69 75.92 L 1519.15 78.5 L 1527.37 81.04 L 1527.61 81.11 L 1536.07 84.02 L 1542.77 86.47 L 1544.53 87.14 L 1552.98 90.58 L 1556.07 91.91 L 1561.44 94.32" clip-path="url(#p7850dd5fec)" style="fill: none; stroke: #000000; stroke-opacity: 0.5"/><path d="M 1116.56 53.87 L 1121.62 53.89 L 1130.08 53.93 L 1138.54 53.97 L 1147 54.01 L 1155.45 54.05 L 1163.91 54.09 L 1172.37 54.13 L 1180.83 54.17 L 1189.29 54.21 L 1197.75 54.25 L 1206.2 54.29 L 1214.66 54.33 L 1223.12 54.37 L 1231.58 54.41 L 1240.04 54.45 L 1248.49 54.49 L 1256.95 54.52 L 1265.41 54.56 L 1273.87 54.6 L 1282.33 54.64 L 1290.78 54.68 L 1299.24 54.72 L 1307.7 54.75 L 1316.16 54.79 L 1324.62 54.83 L 1333.07 54.87 L 1341.53 54.9 L 1349.99 54.94 L 1358.45 54.98 L 1366.91 55.02 L 1375.36 55.05 L 1383.82 55.09 L 1392.28 55.13 L 1400.74 55.17 L 1409.2 55.2 L 1417.65 55.22 L 1426.11 55.27 L 1434.57 55.51 L 1443.03 56.16 L 1451.49 56.99 L 1459.95 57.9 L 1468.4 59.06 L 1469.89 59.3 L 1476.86 60.51 L 1485.32 62.11 L 1493.78 63.97 L 1496.93 64.74 L 1502.24 66.12 L 1510.69 68.43 L 1516.64 70.17 L 1519.15 70.95 L 1527.61 73.7 L 1533.34 75.6 L 1536.07 76.55 L 1544.53 79.71 L 1547.93 81.04 L 1552.98 83.1 L 1560.96 86.47 L 1561.44 86.68" clip-path="url(#p7850dd5fec)" style="fill: none; stroke: #000000; stroke-opacity: 0.5"/><path d="M 1476.77 53.87 L 1476.86 53.88 L 1485.32 55.51 L 1493.78 57.39 L 1501.65 59.3 L 1502.24 59.45 L 1510.69 61.82 L 1519.15 64.34 L 1520.37 64.74 L 1527.61 67.16 L 1536.07 70 L 1536.53 70.17 L 1544.53 73.21 L 1550.68 75.6 L 1552.98 76.54 L 1561.44 80.12" clip-path="url(#p7850dd5fec)" style="fill: none; stroke: #000000; stroke-opacity: 0.5"/><path d="M 1503.46 53.87 L 1510.69 55.9 L 1519.15 58.48 L 1521.68 59.3 L 1527.61 61.32 L 1536.07 64.21 L 1537.51 64.74 L 1544.53 67.4 L 1551.63 70.17 L 1552.98 70.72 L 1561.44 74.29" clip-path="url(#p7850dd5fec)" style="fill: none; stroke: #000000; stroke-opacity: 0.5"/><path d="M 1521.34 53.87 L 1527.61 56.03 L 1536.07 58.95 L 1537.03 59.3 L 1544.53 62.16 L 1551.14 64.74 L 1552.98 65.48 L 1561.44 69.01" clip-path="url(#p7850dd5fec)" style="fill: none; stroke: #000000; stroke-opacity: 0.5"/><path d="M 1535.33 53.87 L 1536.07 54.13 L 1544.53 57.36 L 1549.5 59.3 L 1552.98 60.71 L 1561.44 64.18" clip-path="url(#p7850dd5fec)" style="fill: none; stroke: #000000; stroke-opacity: 0.5"/><path d="M 1546.97 53.87 L 1552.98 56.31 L 1560.37 59.3 L 1561.44 59.75" clip-path="url(#p7850dd5fec)" style="fill: none; stroke: #000000; stroke-opacity: 0.5"/><path d="M 1557.11 53.87 L 1561.44 55.68" clip-path="url(#p7850dd5fec)" style="fill: none; stroke: #000000; stroke-opacity: 0.5"/><path clip-path="url(#p7850dd5fec)" style="fill: none; stroke: #000000; stroke-opacity: 0.5"/></g><g id="line2d_55"><path d="M 1053.96 825.5 L 1053.96 43" clip-path="url(#p7850dd5fec)" style="fill: none; stroke-dasharray: 8.88,3.84; stroke-dashoffset: 0; stroke: #b4b9ee; stroke-opacity: 0.12; stroke-width: 2.4"/></g><g id="line2d_56"><path d="M 1138.54 825.5 L 1138.54 43" clip-path="url(#p7850dd5fec)" style="fill: none; stroke-dasharray: 8.88,3.84; stroke-dashoffset: 0; stroke: #b4b9ee; stroke-opacity: 0.12; stroke-width: 2.4"/></g><g id="line2d_57"><path d="M 1223.12 825.5 L 1223.12 43" clip-path="url(#p7850dd5fec)" style="fill: none; stroke-dasharray: 8.88,3.84; stroke-dashoffset: 0; stroke: #b4b9ee; stroke-opacity: 0.12; stroke-width: 2.4"/></g><g id="line2d_58"><path d="M 1307.7 825.5 L 1307.7 43" clip-path="url(#p7850dd5fec)" style="fill: none; stroke-dasharray: 8.88,3.84; stroke-dashoffset: 0; stroke: #b4b9ee; stroke-opacity: 0.12; stroke-width: 2.4"/></g><g id="line2d_59"><path d="M 1392.28 825.5 L 1392.28 43" clip-path="url(#p7850dd5fec)" style="fill: none; stroke-dasharray: 8.88,3.84; stroke-dashoffset: 0; stroke: #b4b9ee; stroke-opacity: 0.12; stroke-width: 2.4"/></g><g id="line2d_60"><path d="M 1476.86 825.5 L 1476.86 43" clip-path="url(#p7850dd5fec)" style="fill: none; stroke-dasharray: 8.88,3.84; stroke-dashoffset: 0; stroke: #b4b9ee; stroke-opacity: 0.12; stroke-width: 2.4"/></g><g id="line2d_61"><path d="M 1561.44 825.5 L 1561.44 43" clip-path="url(#p7850dd5fec)" style="fill: none; stroke-dasharray: 8.88,3.84; stroke-dashoffset: 0; stroke: #b4b9ee; stroke-opacity: 0.12; stroke-width: 2.4"/></g><g id="line2d_62"><path d="M 1045.5 814.63 L 1569.9 814.63" clip-path="url(#p7850dd5fec)" style="fill: none; stroke-dasharray: 8.88,3.84; stroke-dashoffset: 0; stroke: #b4b9ee; stroke-opacity: 0.12; stroke-width: 2.4"/></g><g id="line2d_63"><path d="M 1045.5 705.95 L 1569.9 705.95" clip-path="url(#p7850dd5fec)" style="fill: none; stroke-dasharray: 8.88,3.84; stroke-dashoffset: 0; stroke: #b4b9ee; stroke-opacity: 0.12; stroke-width: 2.4"/></g><g id="line2d_64"><path d="M 1045.5 597.27 L 1569.9 597.27" clip-path="url(#p7850dd5fec)" style="fill: none; stroke-dasharray: 8.88,3.84; stroke-dashoffset: 0; stroke: #b4b9ee; stroke-opacity: 0.12; stroke-width: 2.4"/></g><g id="line2d_65"><path d="M 1045.5 488.59 L 1569.9 488.59" clip-path="url(#p7850dd5fec)" style="fill: none; stroke-dasharray: 8.88,3.84; stroke-dashoffset: 0; stroke: #b4b9ee; stroke-opacity: 0.12; stroke-width: 2.4"/></g><g id="line2d_66"><path d="M 1045.5 379.91 L 1569.9 379.91" clip-path="url(#p7850dd5fec)" style="fill: none; stroke-dasharray: 8.88,3.84; stroke-dashoffset: 0; stroke: #b4b9ee; stroke-opacity: 0.12; stroke-width: 2.4"/></g><g id="line2d_67"><path d="M 1045.5 271.23 L 1569.9 271.23" clip-path="url(#p7850dd5fec)" style="fill: none; stroke-dasharray: 8.88,3.84; stroke-dashoffset: 0; stroke: #b4b9ee; stroke-opacity: 0.12; stroke-width: 2.4"/></g><g id="line2d_68"><path d="M 1045.5 162.55 L 1569.9 162.55" clip-path="url(#p7850dd5fec)" style="fill: none; stroke-dasharray: 8.88,3.84; stroke-dashoffset: 0; stroke: #b4b9ee; stroke-opacity: 0.12; stroke-width: 2.4"/></g><g id="line2d_69"><path d="M 1045.5 53.87 L 1569.9 53.87" clip-path="url(#p7850dd5fec)" style="fill: none; stroke-dasharray: 8.88,3.84; stroke-dashoffset: 0; stroke: #b4b9ee; stroke-opacity: 0.12; stroke-width: 2.4"/></g><g id="patch_7"><path d="M 1045.5 825.5 L 1045.5 43" style="fill: none; stroke: #cccccc; stroke-width: 3.1; stroke-linejoin: miter; stroke-linecap: square"/></g><g id="patch_8"><path d="M 1569.9 825.5 L 1569.9 43" style="fill: none; stroke: #cccccc; stroke-width: 3.1; stroke-linejoin: miter; stroke-linecap: square"/></g><g id="patch_9"><path d="M 1045.5 825.5 L 1569.9 825.5" style="fill: none; stroke: #cccccc; stroke-width: 3.1; stroke-linejoin: miter; stroke-linecap: square"/></g><g id="patch_10"><path d="M 1045.5 43 L 1569.9 43" style="fill: none; stroke: #cccccc; stroke-width: 3.1; stroke-linejoin: miter; stroke-linecap: square"/></g><g id="line2d_70"><path d="M 1053.96 247.99 L 1080.67 248.04 L 1107.38 248.09 L 1134.09 248.15 L 1160.8 248.47 L 1187.51 248.85 L 1214.22 249.23 L 1240.93 250 L 1267.64 250.98 L 1294.35 251.95 L 1321.05 252.71 L 1347.76 253.26 L 1374.47 253.8 L 1401.18 254.36 L 1427.89 254.96 L 1431.32 255.7 L 1454.6 262.93 L 1474.94 271.23 L 1481.31 274.7 L 1491.13 286.75 L 1501.31 302.28 L 1508.02 314.3 L 1509.05 317.81 L 1513.44 333.33 L 1518.08 348.86 L 1523.05 364.38 L 1528.38 379.91 L 1534.07 395.44 L 1534.73 397.2 L 1536.92 410.96 L 1539.81 426.49 L 1543.18 442.01 L 1547.07 457.54 L 1551.48 473.06 L 1556.42 488.59 L 1561.44 502.97" style="fill: none; stroke: #fa8714; stroke-width: 4.9; stroke-linecap: square"/><defs><path id="m231927e173" d="M 0 -8.25 L -1.85 -2.55 L -7.85 -2.55 L -3 0.97 L -4.85 6.67 L -0 3.15 L 4.85 6.67 L 3 0.97 L 7.85 -2.55 L 1.85 -2.55 z" style="stroke: #fa8714; stroke-width: 1.2; stroke-linejoin: bevel"/></defs><g><use href="#m231927e173" x="1053.96" y="247.99" style="fill: #fa8714; stroke: #fa8714; stroke-width: 1.2; stroke-linejoin: bevel"/><use href="#m231927e173" x="1080.67" y="248.04" style="fill: #fa8714; stroke: #fa8714; stroke-width: 1.2; stroke-linejoin: bevel"/><use href="#m231927e173" x="1107.38" y="248.09" style="fill: #fa8714; stroke: #fa8714; stroke-width: 1.2; stroke-linejoin: bevel"/><use href="#m231927e173" x="1134.09" y="248.15" style="fill: #fa8714; stroke: #fa8714; stroke-width: 1.2; stroke-linejoin: bevel"/><use href="#m231927e173" x="1160.8" y="248.47" style="fill: #fa8714; stroke: #fa8714; stroke-width: 1.2; stroke-linejoin: bevel"/><use href="#m231927e173" x="1187.51" y="248.85" style="fill: #fa8714; stroke: #fa8714; stroke-width: 1.2; stroke-linejoin: bevel"/><use href="#m231927e173" x="1214.22" y="249.23" style="fill: #fa8714; stroke: #fa8714; stroke-width: 1.2; stroke-linejoin: bevel"/><use href="#m231927e173" x="1240.93" y="250" style="fill: #fa8714; stroke: #fa8714; stroke-width: 1.2; stroke-linejoin: bevel"/><use href="#m231927e173" x="1267.64" y="250.98" style="fill: #fa8714; stroke: #fa8714; stroke-width: 1.2; stroke-linejoin: bevel"/><use href="#m231927e173" x="1294.35" y="251.95" style="fill: #fa8714; stroke: #fa8714; stroke-width: 1.2; stroke-linejoin: bevel"/><use href="#m231927e173" x="1321.05" y="252.71" style="fill: #fa8714; stroke: #fa8714; stroke-width: 1.2; stroke-linejoin: bevel"/><use href="#m231927e173" x="1347.76" y="253.26" style="fill: #fa8714; stroke: #fa8714; stroke-width: 1.2; stroke-linejoin: bevel"/><use href="#m231927e173" x="1374.47" y="253.8" style="fill: #fa8714; stroke: #fa8714; stroke-width: 1.2; stroke-linejoin: bevel"/><use href="#m231927e173" x="1401.18" y="254.36" style="fill: #fa8714; stroke: #fa8714; stroke-width: 1.2; stroke-linejoin: bevel"/><use href="#m231927e173" x="1427.89" y="254.96" style="fill: #fa8714; stroke: #fa8714; stroke-width: 1.2; stroke-linejoin: bevel"/><use href="#m231927e173" x="1431.32" y="255.7" style="fill: #fa8714; stroke: #fa8714; stroke-width: 1.2; stroke-linejoin: bevel"/><use href="#m231927e173" x="1454.6" y="262.93" style="fill: #fa8714; stroke: #fa8714; stroke-width: 1.2; stroke-linejoin: bevel"/><use href="#m231927e173" x="1474.94" y="271.23" style="fill: #fa8714; stroke: #fa8714; stroke-width: 1.2; stroke-linejoin: bevel"/><use href="#m231927e173" x="1481.31" y="274.7" style="fill: #fa8714; stroke: #fa8714; stroke-width: 1.2; stroke-linejoin: bevel"/><use href="#m231927e173" x="1491.13" y="286.75" style="fill: #fa8714; stroke: #fa8714; stroke-width: 1.2; stroke-linejoin: bevel"/><use href="#m231927e173" x="1501.31" y="302.28" style="fill: #fa8714; stroke: #fa8714; stroke-width: 1.2; stroke-linejoin: bevel"/><use href="#m231927e173" x="1508.02" y="314.3" style="fill: #fa8714; stroke: #fa8714; stroke-width: 1.2; stroke-linejoin: bevel"/><use href="#m231927e173" x="1509.05" y="317.81" style="fill: #fa8714; stroke: #fa8714; stroke-width: 1.2; stroke-linejoin: bevel"/><use href="#m231927e173" x="1513.44" y="333.33" style="fill: #fa8714; stroke: #fa8714; stroke-width: 1.2; stroke-linejoin: bevel"/><use href="#m231927e173" x="1518.08" y="348.86" style="fill: #fa8714; stroke: #fa8714; stroke-width: 1.2; stroke-linejoin: bevel"/><use href="#m231927e173" x="1523.05" y="364.38" style="fill: #fa8714; stroke: #fa8714; stroke-width: 1.2; stroke-linejoin: bevel"/><use href="#m231927e173" x="1528.38" y="379.91" style="fill: #fa8714; stroke: #fa8714; stroke-width: 1.2; stroke-linejoin: bevel"/><use href="#m231927e173" x="1534.07" y="395.44" style="fill: #fa8714; stroke: #fa8714; stroke-width: 1.2; stroke-linejoin: bevel"/><use href="#m231927e173" x="1534.73" y="397.2" style="fill: #fa8714; stroke: #fa8714; stroke-width: 1.2; stroke-linejoin: bevel"/><use href="#m231927e173" x="1536.92" y="410.96" style="fill: #fa8714; stroke: #fa8714; stroke-width: 1.2; stroke-linejoin: bevel"/><use href="#m231927e173" x="1539.81" y="426.49" style="fill: #fa8714; stroke: #fa8714; stroke-width: 1.2; stroke-linejoin: bevel"/><use href="#m231927e173" x="1543.18" y="442.01" style="fill: #fa8714; stroke: #fa8714; stroke-width: 1.2; stroke-linejoin: bevel"/><use href="#m231927e173" x="1547.07" y="457.54" style="fill: #fa8714; stroke: #fa8714; stroke-width: 1.2; stroke-linejoin: bevel"/><use href="#m231927e173" x="1551.48" y="473.06" style="fill: #fa8714; stroke: #fa8714; stroke-width: 1.2; stroke-linejoin: bevel"/><use href="#m231927e173" x="1556.42" y="488.59" style="fill: #fa8714; stroke: #fa8714; stroke-width: 1.2; stroke-linejoin: bevel"/><use href="#m231927e173" x="1561.44" y="502.97" style="fill: #fa8714; stroke: #fa8714; stroke-width: 1.2; stroke-linejoin: bevel"/></g></g><g id="line2d_71"><path d="M 1053.96 814.63 L 1138.54 814.63 L 1223.12 814.63 L 1307.7 705.95 L 1392.28 705.95 L 1476.86 705.95 L 1476.86 542.93 L 1476.86 488.59 L 1476.86 434.25 L 1476.86 379.91 L 1476.86 325.57 L 1476.86 271.23 L 1561.44 325.57 L 1561.44 271.23 L 1561.44 216.89 L 1561.44 162.55 L 1561.44 108.21 L 1561.44 53.87" style="fill: none; stroke: #c44e52; stroke-width: 4.2; stroke-linecap: square"/><defs><path id="ma20794b4e7" d="M 0 4.3 C 1.14 4.3 2.23 3.85 3.04 3.04 C 3.85 2.23 4.3 1.14 4.3 0 C 4.3 -1.14 3.85 -2.23 3.04 -3.04 C 2.23 -3.85 1.14 -4.3 0 -4.3 C -1.14 -4.3 -2.23 -3.85 -3.04 -3.04 C -3.85 -2.23 -4.3 -1.14 -4.3 0 C -4.3 1.14 -3.85 2.23 -3.04 3.04 C -2.23 3.85 -1.14 4.3 0 4.3 z" style="stroke: #ff0000; stroke-width: 2.4"/></defs><g><use href="#ma20794b4e7" x="1053.96" y="814.63" style="fill: #ffff00; stroke: #ff0000; stroke-width: 2.4"/><use href="#ma20794b4e7" x="1138.54" y="814.63" style="fill: #ffff00; stroke: #ff0000; stroke-width: 2.4"/><use href="#ma20794b4e7" x="1223.12" y="814.63" style="fill: #ffff00; stroke: #ff0000; stroke-width: 2.4"/><use href="#ma20794b4e7" x="1307.7" y="705.95" style="fill: #ffff00; stroke: #ff0000; stroke-width: 2.4"/><use href="#ma20794b4e7" x="1392.28" y="705.95" style="fill: #ffff00; stroke: #ff0000; stroke-width: 2.4"/><use href="#ma20794b4e7" x="1476.86" y="705.95" style="fill: #ffff00; stroke: #ff0000; stroke-width: 2.4"/><use href="#ma20794b4e7" x="1476.86" y="542.93" style="fill: #ffff00; stroke: #ff0000; stroke-width: 2.4"/><use href="#ma20794b4e7" x="1476.86" y="488.59" style="fill: #ffff00; stroke: #ff0000; stroke-width: 2.4"/><use href="#ma20794b4e7" x="1476.86" y="434.25" style="fill: #ffff00; stroke: #ff0000; stroke-width: 2.4"/><use href="#ma20794b4e7" x="1476.86" y="379.91" style="fill: #ffff00; stroke: #ff0000; stroke-width: 2.4"/><use href="#ma20794b4e7" x="1476.86" y="325.57" style="fill: #ffff00; stroke: #ff0000; stroke-width: 2.4"/><use href="#ma20794b4e7" x="1476.86" y="271.23" style="fill: #ffff00; stroke: #ff0000; stroke-width: 2.4"/><use href="#ma20794b4e7" x="1561.44" y="325.57" style="fill: #ffff00; stroke: #ff0000; stroke-width: 2.4"/><use href="#ma20794b4e7" x="1561.44" y="271.23" style="fill: #ffff00; stroke: #ff0000; stroke-width: 2.4"/><use href="#ma20794b4e7" x="1561.44" y="216.89" style="fill: #ffff00; stroke: #ff0000; stroke-width: 2.4"/><use href="#ma20794b4e7" x="1561.44" y="162.55" style="fill: #ffff00; stroke: #ff0000; stroke-width: 2.4"/><use href="#ma20794b4e7" x="1561.44" y="108.21" style="fill: #ffff00; stroke: #ff0000; stroke-width: 2.4"/><use href="#ma20794b4e7" x="1561.44" y="53.87" style="fill: #ffff00; stroke: #ff0000; stroke-width: 2.4"/></g></g><g id="line2d_72"><path d="M 1050.96 803.03 L 1053.96 809.33 L 1056.96 803.03" style="fill: none; stroke: #3e5478; stroke-width: 1.7; stroke-linejoin: miter"/></g><g id="line2d_73"><path d="M 1135.54 803.03 L 1138.54 809.33 L 1141.54 803.03" style="fill: none; stroke: #3e5478; stroke-width: 1.7; stroke-linejoin: miter"/></g><g id="line2d_74"><path d="M 1220.12 803.03 L 1223.12 809.33 L 1226.12 803.03" style="fill: none; stroke: #3e5478; stroke-width: 1.7; stroke-linejoin: miter"/></g><g id="line2d_75"><path d="M 1296.5 702.85 L 1302.4 705.95 L 1296.5 709.05" style="fill: none; stroke: #3e5478; stroke-width: 1.7; stroke-linejoin: miter"/></g><g id="line2d_76"><path d="M 1381.08 702.85 L 1386.98 705.95 L 1381.08 709.05" style="fill: none; stroke: #3e5478; stroke-width: 1.7; stroke-linejoin: miter"/></g><g id="line2d_77"><path d="M 1465.66 702.85 L 1471.56 705.95 L 1465.66 709.05" style="fill: none; stroke: #3e5478; stroke-width: 1.7; stroke-linejoin: miter"/></g><g id="line2d_78"><path d="M 1465.66 539.83 L 1471.56 542.93 L 1465.66 546.03" style="fill: none; stroke: #3e5478; stroke-width: 1.7; stroke-linejoin: miter"/></g><g id="line2d_79"><path d="M 1465.66 485.49 L 1471.56 488.59 L 1465.66 491.69" style="fill: none; stroke: #3e5478; stroke-width: 1.7; stroke-linejoin: miter"/></g><g id="line2d_80"><path d="M 1465.66 431.15 L 1471.56 434.25 L 1465.66 437.35" style="fill: none; stroke: #3e5478; stroke-width: 1.7; stroke-linejoin: miter"/></g><g id="line2d_81"><path d="M 1465.66 376.81 L 1471.56 379.91 L 1465.66 383.01" style="fill: none; stroke: #3e5478; stroke-width: 1.7; stroke-linejoin: miter"/></g><g id="line2d_82"><path d="M 1465.66 322.47 L 1471.56 325.57 L 1465.66 328.67" style="fill: none; stroke: #3e5478; stroke-width: 1.7; stroke-linejoin: miter"/></g><g id="line2d_83"><path d="M 1465.66 268.13 L 1471.56 271.23 L 1465.66 274.33" style="fill: none; stroke: #3e5478; stroke-width: 1.7; stroke-linejoin: miter"/></g><g id="line2d_84"><path d="M 1550.24 322.47 L 1556.14 325.57 L 1550.24 328.67" style="fill: none; stroke: #3e5478; stroke-width: 1.7; stroke-linejoin: miter"/></g><g id="line2d_85"><path d="M 1550.24 268.13 L 1556.14 271.23 L 1550.24 274.33" style="fill: none; stroke: #3e5478; stroke-width: 1.7; stroke-linejoin: miter"/></g><g id="line2d_86"><path d="M 1550.24 213.79 L 1556.14 216.89 L 1550.24 219.99" style="fill: none; stroke: #3e5478; stroke-width: 1.7; stroke-linejoin: miter"/></g><g id="line2d_87"><path d="M 1550.24 159.45 L 1556.14 162.55 L 1550.24 165.65" style="fill: none; stroke: #3e5478; stroke-width: 1.7; stroke-linejoin: miter"/></g><g id="line2d_88"><path d="M 1550.24 105.11 L 1556.14 108.21 L 1550.24 111.31" style="fill: none; stroke: #3e5478; stroke-width: 1.7; stroke-linejoin: miter"/></g><g id="line2d_89"><path d="M 1550.24 50.77 L 1556.14 53.87 L 1550.24 56.97" style="fill: none; stroke: #3e5478; stroke-width: 1.7; stroke-linejoin: miter"/></g><g id="text_42"><g id="patch_11"><path d="M 1026.04 803.1 L 1082.47 803.1 Q 1087.88 803.1 1087.88 797.69 L 1087.88 783.37 Q 1087.88 777.97 1082.47 777.97 L 1026.04 777.97 Q 1020.64 777.97 1020.64 783.37 L 1020.64 797.69 Q 1020.64 803.1 1026.04 803.1 z" style="fill: #dee1e7; fill-opacity: 0.93; stroke: #3e5478; stroke-width: 2.05; stroke-linejoin: miter"/></g><text style="font-size: 14.8px; font-family: 'DejaVu Sans', 'Liberation Sans', sans-serif; text-anchor: middle; fill: #222222" x="1054.26" y="794.62" transform="rotate(-0 1054.26 794.62)">100.0%</text></g><g id="text_43"><g id="patch_12"><path d="M 1115.33 803.1 L 1162.35 803.1 Q 1167.75 803.1 1167.75 797.69 L 1167.75 783.37 Q 1167.75 777.97 1162.35 777.97 L 1115.33 777.97 Q 1109.93 777.97 1109.93 783.37 L 1109.93 797.69 Q 1109.93 803.1 1115.33 803.1 z" style="fill: #dee1e7; fill-opacity: 0.93; stroke: #3e5478; stroke-width: 2.05; stroke-linejoin: miter"/></g><text style="font-size: 14.8px; font-family: 'DejaVu Sans', 'Liberation Sans', sans-serif; text-anchor: middle; fill: #222222" x="1138.84" y="794.62" transform="rotate(-0 1138.84 794.62)">49.4%</text></g><g id="text_44"><g id="patch_13"><path d="M 1199.91 803.1 L 1246.93 803.1 Q 1252.33 803.1 1252.33 797.69 L 1252.33 783.37 Q 1252.33 777.97 1246.93 777.97 L 1199.91 777.97 Q 1194.51 777.97 1194.51 783.37 L 1194.51 797.69 Q 1194.51 803.1 1199.91 803.1 z" style="fill: #dee1e7; fill-opacity: 0.93; stroke: #3e5478; stroke-width: 2.05; stroke-linejoin: miter"/></g><text style="font-size: 14.8px; font-family: 'DejaVu Sans', 'Liberation Sans', sans-serif; text-anchor: middle; fill: #222222" x="1223.42" y="794.62" transform="rotate(-0 1223.42 794.62)">38.1%</text></g><g id="text_45"><g id="patch_14"><path d="M 1243.98 718.52 L 1291 718.52 Q 1296.4 718.52 1296.4 713.11 L 1296.4 698.79 Q 1296.4 693.39 1291 693.39 L 1243.98 693.39 Q 1238.58 693.39 1238.58 698.79 L 1238.58 713.11 Q 1238.58 718.52 1243.98 718.52 z" style="fill: #dee1e7; fill-opacity: 0.93; stroke: #3e5478; stroke-width: 2.05; stroke-linejoin: miter"/></g><text style="font-size: 14.8px; font-family: 'DejaVu Sans', 'Liberation Sans', sans-serif; text-anchor: end; fill: #222222" x="1291" y="710.04" transform="rotate(-0 1291 710.04)">29.7%</text></g><g id="text_46"><g id="patch_15"><path d="M 1328.57 718.52 L 1375.58 718.52 Q 1380.98 718.52 1380.98 713.11 L 1380.98 698.79 Q 1380.98 693.39 1375.58 693.39 L 1328.57 693.39 Q 1323.16 693.39 1323.16 698.79 L 1323.16 713.11 Q 1323.16 718.52 1328.57 718.52 z" style="fill: #dee1e7; fill-opacity: 0.93; stroke: #3e5478; stroke-width: 2.05; stroke-linejoin: miter"/></g><text style="font-size: 14.8px; font-family: 'DejaVu Sans', 'Liberation Sans', sans-serif; text-anchor: end; fill: #222222" x="1375.58" y="710.04" transform="rotate(-0 1375.58 710.04)">25.4%</text></g><g id="text_47"><g id="patch_16"><path d="M 1413.15 718.52 L 1460.16 718.52 Q 1465.56 718.52 1465.56 713.11 L 1465.56 698.79 Q 1465.56 693.39 1460.16 693.39 L 1413.15 693.39 Q 1407.74 693.39 1407.74 698.79 L 1407.74 713.11 Q 1407.74 718.52 1413.15 718.52 z" style="fill: #dee1e7; fill-opacity: 0.93; stroke: #3e5478; stroke-width: 2.05; stroke-linejoin: miter"/></g><text style="font-size: 14.8px; font-family: 'DejaVu Sans', 'Liberation Sans', sans-serif; text-anchor: end; fill: #222222" x="1460.16" y="710.04" transform="rotate(-0 1460.16 710.04)">20.5%</text></g><g id="text_48"><g id="patch_17"><path d="M 1413.15 555.49 L 1460.16 555.49 Q 1465.56 555.49 1465.56 550.09 L 1465.56 535.77 Q 1465.56 530.37 1460.16 530.37 L 1413.15 530.37 Q 1407.74 530.37 1407.74 535.77 L 1407.74 550.09 Q 1407.74 555.49 1413.15 555.49 z" style="fill: #dee1e7; fill-opacity: 0.93; stroke: #3e5478; stroke-width: 2.05; stroke-linejoin: miter"/></g><text style="font-size: 14.8px; font-family: 'DejaVu Sans', 'Liberation Sans', sans-serif; text-anchor: end; fill: #222222" x="1460.16" y="547.01" transform="rotate(-0 1460.16 547.01)">17.1%</text></g><g id="text_49"><g id="patch_18"><path d="M 1413.15 501.15 L 1460.16 501.15 Q 1465.56 501.15 1465.56 495.75 L 1465.56 481.43 Q 1465.56 476.03 1460.16 476.03 L 1413.15 476.03 Q 1407.74 476.03 1407.74 481.43 L 1407.74 495.75 Q 1407.74 501.15 1413.15 501.15 z" style="fill: #dee1e7; fill-opacity: 0.93; stroke: #3e5478; stroke-width: 2.05; stroke-linejoin: miter"/></g><text style="font-size: 14.8px; font-family: 'DejaVu Sans', 'Liberation Sans', sans-serif; text-anchor: end; fill: #222222" x="1460.16" y="492.67" transform="rotate(-0 1460.16 492.67)">15.9%</text></g><g id="text_50"><g id="patch_19"><path d="M 1413.15 446.81 L 1460.16 446.81 Q 1465.56 446.81 1465.56 441.41 L 1465.56 427.09 Q 1465.56 421.69 1460.16 421.69 L 1413.15 421.69 Q 1407.74 421.69 1407.74 427.09 L 1407.74 441.41 Q 1407.74 446.81 1413.15 446.81 z" style="fill: #dee1e7; fill-opacity: 0.93; stroke: #3e5478; stroke-width: 2.05; stroke-linejoin: miter"/></g><text style="font-size: 14.8px; font-family: 'DejaVu Sans', 'Liberation Sans', sans-serif; text-anchor: end; fill: #222222" x="1460.16" y="438.33" transform="rotate(-0 1460.16 438.33)">14.8%</text></g><g id="text_51"><g id="patch_20"><path d="M 1413.15 392.47 L 1460.16 392.47 Q 1465.56 392.47 1465.56 387.07 L 1465.56 372.75 Q 1465.56 367.35 1460.16 367.35 L 1413.15 367.35 Q 1407.74 367.35 1407.74 372.75 L 1407.74 387.07 Q 1407.74 392.47 1413.15 392.47 z" style="fill: #dee1e7; fill-opacity: 0.93; stroke: #3e5478; stroke-width: 2.05; stroke-linejoin: miter"/></g><text style="font-size: 14.8px; font-family: 'DejaVu Sans', 'Liberation Sans', sans-serif; text-anchor: end; fill: #222222" x="1460.16" y="383.99" transform="rotate(-0 1460.16 383.99)">13.6%</text></g><g id="text_52"><g id="patch_21"><path d="M 1413.15 338.13 L 1460.16 338.13 Q 1465.56 338.13 1465.56 332.73 L 1465.56 318.41 Q 1465.56 313.01 1460.16 313.01 L 1413.15 313.01 Q 1407.74 313.01 1407.74 318.41 L 1407.74 332.73 Q 1407.74 338.13 1413.15 338.13 z" style="fill: #dee1e7; fill-opacity: 0.93; stroke: #3e5478; stroke-width: 2.05; stroke-linejoin: miter"/></g><text style="font-size: 14.8px; font-family: 'DejaVu Sans', 'Liberation Sans', sans-serif; text-anchor: end; fill: #222222" x="1460.16" y="329.65" transform="rotate(-0 1460.16 329.65)">12.5%</text></g><g id="text_53"><g id="patch_22"><path d="M 1413.15 283.79 L 1460.16 283.79 Q 1465.56 283.79 1465.56 278.39 L 1465.56 264.07 Q 1465.56 258.67 1460.16 258.67 L 1413.15 258.67 Q 1407.74 258.67 1407.74 264.07 L 1407.74 278.39 Q 1407.74 283.79 1413.15 283.79 z" style="fill: #dee1e7; fill-opacity: 0.93; stroke: #3e5478; stroke-width: 2.05; stroke-linejoin: miter"/></g><text style="font-size: 14.8px; font-family: 'DejaVu Sans', 'Liberation Sans', sans-serif; text-anchor: end; fill: #222222" x="1460.16" y="275.31" transform="rotate(-0 1460.16 275.31)">11.4%</text></g><g id="text_54"><g id="patch_23"><path d="M 1507.14 338.13 L 1544.74 338.13 Q 1550.14 338.13 1550.14 332.73 L 1550.14 318.41 Q 1550.14 313.01 1544.74 313.01 L 1507.14 313.01 Q 1501.74 313.01 1501.74 318.41 L 1501.74 332.73 Q 1501.74 338.13 1507.14 338.13 z" style="fill: #dee1e7; fill-opacity: 0.93; stroke: #3e5478; stroke-width: 2.05; stroke-linejoin: miter"/></g><text style="font-size: 14.8px; font-family: 'DejaVu Sans', 'Liberation Sans', sans-serif; text-anchor: end; fill: #222222" x="1544.74" y="329.65" transform="rotate(-0 1544.74 329.65)">9.6%</text></g><g id="text_55"><g id="patch_24"><path d="M 1507.14 283.79 L 1544.74 283.79 Q 1550.14 283.79 1550.14 278.39 L 1550.14 264.07 Q 1550.14 258.67 1544.74 258.67 L 1507.14 258.67 Q 1501.74 258.67 1501.74 264.07 L 1501.74 278.39 Q 1501.74 283.79 1507.14 283.79 z" style="fill: #dee1e7; fill-opacity: 0.93; stroke: #3e5478; stroke-width: 2.05; stroke-linejoin: miter"/></g><text style="font-size: 14.8px; font-family: 'DejaVu Sans', 'Liberation Sans', sans-serif; text-anchor: end; fill: #222222" x="1544.74" y="275.31" transform="rotate(-0 1544.74 275.31)">8.7%</text></g><g id="text_56"><g id="patch_25"><path d="M 1507.14 229.45 L 1544.74 229.45 Q 1550.14 229.45 1550.14 224.05 L 1550.14 209.73 Q 1550.14 204.33 1544.74 204.33 L 1507.14 204.33 Q 1501.74 204.33 1501.74 209.73 L 1501.74 224.05 Q 1501.74 229.45 1507.14 229.45 z" style="fill: #dee1e7; fill-opacity: 0.93; stroke: #3e5478; stroke-width: 2.05; stroke-linejoin: miter"/></g><text style="font-size: 14.8px; font-family: 'DejaVu Sans', 'Liberation Sans', sans-serif; text-anchor: end; fill: #222222" x="1544.74" y="220.97" transform="rotate(-0 1544.74 220.97)">7.9%</text></g><g id="text_57"><g id="patch_26"><path d="M 1507.14 175.11 L 1544.74 175.11 Q 1550.14 175.11 1550.14 169.71 L 1550.14 155.39 Q 1550.14 149.98 1544.74 149.98 L 1507.14 149.98 Q 1501.74 149.98 1501.74 155.39 L 1501.74 169.71 Q 1501.74 175.11 1507.14 175.11 z" style="fill: #dee1e7; fill-opacity: 0.93; stroke: #3e5478; stroke-width: 2.05; stroke-linejoin: miter"/></g><text style="font-size: 14.8px; font-family: 'DejaVu Sans', 'Liberation Sans', sans-serif; text-anchor: end; fill: #222222" x="1544.74" y="166.63" transform="rotate(-0 1544.74 166.63)">7.0%</text></g><g id="text_58"><g id="patch_27"><path d="M 1507.14 120.77 L 1544.74 120.77 Q 1550.14 120.77 1550.14 115.37 L 1550.14 101.05 Q 1550.14 95.64 1544.74 95.64 L 1507.14 95.64 Q 1501.74 95.64 1501.74 101.05 L 1501.74 115.37 Q 1501.74 120.77 1507.14 120.77 z" style="fill: #dee1e7; fill-opacity: 0.93; stroke: #3e5478; stroke-width: 2.05; stroke-linejoin: miter"/></g><text style="font-size: 14.8px; font-family: 'DejaVu Sans', 'Liberation Sans', sans-serif; text-anchor: end; fill: #222222" x="1544.74" y="112.29" transform="rotate(-0 1544.74 112.29)">6.1%</text></g><g id="text_59"><g id="patch_28"><path d="M 1507.14 66.43 L 1544.74 66.43 Q 1550.14 66.43 1550.14 61.03 L 1550.14 46.71 Q 1550.14 41.3 1544.74 41.3 L 1507.14 41.3 Q 1501.74 41.3 1501.74 46.71 L 1501.74 61.03 Q 1501.74 66.43 1507.14 66.43 z" style="fill: #dee1e7; fill-opacity: 0.93; stroke: #3e5478; stroke-width: 2.05; stroke-linejoin: miter"/></g><text style="font-size: 14.8px; font-family: 'DejaVu Sans', 'Liberation Sans', sans-serif; text-anchor: end; fill: #222222" x="1544.74" y="57.95" transform="rotate(-0 1544.74 57.95)">5.2%</text></g><g id="legend_1"><g id="patch_29"><path d="M 1058.64 143.27 L 1422.5 143.27 Q 1426.31 143.27 1426.31 139.46 L 1426.31 56.14 Q 1426.31 52.33 1422.5 52.33 L 1058.64 52.33 Q 1054.83 52.33 1054.83 56.14 L 1054.83 139.46 Q 1054.83 143.27 1058.64 143.27 z" style="fill: #ffffff; opacity: 0.8; stroke: #cccccc; stroke-width: 2.4; stroke-linejoin: miter"/></g><g id="line2d_90"><path d="M 1062.84 68.14 L 1081.89 68.14 L 1100.94 68.14" style="fill: none; stroke: #ff0000; stroke-width: 4.1; stroke-linecap: round"/><defs><path id="m5d272ef32c" d="M 0 4.8 C 1.27 4.8 2.49 4.29 3.39 3.39 C 4.29 2.49 4.8 1.27 4.8 0 C 4.8 -1.27 4.29 -2.49 3.39 -3.39 C 2.49 -4.29 1.27 -4.8 0 -4.8 C -1.27 -4.8 -2.49 -4.29 -3.39 -3.39 C -4.29 -2.49 -4.8 -1.27 -4.8 0 C -4.8 1.27 -4.29 2.49 -3.39 3.39 C -2.49 4.29 -1.27 4.8 0 4.8 z" style="stroke: #ff0000; stroke-width: 2.4"/></defs><g><use href="#m5d272ef32c" x="1081.89" y="68.14" style="fill: #ffff00; stroke: #ff0000; stroke-width: 2.4"/></g></g><g id="text_60"><text style="font-size: 19.05px; font-family: 'DejaVu Sans', 'Liberation Sans', sans-serif; text-anchor: start; fill: #262626" x="1116.75" y="74.81" transform="rotate(-0 1116.75 74.81)">Best Trade-off Curve</text></g><g id="patch_30"><path d="M 1062.84 103.06 L 1100.94 103.06 L 1100.94 89.72 L 1062.84 89.72 z" style="fill: #dee1e7; stroke: #3e5478; stroke-width: 2.6; stroke-linejoin: miter"/></g><g id="text_61"><text style="font-size: 19.05px; font-family: 'DejaVu Sans', 'Liberation Sans', sans-serif; text-anchor: start; fill: #262626" x="1116.75" y="103.06" transform="rotate(-0 1116.75 103.06)">Model Size (%)</text></g><g id="line2d_91"><path d="M 1062.84 124.64 L 1081.89 124.64 L 1100.94 124.64" style="fill: none; stroke: #fa8714; stroke-width: 4.9; stroke-linecap: round"/><g><use href="#m231927e173" x="1081.89" y="124.64" style="fill: #fa8714; stroke: #fa8714; stroke-width: 1.2; stroke-linejoin: bevel"/></g></g><g id="text_62"><text style="font-size: 19.05px; font-family: 'DejaVu Sans', 'Liberation Sans', sans-serif; text-anchor: start; fill: #262626" x="1116.75" y="131.31" transform="rotate(-0 1116.75 131.31)">Phase Transition Line (PPL=7.5)</text></g></g></g><g id="axes_3"><g id="patch_31"><path d="M 1639.9 833.2 L 1679.4 833.2 L 1679.4 35.1 L 1639.9 35.1 z" style="fill: #ffffff"/></g><g id="QuadMesh_1"><path d="M 1639.9 833.2 L 1679.4 833.2 L 1679.4 776.19 L 1639.9 776.19 L 1639.9 833.2" clip-path="url(#p20addf5e7a)" style="fill: #0000a8; fill-opacity: 0.8"/><path d="M 1639.9 776.19 L 1679.4 776.19 L 1679.4 719.19 L 1639.9 719.19 L 1639.9 776.19" clip-path="url(#p20addf5e7a)" style="fill: #0000fa; fill-opacity: 0.8"/><path d="M 1639.9 719.19 L 1679.4 719.19 L 1679.4 662.18 L 1639.9 662.18 L 1639.9 719.19" clip-path="url(#p20addf5e7a)" style="fill: #0034ff; fill-opacity: 0.8"/><path d="M 1639.9 662.18 L 1679.4 662.18 L 1679.4 605.17 L 1639.9 605.17 L 1639.9 662.18" clip-path="url(#p20addf5e7a)" style="fill: #0080ff; fill-opacity: 0.8"/><path d="M 1639.9 605.17 L 1679.4 605.17 L 1679.4 548.16 L 1639.9 548.16 L 1639.9 605.17" clip-path="url(#p20addf5e7a)" style="fill: #00c8ff; fill-opacity: 0.8"/><path d="M 1639.9 548.16 L 1679.4 548.16 L 1679.4 491.16 L 1639.9 491.16 L 1639.9 548.16" clip-path="url(#p20addf5e7a)" style="fill: #23ffd4; fill-opacity: 0.8"/><path d="M 1639.9 491.16 L 1679.4 491.16 L 1679.4 434.15 L 1639.9 434.15 L 1639.9 491.16" clip-path="url(#p20addf5e7a)" style="fill: #5dff9a; fill-opacity: 0.8"/><path d="M 1639.9 434.15 L 1679.4 434.15 L 1679.4 377.14 L 1639.9 377.14 L 1639.9 434.15" clip-path="url(#p20addf5e7a)" style="fill: #9aff5d; fill-opacity: 0.8"/><path d="M 1639.9 377.14 L 1679.4 377.14 L 1679.4 320.14 L 1639.9 320.14 L 1639.9 377.14" clip-path="url(#p20addf5e7a)" style="fill: #d4ff23; fill-opacity: 0.8"/><path d="M 1639.9 320.14 L 1679.4 320.14 L 1679.4 263.13 L 1639.9 263.13 L 1639.9 320.14" clip-path="url(#p20addf5e7a)" style="fill: #ffdb00; fill-opacity: 0.8"/><path d="M 1639.9 263.13 L 1679.4 263.13 L 1679.4 206.12 L 1639.9 206.12 L 1639.9 263.13" clip-path="url(#p20addf5e7a)" style="fill: #ff9400; fill-opacity: 0.8"/><path d="M 1639.9 206.12 L 1679.4 206.12 L 1679.4 149.11 L 1639.9 149.11 L 1639.9 206.12" clip-path="url(#p20addf5e7a)" style="fill: #ff5200; fill-opacity: 0.8"/><path d="M 1639.9 149.11 L 1679.4 149.11 L 1679.4 92.11 L 1639.9 92.11 L 1639.9 149.11" clip-path="url(#p20addf5e7a)" style="fill: #fa0f00; fill-opacity: 0.8"/><path d="M 1639.9 92.11 L 1679.4 92.11 L 1679.4 35.1 L 1639.9 35.1 L 1639.9 92.11" clip-path="url(#p20addf5e7a)" style="fill: #a80000; fill-opacity: 0.8"/></g><g id="matplotlib.axis_3"/><g id="matplotlib.axis_4"><g id="ytick_9"><g id="line2d_92"><defs><path id="m71624a77a0" d="M 0 0 L 16.2 0" style="stroke: #262626; stroke-width: 3.3"/></defs><g><use href="#m71624a77a0" x="1679.4" y="833.2" style="fill: #262626; stroke: #262626; stroke-width: 3.3"/></g></g><g id="text_63"><text style="font-size: 18.5px; font-family: 'DejaVu Sans', 'Liberation Sans', sans-serif; text-anchor: start; fill: #262626" x="1701.3" y="840.23" transform="rotate(-0 1701.3 840.23)">6</text></g></g><g id="ytick_10"><g id="line2d_93"><g><use href="#m71624a77a0" x="1679.4" y="719.19" style="fill: #262626; stroke: #262626; stroke-width: 3.3"/></g></g><g id="text_64"><text style="font-size: 18.5px; font-family: 'DejaVu Sans', 'Liberation Sans', sans-serif; text-anchor: start; fill: #262626" x="1701.3" y="726.21" transform="rotate(-0 1701.3 726.21)">18</text></g></g><g id="ytick_11"><g id="line2d_94"><g><use href="#m71624a77a0" x="1679.4" y="605.17" style="fill: #262626; stroke: #262626; stroke-width: 3.3"/></g></g><g id="text_65"><text style="font-size: 18.5px; font-family: 'DejaVu Sans', 'Liberation Sans', sans-serif; text-anchor: start; fill: #262626" x="1701.3" y="612.2" transform="rotate(-0 1701.3 612.2)">30</text></g></g><g id="ytick_12"><g id="line2d_95"><g><use href="#m71624a77a0" x="1679.4" y="491.16" style="fill: #262626; stroke: #262626; stroke-width: 3.3"/></g></g><g id="text_66"><text style="font-size: 18.5px; font-family: 'DejaVu Sans', 'Liberation Sans', sans-serif; text-anchor: start; fill: #262626" x="1701.3" y="498.19" transform="rotate(-0 1701.3 498.19)">42</text></g></g><g id="ytick_13"><g id="line2d_96"><g><use href="#m71624a77a0" x="1679.4" y="377.14" style="fill: #262626; stroke: #262626; stroke-width: 3.3"/></g></g><g id="text_67"><text style="font-size: 18.5px; font-family: 'DejaVu Sans', 'Liberation Sans', sans-serif; text-anchor: start; fill: #262626" x="1701.3" y="384.17" transform="rotate(-0 1701.3 384.17)">54</text></g></g><g id="ytick_14"><g id="line2d_97"><g><use href="#m71624a77a0" x="1679.4" y="263.13" style="fill: #262626; stroke: #262626; stroke-width: 3.3"/></g></g><g id="text_68"><text style="font-size: 18.5px; font-family: 'DejaVu Sans', 'Liberation Sans', sans-serif; text-anchor: start; fill: #262626" x="1701.3" y="270.16" transform="rotate(-0 1701.3 270.16)">66</text></g></g><g id="ytick_15"><g id="line2d_98"><g><use href="#m71624a77a0" x="1679.4" y="149.11" style="fill: #262626; stroke: #262626; stroke-width: 3.3"/></g></g><g id="text_69"><text style="font-size: 18.5px; font-family: 'DejaVu Sans', 'Liberation Sans', sans-serif; text-anchor: start; fill: #262626" x="1701.3" y="156.14" transform="rotate(-0 1701.3 156.14)">78</text></g></g><g id="ytick_16"><g id="line2d_99"><g><use href="#m71624a77a0" x="1679.4" y="35.1" style="fill: #262626; stroke: #262626; stroke-width: 3.3"/></g></g><g id="text_70"><text style="font-size: 18.5px; font-family: 'DejaVu Sans', 'Liberation Sans', sans-serif; text-anchor: start; fill: #262626" x="1701.3" y="42.13" transform="rotate(-0 1701.3 42.13)">90</text></g></g><g id="text_71"><text style="font-weight: 700; font-size: 19.3px; font-family: 'DejaVu Sans', 'Liberation Sans', sans-serif; text-anchor: middle; fill: #262626" x="1745.51" y="434.15" transform="rotate(-90 1745.51 434.15)">Perplexity (PPL)</text></g></g><g id="LineCollection_1"/><g id="patch_32"><path d="M 1639.9 833.2 L 1659.65 833.2 L 1679.4 833.2 L 1679.4 35.1 L 1659.65 35.1 L 1639.9 35.1 L 1639.9 833.2 z" style="fill: none; stroke: #cccccc; stroke-width: 3.1; stroke-linejoin: miter; stroke-linecap: square"/></g></g><g id="text_72"><text style="font-weight: 700; font-size: 22.9px; font-family: 'DejaVu Sans', 'Liberation Sans', sans-serif; text-anchor: middle; fill: #262626" x="413.5" y="36.23" transform="rotate(-0 413.5 36.23)">3-D Contour-Surface of Perplexity</text></g><g id="text_73"><text style="font-weight: 700; font-size: 23px; font-family: 'DejaVu Sans', 'Liberation Sans', sans-serif; text-anchor: middle; fill: #262626" x="1307.8" y="17.86" transform="rotate(-0 1307.8 17.86)">Projection with Best Trade-off Curve</text></g><g id="text_74"><text style="font-weight: 700; font-size: 27px; font-family: 'DejaVu Sans', 'Liberation Sans', sans-serif; text-anchor: middle; fill: #262626" x="427" y="984.95" transform="rotate(-0 427 984.95)">a</text></g><g id="text_75"><text style="font-weight: 700; font-size: 27px; font-family: 'DejaVu Sans', 'Liberation Sans', sans-serif; text-anchor: middle; fill: #262626" x="1354" y="984.95" transform="rotate(-0 1354 984.95)">b</text></g></g><defs><clipPath id="p803f7db9d6"><rect x="-57.25" y="-36.98" width="940.88" height="940.88"/></clipPath><clipPath id="p7850dd5fec"><rect x="1045.5" y="43" width="524.4" height="782.5"/></clipPath><clipPath id="p20addf5e7a"><rect x="1639.9" y="35.1" width="39.5" height="798.1"/></clipPath></defs></svg>

</body></html>
